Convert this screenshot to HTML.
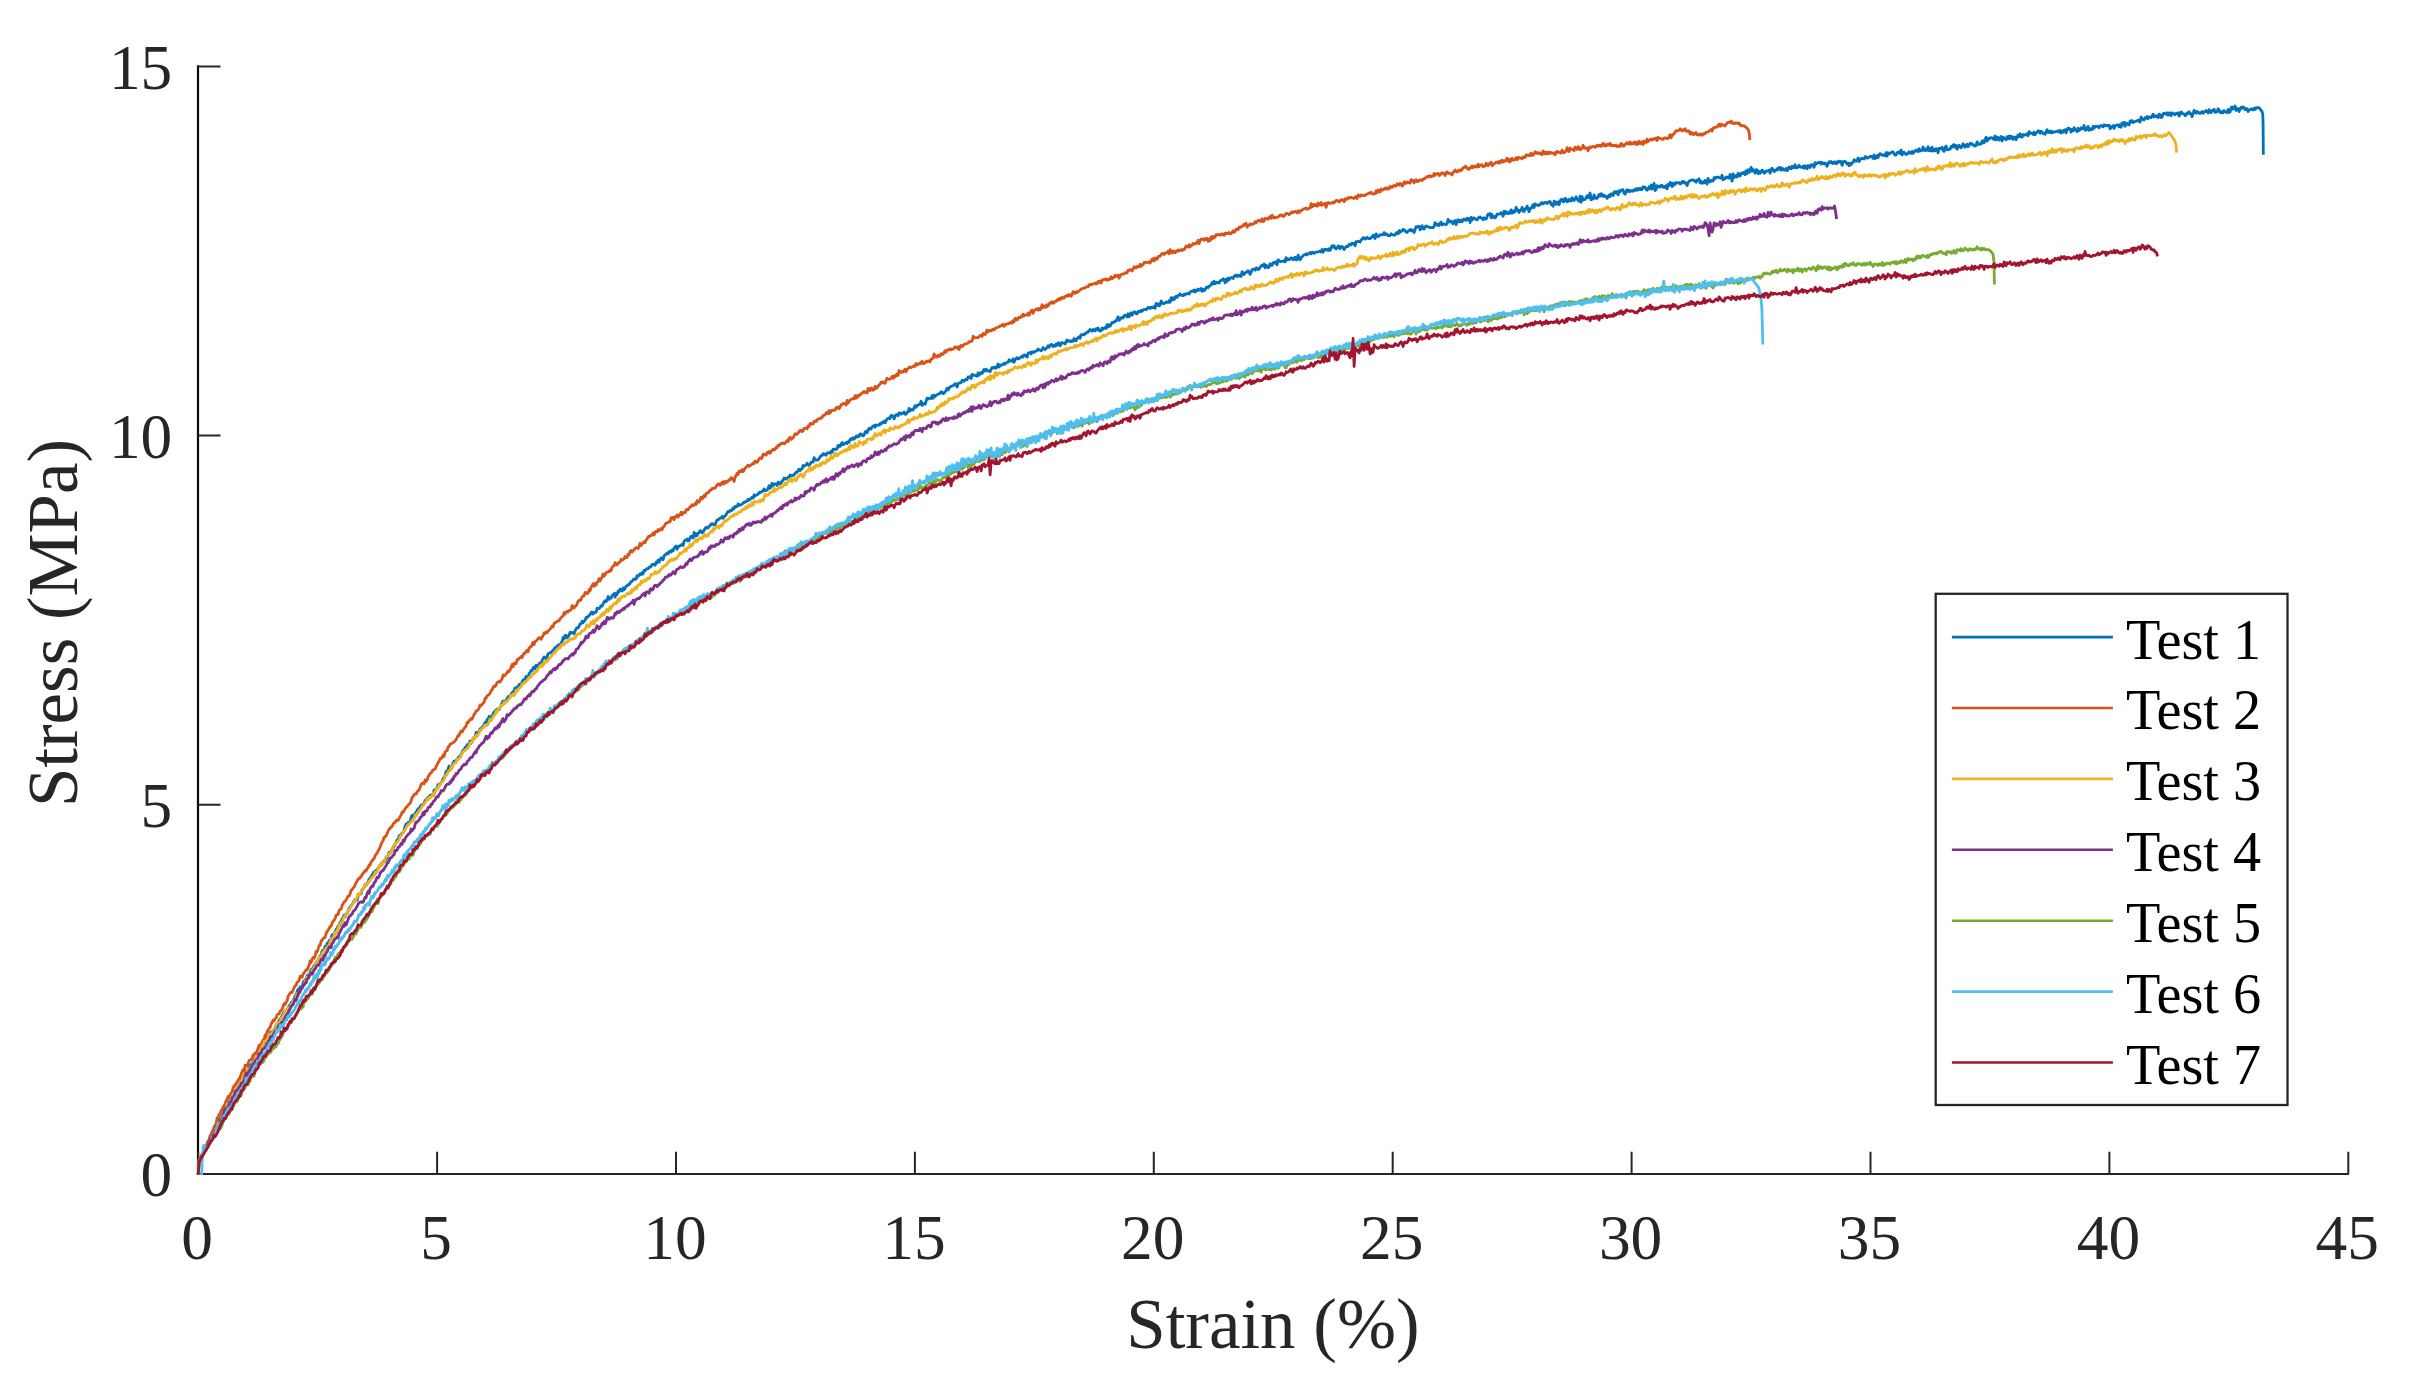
<!DOCTYPE html>
<html lang="en">
<head>
<meta charset="utf-8">
<title>Stress-Strain</title>
<style>
html,body{margin:0;padding:0;background:#fff;}
body{width:2410px;height:1386px;overflow:hidden;}
svg{display:block;}
text{font-family:"Liberation Serif","Times New Roman",Times,serif;}
.tk{font-size:63.4px;fill:#262626;}
.lb{font-size:70.9px;fill:#262626;}
.lg{font-size:56.25px;fill:#000;}
.c{fill:none;stroke-width:2.8;stroke-linejoin:round;stroke-linecap:butt;}
</style>
</head>
<body>
<svg width="2410" height="1386" viewBox="0 0 2410 1386">
<rect x="0" y="0" width="2410" height="1386" fill="#fff"/>
<g stroke-width="2.2" fill="none">
<path stroke="#262626" d="M197.1 1174.0H2348.9"/>
<path stroke="#0a0a0a" d="M198.0 65.3V1175.1"/>
</g>
<g stroke="#262626" stroke-width="2" fill="none">
<path d="M198.2 1174.0v-22.3M437.1 1174.0v-22.3M676.0 1174.0v-22.3M914.9 1174.0v-22.3M1153.8 1174.0v-22.3M1392.7 1174.0v-22.3M1631.6 1174.0v-22.3M1870.5 1174.0v-22.3M2109.4 1174.0v-22.3M2348.3 1174.0v-22.3M198.2 1174.0h22.3M198.2 804.8h22.3M198.2 435.6h22.3M198.2 66.4h22.3"/>
</g>
<g class="c">
<path stroke="#0072BD" d="M198.2 1174.5l0.9-13.6l1-1.9l1-2.3l1-2.3l1-2l1-2.5l1-1.6l1-1.5l1-3.1l1-2.7l1-0.8l1-2.1l1-2.3l1-3.3l1-0.5l1-0.8l1-4.2l1-1.1l1-3.5l1-1.1l1-2l1 0l1-3.4l1-0.2l1-2l1-2.7l1-5l1 0.6l1-1.6l1-1.6l1-3.6l1-0.5l1-2.5l1-1.3l1-0.1l1-3.5l1-0.9l1-0.4l1-3.9l1-1l1-1.1l1-1.5l1-3.4l1-0.3l1 0.1l1-5l1 0.8l1-2.8l1-2.4l1 1.3l1-3l1-3.6l1-0.3l1-1l1-2.6l1-0.6l1-2.2l1-1l1-0.7l1-3.8l1-1l1-2.2l1-1.3l1-3l1-0.4l1-1.5l1-0.1l1-1.4l1-4l1-1l1 0.3l1-4.7l1 0.3l1-1.5l1 0.6l1-2l1-2.2l1-2.1l1-2l1 0.5l1-3.8l1-1.1l1-1.2l1-2.1l1-1.7l1-2.3l1-0.4l1-1.5l1 0.3l1-2.1l1-2.3l1-0.2l1-2.9l1 0.5l1-2.8l1-1.1l1-3.6l1-0.1l1-4l1-2.2l1 0.5l1-2.8l1-0.1l1 0.8l1-5.2l1-1.8l1-0.4l1-1.7l1-2.3l1-1.5l1-0.3l1-1.7l1-3.3l1-0.5l1-1.5l1-2.1l1-0.2l1-3l1 0.2l1-2.6l1-1.9l1-2l1-1.1l1-3.8l1-0.8l1 0.4l1-4.2l1 1.8l1-4.8l1 0.6l1-3.5l1 0l1-2.3l1-3.6l1 1.5l1-1.5l1-2.8l1-2.1l1-1.3l1-2.6l1 0.2l1-3.5l1-1.1l1-2.5l1-1.2l1-2.6l1 1.6l1-2.9l1-0.1l1-2.7l1-2.8l1-0.8l1-1.9l1-0.8l1-2.1l1-1l1-2.2l1-0.5l1 1.2l1-3.9l1-2l1 0l1-0.2l1-4.5l1-0.3l1-1.9l1-3.2l1 1.3l1-1.7l1-1.7l1-3l1 0.3l1-3l1-0.8l1-2.6l1-1.1l1 2.1l1-3.6l1-0.4l1-1.8l1-1.3l1-1.6l1 0.2l1-2l1-1.1l1-1.5l1 0.3l1-1.4l1-1.9l1-2.6l1-2.9l1 1l1-1.4l1-2.7l1-1.3l1-1.5l1-2.1l1-1.5l1-2.9l1 0.6l1-4.8l1 0.4l1-1.8l1-1.3l1-0.5l1-2l1-4.4l1-2.1l1 1.5l1-3.1l1 0l1-0.5l1-4.5l1-2.1l1 1.2l1-1.4l1-1.7l1-1.1l1-1.9l1-1.7l1 0.6l1-2.5l1-1.9l1 1.1l1-1.8l1-0.9l1-2.9l1-0.6l1-1.5l1-1.3l1 0.5l1-2l1-0.1l1-1.1l1 0.3l1-4.6l1 1.4l1-2.4l1-1.4l1-3l1 0l1-0.1l1-2.3l1-1.1l1-2.8l1 0.1l1-3l1-4.1l1 0.7l1-3l1-3l1 1.8l1 0.8l1-2.9l1-3l1-1.4l1 1.2l1-2.4l1-0.6l1-1.7l1-0.9l1-0.6l1-1.8l1-1.7l1-2.7l1 0.3l1-2.9l1 1.1l1-4l1 0.1l1-1.1l1-2.6l1 2.2l1-1.6l1-3l1 0.3l1-1.7l1-4.8l1 1.7l1-1.7l1-0.8l1-2.8l1-0.3l1-1.3l1-0.2l1-2.5l1-2l1 0.9l1-3.8l1-0.5l1-2.7l1 2.6l1-1.8l1-1.6l1-1.7l1-1.9l1-0.8l1-1.3l1-0.6l1-0.8l1 1l1-2.1l1-2.3l1-2.4l1-1.7l1 2l1-2l1-0.7l1-1.7l1-1.9l1-0.2l1-0.1l1-2.7l1-0.9l1-1.3l1-0.8l1-2.8l1 0.6l1-1.6l1 0.5l1-3l1 0.2l1 0.4l1-3.3l1-1.7l1 0l1-1.4l1-2.2l1 0.8l1 0.2l1-3.9l1-1l1-2.1l1 0.3l1-2.8l1-0.9l1 1.7l1-3.5l1 1.6l1-0.8l1-2.3l1-0.7l1 0.5l1-3.2l1-1.5l1-1.8l1 0.9l1 0.8l1-1.9l1-3l1-0.5l1-0.6l1 0l1-1.4l1-1l1-1l1-1.8l1-0.3l1-0.6l1-1.5l1-0.4l1 0.7l1-2.4l1-1.7l1-3.8l1 1.5l1-3.6l1 0l1 2.3l1-1.1l1-1.5l1-2.8l1 1l1-0.9l1 0.6l1 0.9l1-3.1l1-2l1-1.1l1 0.3l1-1.7l1-2.5l1-0.1l1-2.4l1 1.5l1-1.5l1-1.1l1-2.7l1 0.3l1-1.4l1-0.8l1-1.1l1-1.8l1-0.8l1 2.2l1-1.6l1-0.2l1 0l1-4.2l1 0.4l1 0.1l1-1.1l1-1.9l1 0.5l1-2.1l1-2.2l1-1.1l1 0.9l1-1.4l1-3.7l1 2.9l1-1.4l1 0.2l1-2.6l1-0.7l1-1.3l1 3.5l1-3.8l1 1.3l1-3.4l1 0.5l1-2.6l1 1l1 1l1-3.2l1 1.9l1-1.6l1-2.1l1-0.2l1-1.3l1 0l1-1.5l1-1.5l1-0.2l1-1.8l1-0.7l1 0.5l1-0.2l1-3.5l1 0.7l1-1.1l1-1.6l1 0.8l1-1.9l1 1.3l1-3.5l1 0.4l1-1.4l1-0.8l1 0l1-1.5l1 0.3l1-1.1l1-1.8l1 0l1-0.1l1 0.9l1-3.1l1 0.5l1-2.7l1 2.1l1-2.4l1-2l1 1.6l1 0.4l1-3.9l1-1l1-0.6l1-1.2l1 0.8l1-2l1-0.6l1 0.8l1-2l1 0.8l1-2.7l1-1.2l1-1l1 3.5l1-2.9l1 0l1-0.9l1-0.6l1-0.7l1 1.2l1-4.2l1-1.2l1 0l1-1l1 1.9l1-0.5l1-3l1-1.3l1 0.4l1 1.5l1-5.6l1 3.6l1-2.3l1 1.7l1-2.6l1 0l1-2.2l1 0.3l1 1.8l1-0.7l1-2l1-1.5l1-1.4l1 1l1-0.2l1-1.7l1-0.8l1-1.6l1 0.4l1-0.5l1 1.2l1-0.2l1-2.8l1-2.1l1 0l1-0.8l1-1l1 0l1-1.7l1 1.8l1-1.8l1-0.3l1-1.4l1-1.8l1-1.5l1 0.5l1-1.5l1 0.5l1-0.7l1-2.3l1 0.6l1-2l1 0.1l1 0l1-2.7l1 1.5l1-0.2l1-0.5l1-0.6l1-1.1l1-0.9l1 0.2l1-1l1-0.2l1-1.9l1 1.1l1-1l1-1.1l1-0.8l1 0.7l1-3.3l1 1.3l1-1l1-0.4l1-0.5l1-1.6l1-0.6l1 0.4l1-0.9l1-0.7l1-1.9l1 1.8l1-0.1l1-0.5l1-1.8l1-2.7l1 2.8l1-1.8l1-3.3l1 2.6l1-2.1l1 0l1 0.3l1 1.3l1-3.2l1 0.3l1 1.6l1-0.9l1-2.3l1-0.4l1-2.5l1 0.3l1 0.7l1-0.6l1-1.2l1 0.5l1-2.7l1 0.6l1 0.3l1-0.9l1 0.1l1-1.6l1-1.4l1 0.3l1-1.8l1-1.5l1 1.5l1-1.4l1-0.4l1-3.3l1 0.9l1-1l1-0.5l1-1.6l1 1.3l1 1.1l1-1.3l1-2l1-0.4l1 0.1l1-4.5l1 2.2l1 0.4l1-0.4l1 0.2l1-1.5l1-1.6l1-1.2l1 0l1-2l1 0.1l1 0.8l1 0.6l1-2.4l1 0l1-0.2l1 0.6l1-1.9l1 1.1l1-3.2l1 0.4l1-0.6l1 0.3l1-0.3l1-3.7l1 0.1l1 1.1l1-2.4l1-1.7l1 2.3l1-0.6l1-0.7l1-0.9l1 1.1l1-2l1 0.7l1-3l1-0.7l1 1l1-1.9l1 1.4l1-1l1-2l1 0.9l1-1.3l1 0.7l1-2.4l1 0l1 1.2l1 0.7l1-0.9l1-3.1l1-0.4l1 1.2l1-2.9l1-1.5l1 1l1-0.3l1-2.2l1-0.8l1-0.5l1 1.7l1-2.2l1 0.1l1 0l1 0.1l1-1.7l1 0.5l1-1.7l1 0.2l1-1.5l1 1.8l1-2.2l1-1.7l1-0.4l1-0.5l1 0.6l1-3.1l1 0.1l1 0.4l1 2.9l1-2.6l1-1.7l1 0.3l1 0.8l1-2.9l1 0.1l1 1.3l1-0.9l1 0.1l1-1.5l1 2.4l1-0.1l1-1.8l1-0.5l1-3.5l1 2.6l1-1.5l1 0.4l1 0.1l1-2.3l1-2.1l1 1.8l1-2l1-0.1l1-0.9l1-0.4l1-2.7l1 4l1-1.8l1 0.4l1 0.4l1-3.1l1-3l1 0.9l1-0.8l1 0l1 0.2l1-2.9l1 2.6l1-3.1l1 1.5l1-1.2l1-0.6l1-0.5l1-0.8l1 0l1-1.8l1 0.6l1 1.4l1-0.4l1-1.5l1-1.3l1-2.4l1 2l1-2.2l1-1l1-0.6l1-0.1l1-0.7l1-0.3l1-1.6l1 0.6l1 2.8l1-3.4l1-0.8l1 0.1l1-0.1l1-2.5l1 0.3l1 0.7l1-1.4l1-0.6l1 0.6l1-3l1 0.4l1-0.7l1 2l1-4.1l1 0.7l1-0.4l1 0.9l1-0.2l1 0.7l1-3.4l1 2.4l1-1.7l1-1l1 0.9l1-1.9l1-2l1 1.4l1-1.6l1 1l1 0.9l1-0.3l1 0.8l1-2.5l1-1.8l1 0.8l1-0.6l1-0.5l1 1.1l1-1.8l1-2.4l1 3l1-1.8l1 0.2l1-0.7l1-0.3l1-1.2l1 1.1l1-1.5l1-0.3l1-0.3l1-2.4l1 1.2l1-0.2l1 0.6l1-2.5l1 3.4l1-2.3l1-1.6l1-0.7l1 1.2l1-0.3l1-1.1l1-0.2l1-1.4l1 1.2l1-2.3l1 0.1l1 1l1 1.2l1-3.9l1-0.3l1-0.5l1 1.7l1-2.3l1 0.5l1 0.1l1-1.3l1 0l1-0.4l1-1.7l1 0.8l1 0.4l1 0.6l1-1.3l1-1.9l1 1.1l1 0.9l1-1.2l1-1l1-1.6l1 1.5l1-1.9l1-1l1 0.4l1 1.8l1-1.3l1 0.8l1-2.1l1 1.4l1-2.5l1-0.1l1 3.1l1-2.1l1-1.3l1 0.6l1 0.1l1 0.8l1-2.5l1-1.6l1 1.4l1 0.1l1-0.6l1 1l1-1.1l1 0.5l1-2.7l1 1.9l1 0.5l1-2.2l1-1.1l1-0.9l1 1.6l1-3.7l1 0.1l1-0.1l1 0.3l1-1.6l1 0.1l1-1.4l1 0.1l1-1.3l1-1.4l1 1l1 0.8l1-1.7l1 0.4l1 1l1-2.3l1 1.2l1-1.8l1 2.4l1 0.7l1-0.2l1-2.9l1 1.2l1-1l1-0.8l1 1l1-3.7l1 2.2l1-2.1l1 1.4l1-1.9l1-2l1 0l1 0.1l1-1.4l1 0l1-1.8l1-2.3l1 3.4l1-0.8l1-1.5l1-0.7l1 0.7l1-2.3l1-0.6l1 0.5l1 1.3l1-3.1l1 2.9l1-2.7l1-1.2l1 2.3l1-2l1-1.3l1 0.5l1 1.5l1 0l1-2.4l1 0.4l1 0l1-1.5l1 1l1-1.3l1-0.6l1 0l1 0.4l1-0.9l1-1.5l1 0.2l1 0.8l1-1.3l1 0.6l1 0l1-1.2l1 1.7l1-4.7l1 1.7l1-1.4l1 2.1l1-0.8l1-4.1l1 1.4l1 1.1l1 0.1l1-0.5l1-1.2l1 0.4l1 0.1l1-1.6l1 1.4l1-4.5l1 2.3l1-2.3l1 1.9l1-2.2l1-1.2l1 1.3l1-2.2l1-0.1l1-1.4l1 1.5l1 0.1l1 0.4l1-1.7l1 1l1-1.4l1 0l1-0.1l1 0.5l1-2.2l1-0.5l1-0.3l1 0.2l1-1.4l1 2.1l1-1.9l1 0.6l1-1.7l1 1.2l1-0.1l1-1.6l1 2.9l1-2.2l1 1.4l1-0.9l1-2.1l1-0.7l1 0.8l1-1.4l1-0.5l1-1l1-2.3l1 1.4l1-2.6l1 2.5l1-1.2l1-0.4l1 0.6l1 0.2l1-2l1-0.7l1-0.2l1-1.4l1 1l1 3.2l1-3.7l1 2l1-3l1 1.7l1-2l1 0l1-0.3l1 0.9l1-2.2l1-0.6l1-0.8l1 1.6l1-1.2l1 0.7l1-0.8l1 1.3l1-4.9l1 1.2l1 1.8l1-1.6l1-0.8l1 0l1-1.6l1 1.6l1 2.1l1-2.1l1-2.6l1-0.2l1-0.2l1 1l1-2.3l1 0.3l1 1.4l1-0.6l1-1.7l1-1.2l1-1l1 0.9l1-2l1 3.8l1-2.5l1 0.9l1 1.6l1-0.9l1-3.1l1 1.6l1-0.1l1-2.4l1-0.6l1 1l1-1.6l1 3l1-4.8l1 0.6l1 1l1-0.1l1 0l1 0l1-0.7l1 1.2l1-4.3l1 2.3l1-1l1 0.8l1-0.4l1-1.5l1 0.3l1 1.7l1-1.1l1-1.6l1 2.8l1-0.2l1-4.5l1 2.3l1 2.3l1-2l1-1l1-1.2l1-0.7l1-0.2l1-0.9l1 1.1l1-1.2l1-0.1l1-1.1l1 1.3l1-1.7l1 0.4l1 1l1-1.2l1-0.1l1 0l1-0.4l1-0.2l1-0.5l1 1l1-2.6l1 2.6l1-2l1-1l1 0.9l1-0.5l1 0.9l1-1.6l1 1.6l1-2.6l1-2.1l1 1.4l1-1.4l1 2.5l1 0.7l1-0.7l1-2.2l1 0.4l1 2.2l1-1.9l1-0.2l1 1.2l1 1.8l1-1.6l1-1.4l1 0.1l1-0.3l1-1.8l1-0.5l1 0.9l1-1.7l1 0.6l1-0.4l1 2.4l1-4.2l1 0.1l1-0.4l1 0.4l1 0.3l1-2.3l1-0.4l1-1.7l1 0.2l1 1.3l1-0.6l1-1.2l1 1l1 0.3l1 0l1-1.2l1 0l1-2.2l1 0.1l1 3.2l1-4.7l1 2l1 0.8l1-0.9l1-1l1 0.3l1-0.2l1-0.1l1-2.1l1 2.1l1-0.9l1 0.5l1 1.2l1 0.1l1 0.1l1-1.9l1 1.1l1 0l1 0.1l1 0.2l1-2.2l1-0.6l1 1.4l1-3.1l1 1.6l1-1.3l1 0.2l1-1.9l1 0.4l1 1.1l1 1.4l1 0.2l1-1.4l1-0.6l1-0.9l1 1.4l1-1.1l1 1.1l1 1.7l1-3l1-2.8l1 0.4l1-0.8l1 0.1l1 3.4l1-1.4l1-2.9l1 2.9l1 0.5l1-2.4l1-0.6l1 0.4l1 0.5l1 0.4l1 0.4l1 0l1-0.4l1 0.4l1-1.4l1-3.6l1 1.6l1 1l1-1.3l1 1.5l1-2.3l1-1.1l1 2.9l1-1.1l1 0l1 0.6l1 0.2l1-1.2l1-4.1l1 2.4l1 0.1l1-1l1 1.6l1 1.3l1-2.4l1-0.9l1 4.2l1-3.5l1-1.6l1 2.2l1 0.1l1-1.9l1 1.7l1-2.1l1-0.7l1 1l1 0.5l1-2.1l1 1.3l1-1.2l1 4.2l1-5.2l1 2.7l1-2l1-0.3l1 1.1l1 0.6l1 0.4l1-1.6l1-1.1l1-0.2l1 1.2l1-0.1l1 1.8l1-2.1l1 0.7l1 0.6l1-2.3l1-2.7l1 0.4l1-1l1 4.3l1-3.3l1 2.7l1-0.8l1 1.5l1-1.5l1-2.3l1-0.1l1 0.2l1-0.2l1-1.4l1 1.1l1 2.4l1-4.9l1 2.5l1-2.1l1 1.4l1 0.7l1-1.5l1 1.1l1-3.4l1 3.3l1-2.3l1 1.3l1-0.5l1-4.3l1 2.1l1 1.2l1 1.8l1-2.1l1-0.4l1-2.6l1 3.7l1 0.4l1-2.5l1-0.7l1-2.2l1 3.1l1 2.4l1-3.3l1 0.1l1-1.5l1-2.2l1 2.9l1-3.8l1 1.1l1 0.1l1 0.6l1-0.9l1 0.1l1-1.6l1-0.7l1 1.4l1-0.9l1-0.7l1 0.6l1 0.6l1-1.7l1 0.3l1-0.6l1 3l1 0l1 1.7l1-5l1 0.7l1 2.5l1-2.3l1-0.1l1 2.7l1-3.6l1-1.6l1-0.3l1 2.6l1-0.3l1-3.1l1 0.8l1 2.5l1-0.2l1-2.2l1 1.5l1 0.2l1-3.3l1 1.7l1 1l1-1.5l1-2.1l1 2.4l1 1l1 1.1l1-5.2l1 6.1l1-5.5l1 3.2l1-0.1l1-0.5l1-1.7l1-2l1 2.3l1-1.8l1-3.1l1 6.8l1-2.6l1 1.8l1-4.2l1 3.2l1 0.4l1-0.1l1-2.1l1-1.7l1 1.8l1-2.6l1 0.6l1 2.2l1-1.3l1 1.1l1 0l1 2.1l1-1.5l1-1.9l1 1.6l1-2.8l1 0l1 1.7l1-3.6l1 1l1-1.5l1 1.7l1 1.7l1-4l1 1l1-1.7l1-0.1l1-0.3l1 3.6l1 1l1-2.6l1-1.9l1 1.8l1-1.5l1 1.4l1-0.9l1 0l1 0.7l1-1.6l1 0.6l1-1.7l1 1.6l1-1.8l1 1.1l1-1.2l1 1.2l1 0l1-2.8l1 0.7l1-0.3l1 2.1l1 1l1-1.1l1-2.3l1 1.9l1-3.7l1 4.1l1-2.6l1-3.1l1 7.2l1-1.2l1-3.7l1 1.2l1-0.5l1 0.7l1-2l1 0.5l1 1.6l1-0.8l1 1l1-1.6l1 3.1l1-4.6l1 1.2l1-3.1l1 0.7l1 3.5l1-3.4l1 1.8l1-1.2l1-1.4l1 0.6l1-0.1l1-0.3l1 1.4l1-0.5l1-1.9l1-0.2l1 1.5l1-0.7l1 1.4l1 1.9l1-2.7l1-1.7l1-0.3l1-0.8l1 0.1l1-0.3l1 1.1l1-0.2l1 1.6l1-2.2l1 0l1-1.3l1 4.1l1-1.5l1 1.8l1-1.4l1 1.1l1-2.5l1 1.1l1 2.6l1-5.8l1 3.2l1 0.5l1-1.7l1 0.3l1 0.4l1-3.3l1 1.1l1-1.6l1 0.1l1-0.3l1 0.5l1 0.4l1 0.1l1-2.7l1 4.6l1-1.2l1-0.1l1-1.5l1-0.1l1 1.1l1-0.2l1-3.5l1 3.5l1 3.2l1-7.2l1 3.7l1-1.1l1-1l1 1.6l1-3.8l1 1l1 1.7l1-2.7l1-0.4l1 0.6l1-1.3l1 2.4l1-3.8l1 2.8l1-3.8l1 2.6l1-1.5l1-3.5l1 3.8l1-1.6l1 0.8l1 2.8l1-3.5l1 0.1l1 3.8l1-2.1l1 1.8l1-1.8l1-1.4l1 1l1 2.1l1-0.7l1-1.5l1 0.1l1-0.3l1-0.8l1 3.2l1-3.2l1-1.8l1 1.3l1 2l1-0.4l1-1l1-1.4l1 0.9l1-2.3l1 0.2l1 2.8l1-2.3l1 1.1l1 1.1l1-0.5l1-1.3l1 2.4l1-2.1l1-1.8l1 1.7l1 0l1-2.3l1 1.5l1-0.2l1-2.9l1 3.1l1-0.3l1-0.1l1-2.2l1 1.5l1 0.6l1 0l1-1.3l1 2.3l1-2.6l1 1.5l1 1.7l1-3.4l1 0.3l1 1.8l1-2.7l1-0.3l1 0.7l1 2l1-4.7l1 1.5l1-0.7l1-0.8l1 0l1-0.5l1 1.9l1-1.6l1 1.3l1 0.3l1-1l1 1.2l1 2.1l1-2.7l1-1.8l1 0.8l1-1.2l1 1.6l1 0.6l1-1.8l1 0.2l1 1.9l1-2.1l1 1l1-1.6l1 0.2l1 0.4l1 3.6l1-3.7l1-0.2l1 0l1 0.9l1 1.7l1-0.9l1 2.6l1-2.6l1 1.5l1-1.9l1-0.3l1-2.9l1 1.3l1 0.3l1-0.5l1-2.7l1 3.6l1-2l1-1l1-0.1l1 0.1l1 0.4l1-2.4l1 0.2l1 1.3l1-0.4l1-0.6l1-0.7l1-0.1l1 0.5l1 1.6l1-3.4l1 3.6l1-0.5l1-2.5l1 1.9l1-3l1-0.9l1 0.6l1 1.1l1-0.2l1-0.1l1 0.8l1-3.1l1 3.5l1-3.4l1 1.1l1-0.5l1-0.8l1-0.6l1-0.1l1 2l1 1.2l1-0.1l1-2.4l1-0.1l1-0.7l1 1.8l1-3.6l1 5l1-2.5l1-0.3l1 1.2l1 1.1l1-0.8l1-0.1l1-1.8l1 1.2l1 0.4l1-2l1 2l1-1.9l1 0.1l1-1.7l1 0.6l1 1.1l1-2.8l1 2.2l1-0.9l1 0.5l1-3.6l1 2.9l1 0.8l1-1.7l1 1.3l1-3.5l1 3.9l1-2.1l1 2.4l1-3.6l1 3.6l1-1.4l1 1.3l1-2.3l1 0.4l1 3.8l1-4.4l1-0.1l1 0.4l1-1.4l1 3.2l1 0.8l1-3.9l1-1.3l1 3.8l1-0.2l1-0.5l1 0l1-2.8l1 0.8l1-2.1l1-0.5l1 2.8l1-2l1 3.8l1-2.8l1-1.2l1 1.5l1 1.1l1-2l1-2.1l1 2.4l1 1.1l1-2.5l1-0.4l1 2.4l1-1.5l1-1.9l1 0.9l1-0.5l1 1.6l1-0.3l1 1.1l1-0.8l1-3.4l1 2.2l1 0.3l1-0.8l1 0.5l1-2.8l1-0.6l1 2.1l1-3.5l1-2l1 3.9l1-2.7l1 0.6l1-1.3l1-0.2l1 0.2l1 1.1l1 0.6l1-3.5l1 4l1-2.8l1 0.3l1 2.6l1-1.5l1-2.2l1 4.6l1-3.8l1 1.2l1 0.2l1 1.1l1-2.9l1 1.9l1-2.7l1 2.6l1-2.3l1 0.4l1 2.7l1-2.2l1 0l1 2.6l1-2.7l1-2.1l1 1.7l1-2.9l1 3.1l1 0.3l1-2.7l1 0.2l1 0.5l1-0.4l1-1.1l1 2l1-4l1 1.7l1-0.2l1-0.1l1 1.3l1-2.1l1 2.5l1-1.8l1-0.6l1-1.7l1 0.5l1 2l1-2l1 1.1l1 1.1l1 0.5l1 0.3l1-2.8l1-1.7l1 2.7l1-1.2l1 1.4l1-1.7l1 2l1-0.9l1 0l1-0.2l1-0.2l1-0.2l1-0.6l1 1.2l1-1.5l1 2.6l1-2.2l1 1.2l1-1.9l1-0.6l1 3.3l1-3.1l1-1.7l1 0.3l1 0.7l1 3l1-2.7l1 1.4l1-3.1l1 2.1l1 0.3l1 1.5l1-3.3l1 2.2l1-0.9l1-1.8l1 1.1l1-0.2l1-3.2l1 4.7l1 0l1-2l1-1.8l1 4l1-1.8l1 0.9l1 0l1-3.2l1 1.9l1-1.8l1 0.1l1-0.2l1 0.3l1 1.1l1-1.7l1-0.5l1 0.5l1 0.8l1-2l1 0.4l1 0.7l1-0.5l1 0.2l1-0.4l1 3.6l1-1l1-1.5l1-0.7l1 2.8l1-2.7l1-0.5l1-0.1l1-0.2l1 1.9l1-2l1 2.5l1-4.4l1 1.9l1-2.4l1 4l1-3.3l1 0.3l1 1.1l1 0.4l1-4.1l1 1.1l1-1.3l1 1.9l1-0.7l1-0.2l1-0.5l1-0.1l1-1l1 1l1 1.1l1-5.1l1 2.4l1-0.5l1 1.1l1-2.3l1 0.5l1-1.7l1 2.2l1-1.4l1-0.5l1 0.8l1-1.4l1-2l1 2.7l1-0.6l1-0.7l1 1.4l1 0.5l1-3.3l1 0.5l1 2.8l1-0.4l1-3.2l1-0.7l1 0.6l1 0.4l1-1.4l1 2.3l1-2.1l1 0l1 2.7l1-2.8l1 0.4l1 1l1 0.4l1-1.5l1 0.4l1-0.9l1 3.3l1-1.7l1-2.4l1 1.1l1 0.9l1-0.1l1 1.9l1-0.4l1-2.4l1 0.5l1-1.6l1 2.1l1-0.2l1 3l1-3.3l1-3l1 2l1 0.9l1-1.8l1 0.6l1 0.8l1 0.7l1-1l1-1.1l1 1.9l1-1.7l1 0l1-1.1l1 0.9l1 1.4l1-3.2l1 2.3l1 0.6l1-2.2l1 0.5l1-1.7l1 3.2l1-0.2l1-0.6l1-2.8l1 1.1l1 2.6l1 0.4l1-1.4l1 1.3l1-2.3l1 1.3l1 0.4l1 0.4l1-3.1l1 2.9l1-0.5l1-4.3l1-0.7l1 2.3l1-1.5l1-1.8l1 4.6l1-0.9l1-1.1l1 3.1l1-2.7l1-1.6l1 0.9l1-1.2l1 0.7l1 2l1-0.9l1-0.2l1 3l1-1.6l1-0.3l1-0.7l1 0.1l1 0.8l1-1.7l1 1.3l1-1.8l1 0.3l1-0.4l1 0.3l1.4 1.6l1.5 2l0.8 3l0.3 10.5l0.2 29.7"/>
<path stroke="#D95319" d="M198.2 1174.5l0.9-13.7l1-2.4l1-2.5l1-1.3l1-2.7l1-1.5l1-2.5l1-2l1-1.5l1-3.3l1-1.4l1-4.4l1 0l1-3.6l1-2.1l1-2.5l1-2.1l1-0.9l1-6.2l1-0.6l1-3l1-0.2l1-3.5l1-1.3l1-2.4l1-1.1l1-2.2l1-2.7l1-1.5l1-3l1 0.2l1-1.2l1-2.8l1 0.3l1-5.3l1-1.5l1-1.3l1-1l1-1.9l1-1.6l1-1.7l1-1.3l1-3l1-2.4l1-2.3l1 1.7l1-6.1l1 0.6l1 0.4l1-2.8l1-2.9l1-0.3l1-0.7l1-1.2l1-3.4l1 0.2l1-2l1-0.6l1-1.3l1-3.2l1-2.9l1 0.1l1-0.6l1-2.5l1-2.2l1 0.1l1-4.9l1 0.1l1-3.7l1-1.2l1-2.1l1-0.5l1-3.8l1-1.3l1-2.3l1 0.6l1-2.3l1-0.7l1-3l1-0.7l1-0.2l1-2.8l1-0.6l1-1.7l1-2.4l1-2.7l1 0.7l1-2.4l1-1.1l1-4.8l1-1.3l1-2.1l1-0.7l1 0.5l1-2.5l1-2.6l1-1.8l1-0.5l1-2.9l1-0.7l1-1.2l1-4.1l1 0.5l1 0.6l1-3.3l1-1l1-1.8l1-1.6l1 0.4l1-2.7l1-2.2l1-4.3l1 1.7l1-3.3l1-1.9l1 0.9l1-2.2l1-4.8l1 0.7l1-2.9l1-3.4l1-0.3l1-4.3l1-0.9l1-1.6l1-0.9l1-0.3l1-3.9l1-2l1-1.5l1-1.2l1-2.4l1-0.2l1-3.1l1-1.9l1-0.9l1-1.6l1-3.3l1-0.8l1-0.3l1-3.8l1-1.2l1-0.2l1-3.7l1-1.5l1-2l1-0.4l1-1.5l1-2.3l1-1.6l1 0l1-2.2l1-3.5l1-0.6l1-1.8l1-0.8l1-2.5l1-2l1-1.6l1-2.2l1 0.3l1-2l1-0.1l1-2.7l1-0.8l1-1.6l1-1.6l1 0.6l1-2.5l1-0.6l1-2.9l1 0.2l1-3.4l1-0.7l1-1.8l1-0.6l1-2.8l1-1.8l1-0.9l1-2.4l1-1.6l1-2l1-2.8l1-2.4l1-1.5l1-3l1-0.7l1-1.1l1-2l1-2.5l1-2l1-0.8l1-1.5l1-0.3l1-2.7l1-1l1-0.4l1-1.8l1-0.8l1 0.5l1-1.6l1-2.3l1-1.5l1-2.9l1 0.2l1-2.2l1-1.1l1-1.8l1-0.5l1-1.5l1-1.1l1-0.5l1-2.6l1-3.7l1-0.8l1-1.8l1-0.7l1 0l1-2l1-1.2l1-0.9l1-2.6l1-2.8l1-1.1l1-0.4l1 0.9l1-4l1 1.5l1-1.2l1-3.5l1-1.3l1-1.9l1-0.7l1-1.3l1-1.7l1-0.1l1-0.8l1-2.5l1-1.6l1-2.3l1-1.1l1-2.9l1 0.1l1-1.2l1-2.5l1 1.5l1-4.3l1-1.2l1-0.2l1-3.9l1-0.2l1-2.5l1-0.4l1-0.5l1-0.6l1-0.5l1-1.4l1-1l1-2.2l1-2.2l1 0.2l1-3l1-1.5l1 1l1-2l1-1.4l1-1.4l1-1l1-3.7l1 0.3l1-2.5l1-0.1l1-1.7l1 0.5l1-2.2l1-2.6l1-0.8l1-2.5l1-0.2l1-0.9l1-1.5l1-3.3l1 0.5l1-0.9l1-1.8l1-0.3l1-4.3l1 0.1l1-2.5l1-0.6l1-0.8l1-1.3l1-2.6l1-0.5l1-2.5l1-1.6l1 0.6l1-1.6l1-2.4l1-0.4l1-0.7l1 0.6l1-1.7l1-1.3l1-4.1l1 0.9l1-0.6l1-1.4l1-1l1-1.8l1 0.5l1-1.5l1-3l1-2.5l1 2.4l1-3.6l1 0.5l1-0.2l1-3.9l1 0.2l1-1.7l1-0.3l1-1.3l1 0.9l1-2.4l1-2l1 0.2l1-1.8l1-1.3l1 1.7l1-3.9l1-0.9l1-0.4l1-2.5l1-2l1 2.4l1-3l1-0.7l1-1l1-1.2l1-1.1l1 0.1l1 1.7l1-2.5l1-1l1-3l1 0.7l1-1.6l1 0.7l1-1.8l1-0.4l1-1.3l1-1.3l1-1.9l1 0.8l1-3.4l1-0.6l1-0.6l1-1l1-0.3l1-0.1l1-2.2l1-0.7l1-1.4l1-0.3l1-3.7l1 1.6l1-2.1l1-0.7l1 0.7l1-1.5l1-0.1l1-0.6l1-4.1l1 1.1l1 1.3l1-1.9l1-0.4l1-2l1-2.5l1-1.2l1 0.5l1-1.1l1-2.7l1-0.7l1-0.3l1-3.4l1 0.2l1 1l1-0.4l1-3.4l1 0.9l1-3.6l1-1.3l1-2.1l1 2.6l1-2.8l1 1.6l1-2.7l1-0.8l1-3l1 2.5l1-2.6l1-1l1-3.5l1 2.1l1-1.1l1-2.4l1-0.4l1-0.6l1 0.2l1-1.8l1 0.5l1-3.2l1-1l1-0.5l1-3.1l1 1.1l1 1.1l1-1.4l1-1.3l1-0.1l1-2.8l1 0.8l1-0.4l1-0.8l1-2.4l1 1.2l1 0l1-3.5l1 0.5l1-3.3l1-0.9l1 1.6l1-1.6l1-0.6l1-1.5l1-0.8l1 0.5l1 0.5l1-2.4l1-2.9l1 2.3l1-1.7l1-1l1-1.2l1 1.1l1-2.9l1-0.6l1-2.6l1 0.1l1-1.1l1-0.1l1-0.8l1-1.9l1 2.1l1-3.4l1 0.1l1 0.2l1-2.4l1 1.2l1-0.7l1-1.5l1 1.2l1-2.6l1-0.7l1-2l1-1.2l1-0.2l1-0.6l1-1l1 0.4l1-4.2l1 0.8l1-1.1l1 2.3l1-2.6l1-0.6l1-1.4l1 2.1l1-2.1l1-0.2l1-2.7l1 2.6l1-1.9l1-0.5l1 0.4l1-2.4l1-1.1l1 0.5l1-1.4l1-1.5l1-0.3l1-1.7l1 0.7l1-0.4l1-1.5l1 1l1-4l1 0.7l1 1l1-3.1l1-2l1 1.9l1-1.4l1-2.6l1 1.4l1-2.7l1-1l1 0.2l1-1.6l1-1.2l1-0.1l1-1.6l1 0.1l1-0.4l1 0l1-1.7l1-1.6l1-1l1 0.1l1 1.3l1-1.3l1-1.7l1 1.8l1-2.7l1 1.9l1-1.9l1 0.8l1-1l1-1.6l1 0.3l1-2.3l1 0.6l1 0.9l1 2.3l1-4.3l1-1.5l1-2.2l1 1.1l1-3.4l1 0.1l1 0.4l1-2.1l1 2.1l1-1.4l1-2.1l1-0.6l1-1.5l1-0.8l1 1.2l1-0.6l1-1l1-0.5l1-1.3l1 0.5l1-2.5l1 0.7l1 0.7l1-1.3l1-2.5l1-0.8l1 0.7l1-0.6l1-3.7l1 0.4l1-0.1l1 0.7l1-2.8l1 0.5l1-1.4l1 1.8l1-1.9l1-1.2l1-0.9l1 0.8l1-0.9l1-1.8l1 0.2l1-2.3l1 0.3l1-1.5l1-0.6l1 0.1l1-0.7l1 0.9l1-0.7l1-1.2l1-1.4l1 1.2l1-3.5l1-1l1 2.1l1-0.7l1-0.8l1-1.9l1-2.2l1 0.4l1 0.3l1-1.7l1-0.7l1-1.7l1-0.1l1 1.4l1-0.9l1-2.3l1-0.2l1-0.2l1 0.8l1-2.8l1 0.5l1-3l1-0.2l1 0.7l1 0l1-2.6l1-0.3l1 0.4l1-1.8l1-0.6l1-0.1l1-1.1l1 0.4l1-0.8l1-2.1l1-0.1l1-0.6l1-1.7l1-0.6l1 1.4l1-3.3l1 2.5l1-1.9l1-1l1 0.4l1-0.6l1 0.2l1-2.4l1 0.1l1-0.9l1 1.9l1-1.6l1-2.6l1-0.1l1-1.1l1 0.2l1 0.3l1 1.2l1-4.7l1 2.6l1-1.5l1-1.5l1-0.6l1-0.6l1-0.2l1 0.2l1-3.1l1 2.6l1-2.7l1 1.3l1-2l1 0.1l1-1.3l1-0.3l1-1.2l1-0.8l1 1.1l1-0.4l1 0.9l1-4.6l1 1.4l1 0.8l1-2.7l1 0.5l1 1.9l1-0.9l1-3l1 2l1-0.8l1-1.5l1-1.1l1-0.9l1-2.1l1-0.2l1 1.2l1-1l1 1.3l1-2.9l1-2.3l1 1.1l1 0.1l1-0.3l1-0.9l1-1.6l1 1.8l1-2.5l1 1.1l1-1.5l1-1.5l1 1.5l1-4.9l1 1.5l1 0.5l1-1l1 0.5l1-1.6l1-1.2l1 2.6l1-2.6l1-0.4l1-1.5l1-0.2l1 0.5l1-0.7l1-0.5l1-0.8l1 0.8l1-2.9l1 1.3l1-0.4l1-1l1 0.4l1-1.6l1-0.9l1 2.4l1-1.1l1 0.4l1-1.5l1 0.4l1-1.1l1 0.3l1 0.8l1-3.1l1 0.1l1-0.8l1-4.2l1 2.1l1 1.1l1 0.1l1-2l1 1.2l1-0.4l1-2.4l1 0.9l1-0.3l1-1.7l1-1.8l1 1.5l1-1.9l1-0.6l1 0.3l1-1.2l1 0.9l1-0.6l1 0.1l1-1.1l1-1.4l1 0.5l1 1.1l1-1.4l1 2.7l1-3.3l1-1l1 1.5l1-1.2l1-1.1l1-0.6l1-0.1l1-0.3l1-0.3l1-1.6l1 0.1l1-0.3l1-0.5l1-4.7l1 1.7l1-0.4l1 0.2l1 0l1 0l1-1.1l1-1.1l1 0.1l1 1l1-3.2l1 0.7l1 0.4l1-1.9l1-2.6l1 1.9l1-1.2l1-0.4l1 0.6l1-1l1-0.8l1 0.8l1-1.3l1-0.9l1-0.1l1-0.4l1-0.5l1-0.8l1 0.1l1-1.1l1-0.6l1 2.1l1-1.8l1 0.2l1-0.9l1-0.2l1-0.3l1-0.3l1-1.2l1 1.2l1-2.5l1 1.3l1-3.5l1-0.1l1 1.8l1-1.7l1-1.1l1 0.3l1-1.3l1 0.5l1-2.7l1 1.7l1-1l1 0.4l1-0.1l1-2l1 2.1l1-2.3l1-2.1l1-0.8l1 3.3l1-2.3l1-1.3l1-0.5l1-0.4l1 1.5l1-1.9l1 1.4l1-1.9l1-3.1l1 2.9l1-1.5l1-0.4l1 1.6l1-2.6l1 1.1l1-2l1-1.2l1 0.5l1-1.6l1 1.7l1-0.4l1-1.8l1 0.3l1-0.9l1-1.6l1 1.1l1-1.8l1 0.9l1-2l1 1.1l1-0.1l1-1.7l1-0.3l1-0.8l1 1l1-1.8l1 0.9l1 0.9l1-2l1-2.7l1 1.5l1 0.3l1-1.7l1 0.8l1-1.1l1-0.5l1-0.8l1-1.1l1-0.4l1-0.2l1-0.2l1-0.4l1-0.9l1 0l1 0l1-2.3l1 0.2l1-0.6l1 0.4l1-0.6l1-0.5l1-0.6l1 1.2l1-0.6l1-2.1l1 1l1-1.5l1 2.2l1-2.8l1-0.8l1 0.3l1-0.8l1-0.2l1 1.6l1-1.3l1 0.4l1-0.4l1-2.4l1 2.1l1-1.1l1-0.3l1-2.3l1 1.3l1 0l1-1.4l1 3.2l1-1.9l1-1.8l1-0.3l1-0.1l1-0.1l1-1.3l1 0.3l1-0.1l1-2.8l1 0.5l1-1l1 0.3l1 1l1-1.6l1-2.6l1 0.7l1 0.6l1-1.6l1 0.4l1 0.1l1-2.8l1 2.3l1-1.1l1-0.8l1-2l1-0.1l1-0.2l1 0.5l1-0.4l1-0.5l1 1.2l1-1.3l1-2.7l1-0.3l1 2.1l1-2.9l1 1.5l1 0l1-2.8l1-0.3l1-0.1l1-1.7l1-1.1l1 0.2l1 1l1-1.4l1-0.2l1-0.7l1-1l1 2.5l1-4.1l1 1.9l1 1.3l1-2l1 1.4l1 0.6l1-2l1 0.5l1-1.5l1 1l1-0.9l1-0.3l1 0.9l1-1.2l1 0.3l1-1.6l1-2.2l1 1l1 0.2l1-2.4l1 2.2l1-1.6l1-0.1l1-1.7l1 0.4l1 0.1l1-1.4l1 0.4l1-2.8l1 3.5l1-3.1l1-1.7l1 0.5l1-0.3l1 1.1l1-1.7l1 1l1-1.1l1 3l1-2.1l1 1.3l1-3.7l1 2l1-2.5l1 1.3l1-0.6l1-2.5l1 0l1 0.4l1-0.5l1 0.7l1-0.6l1-0.8l1 1.1l1 0.4l1-2.2l1 0l1 0.8l1-0.8l1-0.6l1 1.3l1-0.1l1-1.5l1-1.4l1 1.5l1-0.9l1-2.2l1-0.2l1 0.7l1-2.6l1 0.6l1-0.7l1-1.1l1 0.3l1-1.9l1 0.5l1-1.5l1 3.9l1-1.3l1-0.7l1-1.4l1 0.9l1-0.5l1-0.3l1-0.3l1-2l1 1.3l1-1.8l1-0.6l1-0.3l1 1.1l1 0.1l1-2.7l1 2.8l1-0.4l1-2.6l1-0.1l1 0.2l1 0.7l1-1.8l1-0.9l1 1.7l1-3.1l1 2.1l1 0.8l1-0.9l1 0.3l1-0.2l1-0.3l1-0.9l1-1.1l1 0.5l1-0.5l1 1.4l1 0l1-1.8l1-1.3l1 0.2l1 0.3l1 1l1-1.2l1-0.8l1-1.1l1 1.1l1-0.9l1-0.4l1 0.2l1 1.2l1-2.2l1 1.7l1-0.5l1-1.8l1 0.1l1-0.8l1-0.8l1 0l1-0.6l1 1.3l1-0.8l1-0.2l1-0.1l1-4.5l1 3.1l1-2.2l1 1.2l1-1.4l1 1.1l1 0.7l1-3.2l1 2.1l1-0.2l1-2.4l1 2.7l1-0.7l1-0.7l1-0.5l1 4l1-3.6l1-1.2l1 0.6l1 0.2l1-0.2l1 0.1l1-1.2l1 0.8l1-1l1-1.4l1 0.1l1 0.3l1 1.2l1-0.9l1-1.5l1 0.2l1 0.1l1 1.8l1-2.9l1 0.7l1-0.3l1-1.8l1 0.7l1-0.3l1-0.5l1 0.5l1 0.3l1 0.3l1-1.6l1-0.1l1 1.8l1-3.6l1 1.3l1 0.2l1-1.4l1 0.6l1-0.5l1 0.4l1 0.1l1-1.2l1-0.3l1-0.5l1-0.6l1 0.3l1-1.1l1 1.2l1 0.7l1-0.1l1-0.5l1-2.7l1 2l1-2.8l1 0.5l1 1.5l1-3.1l1 1.2l1-0.2l1-0.7l1-1.2l1 1.1l1-1.3l1 1.3l1-0.2l1-2.5l1 0.8l1 0.2l1-1.5l1-0.5l1 0.9l1-0.3l1-2.2l1 0.6l1 0.8l1-1.8l1 0.5l1 2.1l1-0.5l1-3.6l1 0.3l1 1.3l1-1.6l1 0.7l1-0.2l1 0.8l1-3.5l1 0.1l1 0.8l1 2.2l1-1.6l1-1.6l1 2.1l1-0.1l1-1.3l1-0.5l1 0.5l1 0.2l1-1.5l1 0l1-0.9l1-0.5l1-1.1l1 0.6l1-1l1-0.5l1 1.3l1-0.8l1 0l1-2.7l1 1.8l1-1.1l1-0.4l1-0.3l1 2.1l1-0.4l1-1.7l1-0.6l1 0.9l1-0.1l1 1.9l1-3.1l1-0.5l1 1.4l1 0.1l1 0l1 0.5l1 1l1-2.8l1-0.6l1-1.4l1 1.4l1 0.5l1-1.6l1 0.8l1-1.4l1 0.8l1-1.1l1-1.8l1-0.1l1-1.2l1 0.3l1 1.8l1 0l1 0.9l1-1.7l1-0.1l1-1.6l1 1.7l1-0.9l1-0.9l1 1l1 0.1l1-2.7l1 2.3l1-1.3l1-0.4l1 0.1l1 1.7l1-0.6l1-0.1l1-2.7l1 1.1l1 1.4l1-2.1l1 0l1-1.6l1 3.6l1-0.9l1-1l1-0.7l1-0.9l1-0.2l1 1.1l1-1.7l1 1.6l1-2.2l1-0.5l1 1.7l1-1.4l1 0.6l1-0.9l1-2.1l1 3l1-1.7l1 2.5l1-2.8l1-1l1 1.9l1 0l1-0.7l1-1.6l1 1.9l1-2.3l1 0.7l1-0.4l1 0.5l1 0.6l1-1.9l1 0.6l1-0.1l1-2.6l1 0.1l1 0.7l1-0.7l1 0.8l1-2.5l1 2.1l1-0.1l1-1.6l1-1.9l1 1.6l1-0.8l1 0.9l1-0.7l1 1.1l1-0.6l1 1.4l1-3.7l1 1.5l1 1.5l1-1.8l1 1.7l1-1.6l1 1.5l1-1.6l1 0.4l1 0.8l1-0.1l1-0.4l1 2l1-2.3l1-1.3l1 1.3l1-0.2l1-0.1l1 0.9l1-3l1 1.9l1 0.8l1-1.1l1-0.3l1-3.7l1 1.8l1 2l1-3.5l1 1l1 0.5l1 0l1 1.2l1-3.6l1 1.5l1 0.8l1-2.7l1 0.8l1 2.3l1-0.8l1-0.6l1-3.1l1 2.4l1 0.8l1-0.8l1 0.5l1 2.6l1-3.1l1-0.7l1 0.7l1-0.9l1-0.3l1 0l1 0.8l1-0.6l1-1.6l1 0.7l1 0.4l1-1.2l1 1.3l1-0.5l1-2.5l1 1l1 1.7l1-0.1l1-1.7l1 1.1l1-1.2l1-0.8l1 2.5l1-0.4l1 0.1l1-0.1l1 0.4l1-0.7l1 1.4l1 0l1-0.8l1 0.7l1-2.9l1 0.7l1 1.9l1 0l1-1.7l1-0.4l1-1.4l1 1.3l1 0.2l1-2.2l1 2.2l1-0.2l1-0.4l1-1.6l1 2.1l1-1.9l1 2.5l1-1.5l1-1.8l1 2.4l1-0.3l1-1.7l1 2.8l1-3.4l1 0.5l1 0.9l1-3.4l1 2.6l1-1.5l1-0.4l1-0.9l1 1.3l1-1.3l1-0.3l1 0.6l1-1.2l1 2.5l1-3.2l1 1l1 0l1 0.2l1 0.8l1 0.1l1-1.3l1-0.3l1 0.4l1 0.4l1-0.3l1-1.7l1-2l1 3.2l1-1.9l1-1.6l1-0.5l1-1.8l1-1.4l1 0.2l1-0.2l1-0.4l1-1.4l1 1.1l1 1l1-1.2l1 0.8l1-1.7l1 2.1l1 0.5l1-0.6l1 0.2l1 3l1-1.5l1 1.8l1-1.3l1 1.5l1-0.8l1-1.2l1 2.2l1-0.4l1 1l1-1.2l1-0.2l1 1.3l1-0.6l1-1.2l1 0.3l1-1.6l1 0l1-0.2l1-0.7l1-0.8l1-0.9l1 1.6l1-2.9l1-0.6l1-0.3l1-0.2l1 0l1-1.7l1-1.1l1 2l1-2.2l1 1.3l1-0.6l1 0.6l1 0.5l1-1.6l1-1.2l1-0.9l1 0.1l1 0.3l1-1.7l1 2.2l1-0.3l1 1l1-1l1 0.4l1-0.3l1 0.8l1-0.8l1 1.9l1 1.1l1-0.4l1 0.3l1-0.1l1 1l1.4 0.8l1.9 2.3l1 4.2l0.4 6.2"/>
<path stroke="#EDB120" d="M198.2 1174.5l0.9-13.2l1-2.4l1-1.6l1-2l1-2.2l1-1.1l1-3.1l1-0.6l1-2.8l1-0.9l1-1.1l1-2.4l1-2.6l1-1.1l1-2.2l1-2.7l1-2.3l1-1.4l1-1.5l1-4.5l1 0.1l1-1.5l1-2.8l1-3.3l1 0.2l1-4.5l1-0.4l1-1l1-5.7l1 0.7l1-2l1-1.5l1-2.7l1-1.5l1-3l1-0.6l1-1.3l1-3l1-2.1l1-1.1l1-1l1-1.4l1-2.2l1-1.6l1-2.6l1-3.4l1 2l1-0.6l1-4.4l1-0.3l1-0.9l1-1.3l1-1.9l1-1l1-3.4l1-0.8l1-1.3l1-2.9l1-0.3l1-1.9l1-1.2l1-3.4l1-0.1l1-4.2l1 0.1l1-4.4l1-0.3l1 0.2l1-2.3l1-1.1l1-3.4l1 2.1l1-2.3l1-2.2l1-1.7l1-1.4l1-0.3l1-2.9l1-3l1 0l1 0.7l1-2.3l1-3l1-0.5l1-2.1l1-1.3l1-3.7l1-0.9l1 0.3l1-1.7l1-0.8l1 0.4l1-3.5l1-0.6l1-2.4l1-1.6l1-0.7l1-3l1-2.3l1 2.2l1-3.1l1-0.3l1-2.7l1-1.9l1-1.6l1-1.4l1-3.7l1 0.4l1-4.5l1 0.2l1 0.5l1-4.3l1 0.3l1-3.7l1-0.7l1-2.6l1-1.2l1-3l1-1.2l1-0.5l1-3.5l1-0.8l1 0.2l1-3.4l1-1.2l1-1.8l1-0.3l1-2.1l1-0.7l1-1.8l1 0.6l1-4l1-3.4l1 0.5l1-2l1-1.7l1-3.5l1 1.4l1-3.3l1-1.8l1-3.6l1 0.4l1-2.7l1 0.2l1-3.5l1-2.4l1-0.3l1-2.9l1 0.1l1-3.4l1-0.4l1-1.8l1-1.4l1-1.7l1-1.9l1-0.7l1-2.1l1-1.2l1-1.7l1-3.7l1 0.5l1 0.4l1-2.9l1-1.5l1-1.6l1-2.2l1-2.1l1 1.2l1-0.9l1-1.8l1-1.5l1-1.1l1-1.7l1-0.8l1-1.2l1-1.6l1-2.6l1-0.6l1 0.1l1-2.7l1-3.5l1 0.7l1-3.4l1 2.5l1-2.4l1-1l1-3l1-2.2l1-0.4l1-0.7l1-2l1-0.7l1-1.1l1-1.9l1-2.9l1-2.5l1 0.1l1-2l1-0.5l1-1.2l1-1.4l1-2.9l1-1.3l1-0.9l1-3l1-0.6l1-0.8l1-2.1l1-2l1-1.3l1-0.3l1-1.8l1-0.2l1-2l1 0.4l1-1.8l1-3.7l1 0.6l1-3l1 0.3l1-2.2l1-1.7l1-0.7l1-2.8l1-0.4l1-1.4l1-1.6l1-0.8l1-2.8l1 0.9l1-2.7l1 1.1l1-1.3l1-1l1-2.6l1 2.4l1-4.4l1-0.9l1-2.4l1 0.5l1-3.1l1 0.1l1-3l1 0l1-2l1-0.8l1-2.6l1-2.4l1-0.1l1-2.8l1-1l1 0.1l1-4l1 1.5l1-3l1-1.8l1-0.4l1-0.9l1-2.8l1-0.3l1-0.6l1-0.8l1-2.1l1-2.2l1-1.7l1-1l1 0l1-1.3l1-1.2l1 0l1-2.7l1-2.3l1-1.1l1 0.4l1-5.1l1 1l1-1.1l1-2l1 1.2l1-2.2l1-1.2l1-2.9l1 0.2l1-2l1-1l1-0.5l1-2l1 0.4l1 0.1l1-1.6l1-1.7l1-3.1l1 1.6l1-1.4l1-2.7l1-1.2l1-0.6l1-3.4l1 0.8l1-3.3l1-0.7l1-0.5l1-2.6l1 0.2l1-0.6l1-2.6l1 1.3l1-2.2l1 0.4l1-1.5l1-1.4l1-0.9l1-2.6l1 0.2l1-1.2l1 1.5l1-1.8l1-3.5l1 1.1l1-1.8l1-1.5l1-0.6l1-0.8l1-2.6l1-0.5l1-0.3l1-1.9l1 0.3l1-1.2l1-1.5l1-1.7l1 0.2l1-0.6l1-1.6l1-1.8l1 0.4l1-1.9l1-0.4l1-0.3l1-2.9l1-0.7l1-1.8l1-1.1l1 1.8l1-1.3l1-3.6l1 1.3l1-1.8l1 0.2l1-1.6l1-1.3l1-0.9l1-1l1-1.5l1-1.2l1-0.9l1-0.3l1-2.4l1-0.4l1-1.1l1-1.5l1 0.7l1-3.1l1 0.3l1-1.3l1 0.6l1-1.8l1-0.4l1 0l1-2.3l1 1l1-2.2l1 0.3l1-0.3l1 0.3l1-1.3l1 0.6l1-2.7l1-1l1-1.1l1 0.5l1 0l1-1.9l1-1.5l1 0.1l1-0.4l1-1.2l1-1.8l1-2.8l1 1.5l1 0.8l1-1.7l1-3.1l1 1.7l1-3l1 3.2l1-2.8l1-2.1l1 1.1l1-2.5l1 0.3l1-1.2l1-2.1l1 0.8l1-2.9l1 2.1l1-1.9l1-2.2l1-1.4l1 2.3l1-1.1l1-4l1 2l1-2l1-1.5l1-1.1l1-1.1l1 1.1l1-1.7l1-3.4l1 2.3l1-1.8l1-2.3l1 0.3l1-1.1l1 0.4l1-0.4l1-1.3l1-1l1-0.6l1 0.9l1-2l1 0.9l1-3.5l1 1.4l1-1.8l1-1.6l1 1.5l1-2l1-2.1l1-0.5l1 0.6l1-3.7l1 1.5l1-1.3l1-1.6l1 1.2l1-0.6l1-1.8l1-0.7l1 0.8l1-1.7l1-2.8l1 0.1l1-0.3l1-0.6l1-1.8l1 1.8l1-1.2l1-0.5l1 0.4l1-2.4l1-0.6l1-0.8l1-1.7l1-0.5l1-0.3l1-1.3l1-0.1l1-2.8l1 0.4l1-2.1l1 0.3l1-1.3l1 1.5l1-1.2l1-1.1l1 0.9l1-1.3l1-1.4l1-1.8l1-1.6l1 1l1-1.5l1-0.7l1-0.7l1-2.1l1 2.1l1-3.2l1-0.5l1 0.3l1-3.4l1 2l1-0.9l1-2l1-1.2l1-0.6l1-2.2l1 2.3l1-1.6l1-1.5l1-0.8l1 0.6l1 0.5l1-2.9l1 0.5l1-2.1l1 1.9l1-1.3l1 0.9l1-2.6l1-0.8l1-1.2l1 0.7l1-3.3l1 1.4l1-1.4l1-1.6l1-0.9l1 1.2l1 0.6l1-2.7l1-0.2l1 0.8l1-3.2l1-0.5l1-1.7l1 0.6l1-0.8l1-0.9l1-0.6l1-1.4l1-1.2l1-0.4l1 0.6l1-2l1-0.4l1 0.7l1-0.7l1-1.4l1-0.6l1 0.1l1-0.5l1-2l1 0.1l1-1.3l1 0.8l1-2.7l1 1.4l1-0.8l1-2.3l1 1.5l1-0.7l1-3.1l1 2.8l1-3.5l1-0.4l1 0.4l1 0.3l1-0.4l1-0.9l1 1.1l1-2l1 0.1l1 0.8l1-3.1l1-3.5l1 1.6l1-1.1l1 0.4l1-0.8l1-2.1l1 0l1 0l1-0.9l1-3.3l1 3.2l1-1.6l1-0.4l1-0.5l1-1.6l1-0.1l1 0.6l1-0.4l1-0.9l1-1.6l1-1.6l1 1.8l1-1.8l1-1.2l1-2.4l1 0.7l1-1.4l1 3.1l1-1.7l1-1.5l1-0.1l1 2.2l1-2.1l1-2.8l1 0.6l1-1.8l1-0.8l1 1.1l1 2.2l1-1.8l1-2.6l1-1.3l1-0.6l1 0.3l1-3.4l1-0.9l1 3.6l1-2.4l1 1.2l1-2.5l1 0.7l1-2.6l1 0.4l1 1.1l1-0.6l1-2l1 1.5l1-2.1l1-1.1l1 1l1 0.4l1-1.5l1-2.8l1 1.9l1-0.8l1-1.6l1-3l1 2.9l1-1.4l1-0.8l1-3.1l1 0.1l1 2.5l1-1l1-1.2l1-1.1l1 0.4l1-1.4l1-0.1l1-1.3l1 0.9l1-1.6l1 1.3l1-1.6l1-2.4l1 2.4l1-4l1 1.5l1 0.8l1 0l1-4.1l1 2.8l1-0.2l1 0l1-4.7l1 1.5l1-0.1l1 0.1l1 2l1-3.1l1 1.4l1-0.9l1-2.9l1-0.3l1-0.2l1 0.4l1 0.4l1-1.5l1 1.1l1-3.4l1-2.3l1 2.3l1 0l1-1.2l1-1.1l1 0.7l1 0.9l1-3l1-1.2l1-0.8l1 2.8l1-2.7l1 0.1l1 0.4l1 0l1-2.9l1 1.6l1-0.6l1-0.2l1 0.5l1-2.5l1 0.8l1-0.2l1 0.9l1-1.6l1 0.5l1-1.7l1 0.4l1-0.9l1-0.3l1-0.3l1-1.2l1-0.8l1-2.6l1 3.4l1-2.4l1-0.8l1-0.8l1 0.7l1-2.6l1 0.9l1 0.3l1-0.1l1-1l1-1l1-1.9l1 2.2l1 0l1-0.9l1-0.4l1-1l1-0.9l1 1.2l1-0.1l1-3l1 1.5l1-0.5l1 0.1l1-0.9l1 0.2l1-0.7l1-0.6l1-3.1l1 1l1-1.3l1-1.9l1 1l1-2.9l1 1.9l1-0.3l1-3.1l1 1.3l1-1l1-0.5l1-3.1l1 1l1-0.9l1 0.4l1-1.2l1 0.5l1-1.6l1 0.3l1 0.2l1-1.5l1 0.2l1-1.9l1-0.3l1-2l1 0.7l1 0.4l1-1.8l1 0.5l1-1.5l1-2l1 1.4l1 0.1l1-2.3l1-2l1 1.7l1-1.4l1 2.3l1-2.3l1-0.4l1-1.5l1 0.3l1-1.1l1-0.5l1 0.3l1-1.1l1 1.6l1-3.5l1 0.4l1-1.8l1-0.7l1 2.3l1-4l1 3.4l1-3.3l1 0.7l1 1.4l1-5.5l1 0.5l1 2.4l1-1.9l1-0.8l1 0.7l1-0.5l1 0.6l1 1l1-2l1-0.3l1 0.5l1 0.6l1-2.9l1 1.4l1-1.4l1-0.6l1-0.1l1-0.4l1-1.5l1-1.1l1 0.9l1 0.2l1 0.4l1-1.6l1 0.4l1 0.5l1 0.1l1-1.9l1-0.6l1 1.8l1-2.3l1-0.9l1-1.6l1 2l1-0.8l1 2.2l1-2.8l1 0.7l1-0.1l1 0.2l1-3.7l1 2.8l1-2.2l1-0.7l1-0.7l1-0.1l1-0.4l1-2.4l1 2.9l1-0.9l1-1.4l1 0.5l1 1.7l1-2.3l1-1.2l1 1.9l1-2.7l1-0.2l1-0.8l1-0.1l1 0.8l1-0.8l1-2.4l1 0.5l1 0l1-1l1 0.2l1-1l1-0.2l1 0.1l1-1.3l1 1.5l1-1l1-0.8l1-0.1l1-0.3l1 0l1-0.3l1-0.8l1-1.4l1 2l1-0.8l1-1.2l1 0.7l1-1.2l1-0.7l1-0.1l1 1.8l1-2.4l1 0l1-1.6l1 0.4l1 1.4l1-1.4l1-0.1l1-0.3l1-1.2l1 1l1-1.8l1-0.3l1-1.5l1 3l1-2.5l1-0.5l1 0.6l1-1.7l1 0.3l1-1.8l1 0.7l1-0.9l1 0.6l1-1.4l1-0.8l1-0.1l1-0.2l1-0.6l1 0.8l1-0.5l1-0.4l1-1.9l1 1.5l1-1.7l1 1.1l1-0.6l1-0.8l1-1l1-0.3l1 2.6l1-2.4l1-0.1l1 1.1l1-1.1l1 0.1l1-2.5l1-0.4l1 3.8l1-3.5l1-0.2l1 0.4l1 1.1l1-2.9l1 1.3l1-0.3l1 0.1l1-0.7l1-0.6l1-0.8l1-2.2l1 3l1-2.6l1 0.8l1 1.7l1-3.1l1 0.6l1-1.1l1 0.1l1-1.5l1-1.2l1 1.2l1-2.2l1-1.2l1 0.8l1 0.7l1-2.1l1 1.6l1-0.6l1 1.4l1-3.1l1 1.2l1-2.3l1 1l1 0.8l1-0.3l1-0.8l1-0.8l1-0.5l1 0.2l1 0.2l1-0.2l1-0.5l1 0l1 0.1l1-2.7l1 0.7l1 0.5l1-1.1l1 1.7l1-0.5l1-0.8l1-0.3l1 0.6l1-1.8l1-0.1l1 1.4l1-1.1l1 0.5l1-2.2l1 0.1l1-2l1-0.4l1 1l1-2.9l1 2.4l1 0.2l1-1.5l1-0.5l1 1.2l1-1.6l1 1.2l1 1l1-2l1-0.3l1-0.6l1-0.7l1-0.5l1-0.9l1 0.9l1-3l1 1.5l1 0.5l1-2.4l1 0.6l1-1.1l1 1l1 0.2l1 0.7l1-1.7l1-2.1l1 0.4l1-0.1l1 0.6l1-3.6l1 1.9l1-2.1l1 2.3l1-0.6l1-0.7l1 0l1-0.6l1-1.4l1 1.2l1 0.5l1-1.6l1-0.2l1-1.7l1 1.8l1-2l1-1l1-0.2l1-0.8l1 0.5l1 1.2l1-1l1 0.7l1-0.6l1-2.1l1 0.9l1 1l1 0.5l1-4l1-0.2l1 1.9l1-0.7l1-0.9l1 1.5l1-1.7l1-1.2l1 1.7l1-0.3l1 0.1l1 0.1l1-0.8l1-0.8l1-0.9l1-1.2l1 0.3l1 1.1l1-1l1 1.1l1-2l1-2.2l1 2l1 0.3l1-2.5l1-0.6l1 1.1l1 0.2l1-2.2l1 0.3l1 0.1l1-0.9l1-0.3l1 0.9l1-1.4l1-0.6l1-1.9l1 4l1-3l1 0.7l1-1.1l1 1.2l1-2.2l1 1.8l1-1.1l1 1.1l1-2.1l1 0.3l1 0.4l1 2.2l1-3.9l1 1.7l1-1.3l1 0.8l1 0.1l1-0.5l1 0.1l1-0.3l1-1l1 0.2l1-1.8l1 0.8l1-0.8l1 0.6l1 0.9l1-0.7l1 0l1 0.2l1-3.3l1 2.5l1-0.7l1-0.2l1-1.5l1 1.8l1 0.3l1 0.1l1-1.1l1 0.1l1 0.6l1 1l1-0.4l1-1.7l1-0.7l1 0l1-0.1l1-0.6l1 0.8l1-1.7l1 0l1 1.1l1-1.1l1 0.2l1-2.3l1 2.4l1-1.3l1 0l1 0.4l1-0.2l1-1.6l1 2.7l1-2.4l1 0.4l1-0.8l1-4.7l1-0.9l1-1.8l1 1.8l1-1l1-0.7l1 2.7l1 0l1-1.8l1 2.7l1-1.3l1 2.1l1-1.3l1-2l1 1l1-0.6l1 0.7l1-0.4l1-0.1l1-0.2l1-1.9l1 0.4l1 2.5l1-1l1-1.8l1 0.3l1-0.1l1-0.1l1-2.2l1 2.7l1-1.3l1 0.4l1-2.6l1 2.1l1 0.9l1-3.8l1 3.1l1-0.6l1-1.5l1-1.4l1 2.9l1-0.9l1 0.1l1-1.5l1-1.2l1 1.4l1-2l1 1.6l1-3.2l1 0.1l1-0.7l1 2.3l1-3.5l1 0.2l1 0.8l1-1l1 2.4l1-0.4l1-1.4l1-0.3l1-3.1l1 0.4l1 0.6l1 0l1-1.2l1-0.3l1 0.2l1 2l1-0.9l1-0.7l1-1.3l1 0.4l1-0.8l1 0.3l1-1.4l1 2.4l1 0.2l1-0.6l1-0.5l1 0l1 1.5l1-2.2l1-1.7l1-0.1l1 1.7l1 0.1l1-0.6l1-0.1l1-0.6l1-2l1 0.4l1-1.8l1 1.3l1-1.2l1 1.1l1-0.9l1-1.7l1 2.4l1 0l1-2.5l1 1.3l1 0.4l1-1.9l1 1.1l1-1.1l1 1l1-0.8l1-0.6l1 0.6l1 0l1-1.2l1-1l1-0.7l1-0.1l1-0.6l1 0.6l1 0.2l1-0.1l1 0.4l1-0.4l1 0.9l1-0.4l1-2.3l1 1.3l1-0.3l1 0.1l1-0.4l1 0.5l1-0.8l1-1.2l1 2.7l1 0.6l1-2.4l1 1.4l1-1.3l1 0.5l1-1.5l1 0.2l1-0.2l1-2.8l1 3l1-1.6l1-2.6l1 2.7l1-1.3l1-0.3l1 0.5l1-1l1-0.3l1 0.5l1 0.2l1 2.5l1-0.8l1-2.1l1-0.5l1 0.7l1-0.5l1-1.4l1-0.5l1 2.9l1-1.6l1-3.1l1-1l1 0.4l1 0.5l1 0l1-1.1l1-1.4l1 1.4l1-0.2l1-0.4l1-0.7l1 0.7l1-0.2l1-1l1 1.2l1-1.2l1 2.3l1-0.3l1-1.8l1 0.9l1 0.6l1-3.1l1 2.6l1 1.4l1-3.2l1 1.3l1-1.8l1 0.8l1-2.5l1 0.4l1 0.8l1 0.3l1 0.2l1-0.1l1 0.4l1-0.6l1-0.6l1-2.2l1-0.1l1 2.7l1-1.5l1-1.3l1-0.8l1 0.1l1-2l1 2.5l1-2.5l1 0.3l1 2.8l1-4.6l1 2.6l1-2l1 1.1l1 0.8l1-0.7l1 0.5l1-0.8l1 0.6l1-0.9l1 0.9l1-1.4l1 2.1l1-2.4l1 1.5l1-1.9l1 0.3l1 1.5l1-1.2l1-1.8l1 2l1-3.4l1 2.9l1-0.8l1-1.6l1 1.5l1-0.7l1 2.2l1-2.4l1 2.5l1-1.2l1-2.1l1 0l1 1.9l1-1.8l1-0.2l1-0.4l1-1.2l1 0.8l1-1.2l1-0.6l1 1.4l1 1.5l1 0.2l1-1.5l1 0.3l1-0.2l1 1.2l1-1.1l1-1.3l1 0l1 1.4l1 1.2l1-3.2l1-2.4l1 2.8l1-0.9l1-0.3l1 1.2l1-1.6l1-1.5l1-1.4l1 1.8l1-0.6l1 1.1l1-1.9l1 1.2l1-1.3l1 1.5l1 0.1l1 0.7l1 0.7l1-2.4l1-0.9l1 3.1l1-1.4l1-0.1l1-0.2l1 1l1-0.4l1-0.2l1 0l1-2l1-0.3l1 0.3l1 0.3l1 0.4l1 0.2l1-0.5l1-0.7l1-0.7l1 2.1l1-0.8l1-2.1l1 0.7l1-0.6l1-0.3l1-2.2l1 0.9l1-0.1l1 2.2l1-2.6l1 0.3l1-0.9l1-0.2l1 0.7l1-1.8l1-0.6l1 3.4l1-0.5l1-0.9l1 1.2l1-0.2l1-3.1l1 1.6l1 1.4l1-2.4l1-0.3l1 1.6l1-1.3l1-1.4l1 0.5l1-0.8l1 2l1-2.6l1 3l1-2.5l1 2.1l1-1.8l1 1.1l1 1.8l1 0.4l1-0.6l1-1.6l1-0.1l1 0l1 0.4l1-1.1l1 1.9l1-1l1 0.5l1-1.4l1 0.1l1-1.5l1 0.5l1-1.3l1 1.2l1 0l1 1l1-2.3l1 4.8l1-3.7l1 1.1l1-0.4l1-4l1 2.2l1 1.7l1-4.4l1 2.8l1-1.9l1 0.9l1 0.7l1-2.5l1 1.9l1-1.3l1-0.6l1 1.2l1 2.6l1-3l1 0l1-0.9l1-0.8l1 1l1 1.4l1-1.7l1 0.4l1-1.4l1 2.6l1-4.1l1 2.5l1 0.1l1 0.1l1-1.8l1 0.1l1 1l1 0l1-1.2l1 0.1l1 1.6l1 0.7l1-1.8l1-0.2l1-0.5l1 2.9l1-2.2l1-0.9l1 1l1 1.1l1-1.4l1-2.8l1 1.1l1-0.3l1-0.4l1-1l1 0.9l1-0.7l1 1.3l1-0.3l1-1.8l1-0.5l1 1.5l1 1l1-0.2l1-0.6l1-3.4l1 2.5l1-0.1l1 0.4l1-1.5l1 0.7l1-0.7l1 3.3l1-2.3l1-1.6l1-0.2l1 0.1l1 0.1l1-1l1 0l1 0.8l1-0.4l1-0.9l1 1.1l1-1.5l1-1.3l1-0.4l1 1l1 1l1 0.1l1 0.5l1-2.3l1-0.8l1 1.2l1 0.1l1-2.3l1 0.8l1 0.8l1-1.2l1-0.5l1-2.1l1 3.8l1-1l1-0.9l1-0.9l1-0.7l1 1.3l1 0.1l1 0.9l1-2.4l1 2.5l1-1.5l1 1.1l1-2.4l1 0.8l1 0.5l1-1.1l1-1.4l1 0.9l1 1l1-2.5l1-0.9l1 2.1l1-1l1 1.2l1-2.2l1-0.6l1 1.3l1 2.3l1-2.4l1 0.7l1 0.1l1-1l1 2.1l1-0.9l1 1l1-2.9l1 0l1-1.2l1 2.9l1-0.1l1 1.2l1 1l1-1.5l1-0.2l1 0.8l1 1.1l1-2.6l1 1.6l1-0.7l1 0l1 0.8l1-1.4l1-0.4l1 1.8l1-0.9l1-0.3l1-0.2l1 1l1-0.7l1 0.9l1 0l1 1.1l1-0.5l1-0.3l1-1.2l1-0.1l1-0.5l1 3.4l1-3.5l1 0.9l1 0.7l1-2.7l1 0.5l1 0.6l1-1l1-0.2l1 0.3l1 1.7l1-0.6l1-0.6l1-0.4l1-2l1 2.6l1-0.3l1-2l1 0.8l1-0.6l1-0.5l1-0.9l1-0.2l1 0.1l1 1.7l1-0.5l1-0.1l1-0.8l1-0.2l1 2.4l1-4.5l1 3.2l1-0.6l1-0.8l1-0.9l1 0.7l1-1l1-0.5l1 1l1-1.7l1 2.6l1 0.5l1-4.7l1 1.8l1 1.8l1-0.4l1-0.7l1 0.2l1 0.5l1-0.2l1 0.7l1-2.1l1 0.6l1-2.6l1 1.6l1-1.5l1 2.4l1 0.8l1-2.1l1-1.7l1 0.7l1-0.4l1-0.4l1 0.9l1-0.2l1-3.7l1 4.3l1-2.3l1-0.2l1 2l1-2l1-0.9l1-0.3l1 1.1l1 1.2l1 0.9l1-1.7l1-0.9l1 2l1-2.4l1 2.2l1-0.9l1-0.4l1-0.9l1 0.6l1-1.4l1 0l1 0.7l1-0.7l1 0.8l1-0.4l1-0.1l1 0.3l1 0l1 1.3l1-2.4l1-0.7l1 0.5l1 1l1-0.5l1 0l1-0.6l1 0.8l1 0.3l1 0.2l1-1.9l1-0.2l1-1.9l1 3.4l1 0.6l1-0.2l1-1.6l1 1.1l1-1.6l1-0.3l1-1.1l1 0l1-0.1l1 1.3l1 0.4l1-2.1l1 0.7l1-0.1l1-1.8l1-0.7l1 0.8l1-0.9l1 0.8l1 0l1-0.5l1 0.4l1 0l1-1.5l1 1.7l1-3l1 1.7l1 0.2l1-1.2l1-1.3l1 2.7l1-1.9l1 1.3l1-0.5l1-1.3l1-0.6l1 1.7l1-0.6l1-1.9l1 1.7l1 0.6l1-0.7l1 0.2l1-0.3l1-0.6l1-1.1l1-0.7l1 3l1-1.8l1 0.8l1-2.1l1 1.2l1-0.8l1 3.3l1-4.4l1-0.3l1 1.7l1-0.2l1-3.7l1 2.7l1 0.7l1-2.2l1 2l1-1.5l1-1l1 0.3l1-0.7l1-0.7l1 3.9l1-2.6l1-0.4l1 1.8l1-0.6l1 1l1-2l1 0.5l1-0.2l1 0.2l1-0.5l1 0.4l1 1.8l1-3l1-0.8l1 0l1 0.6l1-0.5l1 0.7l1-2.1l1 1.6l1-0.7l1-0.9l1 0.5l1-2.2l1 2.2l1-0.1l1-1.3l1 1.5l1 1.4l1-1.7l1 0.9l1-1l1-1.1l1 0l1 0.1l1 2l1-0.9l1-1.9l1 1.9l1-1.3l1-1.5l1 1l1-1.5l1-1.5l1 2.6l1-3.8l1 2.5l1-2.6l1 1.1l1-0.6l1-0.1l1-2.2l1 1.8l1-0.1l1-0.7l1 0.8l1 1l1-1.8l1 0.7l1-1.4l1 1.7l1 0.1l1 2.4l1-2.2l1-1l1 0.9l1-2.4l1 1.7l1-1.6l1-0.8l1 1.8l1-0.9l1 1.2l1-3.8l1 1.3l1-0.7l1 0.1l1-1.4l1 2.5l1-0.8l1-1.6l1-0.7l1 0.2l1 2.4l1-1.9l1-0.7l1 0.3l1 0.2l1-0.2l1 0.2l1-1l1 0.7l1-1.5l1 1.6l1-0.3l1 1.3l1 0.2l1-0.7l1 0l1 1l1-1.2l1-0.9l1 0.8l1-0.3l1-0.9l1-0.7l1-1.2l1.9 2.5l3.5 5.2l1.5 4.8l0.6 7.6"/>
<path stroke="#7E2F8E" d="M198.2 1174.5l0.9-12.9l1-2.4l1-1.5l1-2.1l1-1.9l1-1.8l1-1.4l1-1.9l1-1.7l1-2.9l1-1.5l1-3l1-1.3l1-2l1-2.2l1-1.1l1-1.8l1-1.6l1-2.4l1-0.5l1-2.8l1-1.9l1-2.2l1-1.6l1-3.2l1-3.2l1-2.1l1 1.4l1-3.4l1-0.8l1-2.4l1-2.2l1 1.8l1-6.4l1-0.3l1-1.2l1-3.3l1-2.2l1-0.4l1-1.1l1-2.2l1-0.1l1-3.5l1-0.1l1-0.9l1-2.1l1-3.6l1-3.4l1 2.1l1-2l1-2.5l1 0.5l1-4l1-1l1-2.4l1 0.1l1-2.6l1-1.6l1 0.1l1-2.4l1-3.8l1 1l1-1.1l1-3.5l1-1.2l1-0.5l1-1.4l1-1.1l1-0.9l1-3.2l1 1l1-5.1l1-1.3l1 1l1-0.7l1-4l1-1.5l1-1.6l1 0.8l1-2.9l1-2.7l1-0.4l1-0.8l1-1.8l1 0l1-2.3l1-1.8l1-2.2l1-1.5l1-1.1l1-2.3l1-1.8l1-2.4l1-1l1-0.9l1-2.6l1-2.8l1 1.3l1-3l1-3.2l1-1.2l1-1.8l1-2.7l1-0.1l1-3l1-0.2l1-2.1l1-0.2l1-3.4l1-1.1l1-2.3l1-1.3l1-2l1 1.5l1-1.9l1-2.5l1-0.8l1-2.1l1-1.7l1 0l1-0.2l1-3.2l1-2.3l1-0.9l1 1.5l1-4.8l1 0.6l1-3.1l1-0.9l1-2.4l1-2.6l1-0.3l1 0.9l1-4.3l1-0.5l1-2.6l1-1.2l1-0.6l1-1.6l1 0.8l1-4.1l1-1.8l1-2l1-1.9l1-2.3l1 1l1-3.8l1 2.4l1-2.7l1-2.9l1-2.8l1-0.6l1-1.4l1-0.4l1-2.8l1-0.9l1-0.8l1-1.9l1-1.4l1-2.5l1-1.2l1-0.6l1-0.4l1 0.6l1-0.1l1-2.4l1-2.7l1 0.3l1-4l1-2.1l1 2l1-4.9l1-1.1l1-1.5l1 0.3l1-3.6l1-0.2l1-2.9l1-2.2l1 0.6l1-1.6l1-3.2l1-1l1-1.5l1 0.1l1-2l1-1.5l1-1.4l1-2.6l1-0.5l1-2.2l1-2.2l1-0.6l1-0.8l1-1.8l1-0.2l1-4.6l1 0.6l1-1l1-2.7l1 0l1-1.8l1-1.9l1 1l1-4.3l1 1.3l1-3l1-1.6l1-1.2l1-1.2l1-1.1l1-0.5l1-3.9l1 1.9l1-1.9l1-0.7l1-4l1-2.2l1 0.1l1-1.3l1-0.7l1-2.5l1-0.7l1-1l1-3.6l1 2.4l1-3.7l1 0.2l1-0.7l1-3.1l1-0.7l1 0.2l1-2.9l1 0.2l1-2.4l1-1.1l1-0.8l1-2.3l1-1l1 0.1l1-2.2l1-1.1l1-2.8l1 0l1 0.3l1-1.6l1-2.1l1-2.1l1-1.1l1 0l1 0l1-2.3l1 0.4l1-3l1 0.3l1-3.4l1 0.1l1-2.7l1 0.4l1-1.3l1-2.5l1-0.6l1-0.7l1-2.4l1-0.7l1-1.4l1 0.5l1-0.4l1-2.5l1-1.3l1-0.6l1-2l1-0.7l1 0.1l1-2l1-2l1-1.8l1 1.2l1-3.7l1-0.6l1-2.4l1-0.7l1-0.8l1-1.6l1-0.2l1-1.6l1-2.6l1-2.3l1 2.6l1-2.4l1 0.9l1-3l1-1.7l1 0.5l1-2.2l1-0.9l1-2.4l1 1.1l1-0.5l1-2.9l1 1.6l1-3.6l1-0.2l1-3.2l1-1.4l1 3.2l1-1.6l1-1.5l1-4.1l1 1.1l1-0.7l1-1.6l1-0.3l1-2.1l1-0.5l1-1.9l1-0.2l1-0.1l1-2.2l1-0.1l1-1.3l1-0.1l1 0.1l1-2l1-0.7l1-2.9l1-0.4l1 0.6l1-2.6l1-0.5l1-1.6l1 1.2l1-2.8l1-1.5l1 0.4l1-0.8l1-1.8l1-0.3l1-2l1-1.6l1-1l1-1.3l1-1.2l1-0.3l1-1.4l1-0.5l1-0.5l1-1.6l1-2.1l1-0.4l1-1.7l1-1.6l1 1.1l1-2.1l1-1.3l1-0.9l1 1.3l1-2l1 0.4l1-2.5l1-1.3l1 0.1l1-0.9l1-1.2l1-2l1-0.4l1-1.5l1 0l1-0.1l1 0.5l1-1.5l1-1.7l1-0.7l1-1.3l1 1.4l1-2.3l1 0.2l1-3.6l1-0.6l1-0.5l1-2.1l1-1.1l1-2.8l1 0.7l1-1.5l1-0.6l1-2.1l1-2.9l1 1.9l1-0.3l1-3.7l1-0.6l1-0.4l1-0.8l1-2l1 2.3l1-1.7l1-2.8l1-2.1l1 1.7l1 1.3l1-2l1-0.6l1-3l1 0.7l1-2.4l1 2.3l1-2.2l1-4.3l1 0.2l1 1.9l1-0.6l1-1.3l1 0.4l1 0.4l1-2l1-3.1l1 1l1-2.4l1-0.3l1 1.1l1-1.1l1-1.4l1 0.2l1-1.8l1 0.7l1-1.8l1-0.3l1-1.4l1 0.2l1-1.5l1-0.5l1-1.3l1 0.1l1-2.5l1 4.2l1-4.4l1 0l1-1.1l1-0.6l1 0.5l1-1.4l1-0.8l1-1.7l1-0.6l1-1l1 2.7l1-3.7l1-0.5l1 0.5l1 1l1-4l1-0.5l1 1.2l1-0.7l1-3l1-1.1l1 0.1l1 1.4l1-1.7l1 0l1-1.8l1-0.7l1-0.6l1-1.9l1-0.4l1-2.1l1-0.7l1 0.4l1-1.1l1-1.6l1 1l1-0.9l1-1.1l1-1.7l1 1l1 1.1l1-3.5l1-1.3l1-0.1l1-0.9l1-1.1l1-0.4l1 1.1l1-0.2l1-0.5l1-1.7l1-1.9l1 0.9l1-2.8l1-0.9l1-1.7l1 1.8l1-0.7l1-2.1l1-0.3l1-0.6l1-0.2l1 0.1l1-1.4l1-0.1l1-3l1 0.8l1-2.1l1 3.3l1-1.1l1-1.4l1-0.1l1 0.2l1-1.5l1-3.1l1 1.2l1-2.8l1 1l1-1.1l1 0.7l1-0.1l1-1.8l1 0.1l1 0l1-1l1-0.7l1-3l1 1.3l1 0.9l1-2.2l1-2.3l1 0.8l1 0.3l1-1.6l1 1.3l1-2.3l1-0.2l1-0.2l1 1.7l1-3.2l1-0.8l1 0.5l1-2l1 0.5l1-3.2l1 1.9l1-1.3l1-2.1l1 1.9l1-2.6l1-0.5l1-1.9l1-0.4l1 0.6l1-1.6l1 2.1l1 0.1l1-1.9l1-1.4l1 0.9l1-1.1l1 0.7l1-0.6l1-0.6l1 0.4l1 0.4l1 0.2l1-2.4l1 0.5l1-2l1-1.5l1 2.2l1-1.6l1-1.1l1-0.3l1-1.1l1-0.8l1 2l1-2.3l1-1.2l1 0.2l1-0.8l1-1.9l1 0.2l1-1.9l1 0.1l1-1.8l1 1.9l1-3.7l1 0.8l1-1.2l1-1.1l1 1.5l1-1.8l1-1.4l1 0.1l1-1.6l1 1.7l1-0.9l1-0.2l1-3l1 1.8l1-1.8l1-0.2l1 0.8l1-1.8l1-1.6l1 1.2l1-0.6l1 0.2l1-4.3l1 1.6l1-1.8l1-0.7l1 0.5l1-2l1-1.7l1 0.9l1 0.1l1 1.7l1-3.2l1-1.4l1-1.6l1 1.1l1-0.9l1-0.1l1-1.7l1 0.2l1-1.9l1 1.6l1-2l1-1.8l1 3.4l1-1.3l1-1.2l1-0.4l1-1.7l1 1.8l1-2.4l1 2.6l1-2.5l1-3.3l1 1.7l1 0.7l1-3.1l1 0.9l1-2l1-0.7l1-2.3l1 3l1-2.6l1-0.1l1-2.1l1-0.4l1 1.2l1-1.6l1 0l1-1.3l1 1.6l1 0.2l1-1.7l1-0.2l1-1.1l1 2.8l1-2.5l1-0.3l1 1.3l1-2.5l1-1.6l1 0l1-0.1l1 1.3l1-2.8l1-1l1 0.5l1-0.4l1-2.6l1 1.6l1-1.3l1-0.5l1-3.7l1 2.1l1 0.7l1-2.6l1 2.2l1-2.3l1-1.4l1 1.1l1-0.6l1 0l1-1.8l1 0.9l1-2.6l1-0.1l1-1.8l1 0.2l1 0.4l1-0.9l1-0.7l1-1l1 0.3l1 0.3l1-0.7l1-0.3l1-1.4l1-1.6l1-1.4l1 0.7l1-0.8l1-1.8l1 3.1l1-4.6l1 1.6l1-0.2l1-1.5l1 1.9l1-3.1l1-1.5l1 2l1-3.1l1-1.2l1 0.4l1-0.6l1 0.4l1 0l1-2.3l1 1.8l1 1.7l1-3.7l1 0.2l1 0l1 0.3l1-2.2l1-0.6l1-0.5l1 1.7l1-0.3l1-3.9l1-0.9l1 0.5l1-0.5l1 1.6l1-1l1 1.7l1-1.5l1-1.1l1 0.7l1-2.6l1-0.9l1 1l1 1l1-3l1 2.5l1-0.3l1-1.8l1 0.2l1-0.4l1-0.2l1 0.8l1-2l1 1.5l1-0.4l1 0l1-3.3l1-0.6l1 2.3l1-1.4l1-0.7l1-0.7l1-1.1l1 0.6l1-1.2l1-0.9l1 0.8l1-2.2l1 1.8l1-4.3l1 4.6l1-4.8l1 1.9l1-0.1l1-0.9l1 0.5l1-0.6l1-2.2l1 2.6l1 0.7l1-2.2l1-1.7l1 0.4l1 1l1-0.4l1 1.3l1-1.4l1-0.5l1-3.3l1 4.1l1-3.1l1 0.5l1-1.9l1 0l1-0.1l1 1.5l1 0.3l1-1.3l1 1.1l1-3.1l1 1l1-1.5l1 1.6l1-1.8l1 0.2l1 0.5l1-4.6l1 4.2l1-2.1l1-1.3l1-2.2l1 1.3l1-2.4l1 1.7l1-0.6l1 1.7l1-2.3l1 1.7l1 0.4l1 0.4l1-2.1l1 0.5l1-3.1l1 0.3l1 0.5l1 0.1l1-1.9l1 0.8l1 1.2l1-1.3l1-0.3l1-1.5l1 2l1 0.4l1-2.6l1-0.7l1 1.5l1-1.8l1-1.6l1-1.2l1 0.4l1 2.7l1-3.7l1 3l1-3.7l1-0.7l1 1.5l1-2l1 0.4l1-1.9l1-0.5l1 0.7l1 0.8l1-1.5l1-1.6l1 2.1l1-1.1l1-0.7l1-0.6l1-2.4l1 3.5l1-2.5l1 0.9l1 0.5l1-0.9l1-1.9l1-1.1l1-0.1l1 0.3l1-0.9l1-1.2l1 0.9l1-0.6l1 0.6l1-0.6l1 0.6l1-1.5l1 0.8l1-1.2l1-0.8l1-0.5l1 0.4l1 0.7l1 1l1-2.3l1-0.7l1-0.6l1 1.4l1-1.9l1-1.1l1 0.8l1-2.8l1 1.2l1-0.5l1-0.5l1-1l1 1.5l1 0.2l1-3.3l1 1.2l1 0.3l1 1.5l1-3.4l1-0.6l1 0.3l1 1.7l1-2.6l1-0.1l1 1.1l1-4.7l1-0.8l1 2.6l1-0.6l1-3l1 1.5l1-1.3l1-0.4l1-1.5l1 0.1l1-0.4l1 0.7l1-0.9l1 1.6l1-1.7l1-2.4l1 1.4l1 0.8l1-1.9l1 0.8l1-2.3l1 0.6l1-2.4l1 1.5l1-3.1l1 2.2l1-3.5l1-0.8l1 2.4l1-1.2l1 0.4l1-0.4l1-0.6l1-1.3l1 1.2l1 0.1l1-0.5l1 1.5l1-3.2l1 0.1l1 0.1l1-1.5l1-1l1 0l1 1.2l1-2l1 0.3l1-2l1 1l1-1.7l1-0.5l1 0.5l1-0.9l1 1.3l1-3.9l1 2.1l1 0.4l1-0.8l1-2.4l1-0.2l1-0.3l1 0.5l1-0.8l1-0.2l1-0.1l1-2.3l1-0.2l1-0.2l1-0.4l1 0.5l1 0.2l1 2.1l1-2.4l1-1.3l1 1.7l1-3l1 1.2l1 0.2l1-0.5l1-0.8l1-1.4l1-1.4l1 1l1-0.7l1 1.2l1-1.1l1 0.5l1-2.6l1 2l1-1.9l1-1l1 0.1l1 0.2l1 1.6l1-0.2l1-2.2l1 0.7l1-0.5l1-1.6l1 0.7l1-1.4l1 1.1l1-2l1 2.1l1-0.6l1-0.3l1-0.5l1 1.9l1-2.2l1-0.3l1 0.7l1-0.1l1-0.7l1-2l1-0.7l1 0l1-0.1l1 0l1-0.4l1 1l1-1.6l1 1.8l1-1.3l1-1.1l1 1.3l1-4.1l1 4.3l1-1.3l1-0.4l1-2.5l1 4.4l1-3.3l1-0.7l1 1l1-1.6l1-1l1 1.9l1-2.4l1 1.1l1-0.9l1 0.7l1-2.7l1 2.5l1-1.3l1 1.5l1-2.7l1 3.2l1-1.5l1 0l1-1.6l1 0.8l1 0l1-1.7l1-0.5l1 0.1l1 2.3l1-1.6l1 0.5l1-0.7l1-0.5l1-0.2l1-0.5l1 1.2l1-1.4l1 0l1-1.6l1 1.5l1-1.3l1 0.3l1 1.1l1-2.4l1 0.7l1 0.4l1 0.2l1-2.3l1 0.5l1 0l1-1.9l1-1.3l1-0.2l1 2.8l1-0.8l1-2.1l1 0.9l1-0.1l1 0l1 0.5l1 2.4l1-3.2l1 0.4l1-1.1l1-0.2l1-0.7l1 0.5l1-0.8l1 0.9l1-0.2l1-1.6l1 2.8l1-3.5l1 1.4l1 1.5l1-3.5l1 2.3l1-0.7l1-1.7l1-2.3l1 3.1l1-1.3l1-0.9l1 1.4l1-2.3l1 2.1l1-2.3l1 0.7l1-2.1l1 0.4l1-0.9l1 0.4l1 1.2l1-1l1 0.3l1 0.4l1-2l1-1.8l1 1.2l1-0.4l1 0.7l1-0.4l1-0.1l1-1.8l1 0.8l1-2.3l1 2.4l1-0.8l1-0.1l1-1.3l1 0.2l1-1l1 1.1l1-2.2l1 2.6l1-0.7l1 0.7l1-2l1-0.6l1-0.4l1-0.3l1-1.1l1-1.6l1 0.3l1-0.3l1 0.1l1-1.3l1-0.4l1 0.4l1 1.1l1-0.8l1 0.5l1-0.1l1-0.1l1-1.2l1 0l1-1.6l1 0.8l1 1.1l1-1.7l1 2.6l1 0.4l1-1.7l1 1l1-2.7l1 0.1l1 0.5l1 0.4l1-0.7l1-0.7l1 2.7l1-2l1 0.4l1 0l1-0.8l1-1l1-0.5l1-1.7l1 2.9l1-2.5l1-0.6l1 0.8l1-0.8l1 4.2l1-2.1l1 0.9l1-0.3l1-1l1-0.1l1-1.4l1-0.1l1-0.2l1 0.6l1-1.1l1 1.8l1-1.2l1-1.1l1-2.2l1 2.7l1-0.3l1-1.5l1-1.8l1 1.6l1 0.5l1-3l1 2.7l1-2.3l1 2.1l1 1.7l1-1.9l1 0.2l1-1.2l1-0.2l1 2.6l1-0.8l1-1.6l1-0.3l1 0.3l1 2l1-2.5l1 0.3l1-2.1l1-1.4l1 3l1-2.1l1-0.7l1 0.1l1-0.4l1-0.2l1-1.4l1 3.1l1-1.2l1 0.4l1-1.8l1 0.4l1 0.2l1 1l1-1.2l1-0.1l1-1.7l1-0.5l1 0.5l1 0.2l1 0.1l1-1.4l1 2.6l1-1.7l1-2.4l1 1.2l1-0.7l1 1.5l1 0.6l1-2.5l1 1.8l1-1.1l1 1.5l1 0.1l1-1.4l1 0.3l1-0.5l1-0.5l1-1l1 1.6l1-0.9l1-0.3l1 0.7l1-0.1l1-1.4l1 0.2l1 1.6l1-1.8l1 1.3l1-2.3l1-0.1l1 1.3l1 0.3l1-2l1 1.3l1-0.1l1-0.4l1-1.7l1 0.2l1-1.7l1 1.1l1-0.1l1 1.2l1-3.3l1-0.4l1-0.4l1 2l1-3.7l1 1.4l1 3.4l1-1.3l1-2.4l1 1.2l1 0.4l1-0.6l1-0.6l1-0.8l1 1.5l1-1l1 0.6l1-0.7l1-1.3l1 1.9l1-2.5l1 0.4l1-1.2l1 0.2l1 0.2l1-0.7l1 0.7l1 1.1l1 0.4l1-0.5l1-1.8l1 1.4l1-1.5l1 1.2l1-3.6l1 2.9l1-2.9l1 1.6l1-2.1l1 1.5l1-1.9l1-2.3l1 1.3l1 0.6l1 0.3l1-3.1l1 1.1l1 0.5l1 0.6l1 0.4l1-0.7l1-0.7l1 1.9l1-1.3l1 2l1-1.7l1 0.4l1-1.6l1 1.2l1 0.4l1 0.2l1-1.6l1 0.8l1-1.3l1 0.3l1 0.6l1 2.1l1-3l1-0.2l1-0.7l1 1.1l1-0.9l1 0.3l1-1.2l1 1.8l1-1.2l1-3.7l1 2.6l1 0.2l1-2.2l1 1.1l1 0.1l1-0.2l1 0.5l1-2l1 2.4l1-0.2l1-0.5l1-0.3l1 0l1-0.5l1 0.9l1-1.3l1 0.9l1-2.4l1 2.1l1-2l1 0.6l1-1.5l1 1.3l1-0.9l1 0.5l1 0.5l1-1.8l1 0.5l1 0.8l1-1.1l1-0.7l1 0.7l1 0l1-0.1l1-0.5l1-1.7l1 0.9l1 0.9l1-1.7l1 0.5l1-1l1 0.4l1 1.2l1-1.4l1-1l1 1.4l1-0.4l1 0.9l1-2.4l1 0.5l1 0.9l1-1.7l1 2.5l1-3.5l1 1.4l1-0.5l1 0.7l1 0.7l1-0.7l1 0l1-0.5l1-3.3l1 2.2l1-2.5l1 1.6l1-0.4l1-0.2l1 1l1-2l1 2.3l1-1.3l1 0.9l1-0.3l1 0.2l1-1.1l1 2.6l1-2.7l1 1.5l1-0.7l1 0.2l1 0.8l1-1.2l1 2.2l1-0.2l1-0.5l1 0.3l1-2.1l1-0.9l1 1.3l1 0.1l1 2.2l1-3.1l1 1.3l1-0.6l1 1.4l1-2.4l1 0.6l1-1.1l1-0.8l1 0.2l1 0.2l1 2l1-1.3l1-0.8l1 0.4l1-0.4l1 0.5l1 0.3l1 0.1l1 0.6l1-3.6l1 2l1 0.7l1-3.3l1 0.8l1 0.6l1 1.2l1-1l1-1.4l1 0.5l1 0.1l1-1.1l1 1.5l1-1.3l1-3.7l1 0.8l1 1.6l1 3.8l1 6.9l1-12.7l1 6.2l1 2.9l1-3.3l1-5.8l1 0.3l1 2.3l1-1.8l1 1.3l1-0.7l1-2.6l1 5.6l1-2.8l1-3.3l1 0.9l1 0.5l1 0.1l1-0.8l1-1.5l1 2.3l1-1.2l1 1.2l1-0.9l1 0.7l1-0.2l1 0.2l1-2.2l1 1.8l1-0.9l1-1.5l1 0.8l1 0l1 0.6l1 0.4l1-2l1 2l1-1.4l1-1.6l1 1.6l1-1.9l1-0.2l1 1.6l1-0.4l1-2.3l1 1.9l1-0.3l1-1.7l1 2.3l1-2.2l1 0.1l1-2.9l1 2.5l1-1.3l1 0.9l1-2.8l1 3.2l1 0l1 0.6l1-5.1l1 3.6l1-0.2l1-3.4l1 2.3l1 0.4l1 1.4l1-1.9l1 1.2l1-0.2l1 0.6l1-1.2l1 1.7l1 0.2l1-2.7l1 2.7l1-2.2l1 0.1l1 1.2l1-0.6l1 0.8l1 0.1l1-0.6l1-1.2l1-0.4l1 1.9l1-0.2l1-1l1-0.5l1 0.7l1-1.1l1-1.1l1 2.1l1 0l1 0.2l1-2l1-0.3l1 0.9l1-1l1-0.2l1 0.9l1-0.3l1 1.6l1-1.6l1 1.4l1-0.8l1 1.1l1-2.9l1-0.7l1 2.3l1-3.9l1-0.6l1 1.1l1 0.3l1-3.6l1 2.7l1-1.4l1 0.3l1 0l1-0.6l1 1.5l1-0.9l1-0.5l1 0.2l1 0.5l1-0.2l1.4-2.2l1 5l1.1 8"/>
<path stroke="#77AC30" d="M198.2 1174.5l0.9-12.8l1-2.2l1-0.9l1-2.1l1-1.8l1-1.6l1-2.4l1-1.1l1-2.4l1 0.3l1-2.1l1-3l1 0l1-3.7l1 0.3l1-1.3l1-2l1-3.1l1-0.8l1-1.7l1-1.2l1 0.2l1-1.5l1-2.1l1-3.9l1-1.7l1-0.9l1-1.2l1-4.6l1 0.5l1 0.5l1-4.3l1-1.3l1-1.7l1-0.2l1-2.1l1-1.7l1-2.2l1 0.8l1-2.2l1-2.2l1-0.8l1-0.8l1-3.8l1-1l1-1.4l1-1.3l1-3.6l1 0.5l1 0l1-3.3l1-0.4l1-5.9l1 1.1l1 0.2l1-0.9l1-4l1-2.1l1-0.4l1-3.3l1-0.8l1-2.7l1 0.7l1-1.5l1 0.7l1-2.4l1-2.1l1-0.5l1-2.8l1-0.2l1-1.3l1-0.4l1-0.8l1-4.4l1 1.5l1-0.6l1-3.3l1 1.8l1-4.6l1 1.6l1-3.3l1-1.2l1-2.1l1-0.7l1-3.2l1-1.6l1-3.2l1 1.4l1-2.9l1-0.1l1-1.9l1-3.2l1 0.6l1-1.5l1-1.2l1-1.3l1-2.4l1-1.7l1-0.7l1-3.4l1-1.3l1-0.9l1 1l1-3l1 1l1-6.6l1 0.9l1-1.2l1-1.1l1-0.4l1-2.7l1-2l1 0.8l1-0.4l1-5.7l1 1.7l1-2.2l1-2.5l1-0.4l1-1.1l1-1l1-1.7l1-2.1l1 0.4l1-2.3l1-0.9l1-2.6l1-0.4l1-0.8l1-1.6l1-1l1-3.9l1 0l1-1.1l1-2.5l1-1.2l1-4.2l1 1.6l1-1.8l1-3.3l1 1.9l1-2.9l1-1l1-1.9l1-0.2l1-1.6l1-1.5l1-0.7l1-1.4l1-4.1l1 1l1-1.6l1-1.9l1 1.5l1-1.8l1-3.2l1-0.7l1 0.5l1-3.4l1-1l1-3.5l1 0.9l1 0.2l1-3.6l1-0.9l1 0.2l1-2l1-0.8l1-1.9l1-1.2l1-4.9l1-1l1-2l1 2.5l1-3l1-1.8l1-2l1-1.8l1-3.6l1 4.1l1-4.1l1-1.7l1-3.2l1 0l1-0.6l1-1.5l1-0.9l1-2.6l1-0.2l1-0.9l1-1.7l1-1.5l1-1.7l1-2.6l1 0.1l1-2.3l1-2.1l1 0.7l1-4.2l1-0.6l1 0l1-1.2l1-2.9l1-1.1l1-0.9l1-1.9l1-1.9l1-0.1l1-1.6l1-0.9l1-0.4l1-2.4l1-1.8l1-0.1l1 0.6l1-4.2l1-1.1l1-1.7l1-0.5l1-2.8l1-0.1l1-0.4l1-2.6l1-1.4l1-1.9l1 0.4l1-2.4l1-0.6l1-1.2l1-1.2l1 0.9l1-0.2l1-4.9l1 0.2l1 0.3l1-2.7l1-1.1l1-0.2l1 0.3l1-1.3l1-2.7l1-0.8l1-1.8l1-0.9l1-2.2l1-2l1 0.2l1 0.2l1-1.3l1-3.9l1 0.7l1-1.8l1-0.1l1-2.7l1 1.4l1-2.3l1 0.1l1-1l1-4.1l1 1l1 1.2l1-2.5l1 0l1-1.6l1-2.3l1-0.2l1-0.3l1-0.6l1-1.6l1-3.8l1 0.7l1-3.5l1 0.5l1-1.3l1-0.6l1-1.1l1 0.1l1-3.5l1 0.8l1-1.5l1-1.3l1-2.3l1 1.2l1-1.3l1-0.3l1-2.1l1-1.5l1-0.4l1-1l1-1.1l1 0.2l1-3.3l1 2.2l1-6.4l1 3.4l1-2.7l1 1.7l1-3.7l1 0.8l1-2.6l1-0.8l1 1l1-1.1l1-2.7l1 2.1l1-3.4l1 0.5l1-3.6l1-1.1l1 0l1-1.8l1 0.4l1-3.3l1 1l1-1.6l1-1.4l1 0.8l1-1.6l1-0.9l1 0.3l1-1l1-1.1l1-0.2l1-2.6l1 0.3l1-2.4l1 0.1l1-0.9l1-2.4l1-1.7l1-0.9l1-0.2l1 0.9l1-1.5l1-1.5l1 0.6l1-0.3l1-0.4l1-2.8l1 0.8l1-1.1l1-2.4l1 0.2l1-2l1 0.1l1-0.3l1-3.4l1-0.3l1-0.8l1-0.2l1-1.9l1 0.7l1-2.4l1-0.7l1 0.6l1-1.1l1-1l1-1l1-0.2l1-0.7l1-2.6l1-1.1l1-1.1l1 1.9l1-3.8l1-1.4l1 0.7l1-0.4l1-3.6l1-0.3l1-1.7l1-0.3l1 1.8l1-2.6l1-1l1-0.8l1-0.3l1-1.3l1-1.9l1-0.6l1 2.6l1-3.8l1 1.4l1-2.5l1 0.7l1-1.1l1-1.6l1 1.8l1-4.3l1 0l1-1.6l1-0.4l1-0.5l1-1.5l1 0l1 1.4l1-4.3l1-0.4l1-0.4l1-0.5l1 0.9l1-1.4l1-0.8l1-0.9l1 1.5l1-4.6l1-0.8l1 0.2l1-1l1-1l1-1.3l1-1.1l1 0.2l1-1l1-1l1-1.2l1 1.7l1-1.9l1 0.6l1-3.2l1-0.3l1-1l1-0.3l1-1l1-0.7l1-2.9l1 1.3l1 0.1l1-3.4l1 1.1l1 0.4l1 0.1l1-1.8l1-0.6l1 0.9l1-1.4l1-3.1l1-1.4l1 0.9l1-1.2l1-1.5l1-0.4l1-0.2l1-1.6l1-0.9l1-1l1-2.7l1 2.8l1-0.6l1-0.2l1-2.1l1 0l1-0.4l1-0.7l1-3.3l1 1.3l1-2.2l1 0.3l1-1.3l1 1.7l1-1.5l1-0.9l1 0.2l1-2.1l1-1.1l1-0.3l1-0.6l1-0.3l1 0.2l1-1.4l1-0.5l1 1l1-1.4l1-0.1l1-1.5l1-2.3l1-0.6l1-1.3l1 2.3l1-1.4l1-1.6l1-1.2l1 0.8l1-1.1l1-0.3l1-2.1l1-0.5l1 2.2l1-3.5l1 0.4l1 0.6l1-3.5l1 1.6l1-1.4l1-0.9l1 0.2l1-1.9l1-1.6l1 4l1-2.5l1-0.1l1 0l1-0.8l1-0.7l1 0l1 0.2l1-1.1l1 0.4l1-1.7l1-0.8l1 0l1-0.6l1-0.6l1 0.5l1-1l1-1.9l1 0.7l1-1.9l1-0.6l1-1.2l1-1.8l1-1.4l1 0.6l1-1.5l1-1.5l1 0.9l1-0.6l1-1l1-2.2l1 1.2l1 2.1l1-1.7l1-0.1l1-1l1 0.5l1-2.3l1-0.5l1 0.9l1-2.1l1 1l1-0.4l1 1.2l1-3.1l1 0.7l1-1.8l1-0.3l1-3.2l1 1.1l1 1.6l1-1.3l1-0.8l1 1.6l1-3l1-2.5l1 0.5l1-0.5l1 1l1-3l1 0.6l1-0.2l1-2.3l1 0.4l1-2.4l1 2.1l1-3.1l1 1.8l1 1.8l1-2.3l1-0.9l1-0.2l1 2.1l1-2.4l1 0.5l1-2l1-0.6l1-1.2l1 0.5l1-1.4l1 1.4l1-1.7l1-1.3l1-0.7l1-2.8l1 1.5l1 0.3l1-0.1l1-5.1l1 0l1 2.5l1-1.5l1-0.1l1-0.7l1 0.4l1-2.7l1 0.5l1 1l1-1.4l1-1.5l1 0.5l1-0.4l1-1.1l1 1.2l1-0.7l1-1.8l1 0.9l1-3.2l1 1.5l1-1.4l1-1.1l1 0.2l1 1.1l1-2.4l1-0.2l1-1l1-0.9l1 1.4l1 0.6l1-1l1-1.4l1 0.1l1-1.4l1-0.8l1-1.3l1 1.9l1-2.3l1-1.2l1-0.2l1 0.5l1-0.9l1 0l1-0.1l1 0.7l1-3.2l1 1.1l1-1.8l1-0.2l1 1.8l1-1.9l1-1.5l1 0.6l1-1l1 0.7l1-2.5l1 0.8l1-1.4l1 0l1-0.7l1-1.5l1 0.4l1 0.7l1-2.2l1 0.3l1 0.6l1-1.2l1 1l1-0.5l1-3.7l1 1.5l1-1.1l1 1.3l1-0.3l1-2.4l1-0.3l1 0.1l1-0.8l1 0.3l1-0.5l1-1.2l1-0.1l1-1.2l1-1.7l1-1.2l1-0.6l1 1.4l1-0.6l1-0.2l1-1.3l1-0.8l1 0.5l1 0.8l1-1.3l1-0.3l1-1.8l1 0.9l1-0.5l1-2.1l1 2.5l1-3.7l1 1.7l1-1.9l1-0.3l1-1.4l1-0.5l1 1.1l1-1.4l1-0.9l1 1l1-0.4l1-0.6l1-0.6l1 0.9l1-2.3l1 0l1-0.3l1-2.2l1-1.2l1 1.8l1 0l1-1.3l1-1.6l1-0.5l1 1l1-1.6l1-1.9l1 1.8l1-1l1-0.2l1 0.5l1-0.5l1-0.9l1-0.9l1-3l1 2.5l1-0.8l1 1l1-0.6l1-1.5l1 0.6l1-1.8l1-0.5l1-1.3l1-0.2l1 0.4l1 0.2l1-2.3l1 1.5l1 1l1-4l1 0.3l1-0.4l1 0.9l1 0.9l1-1l1-1.7l1-1.2l1 0.2l1-1l1 0.2l1-2.2l1 2.2l1-3.3l1 0.8l1-1l1-1.6l1 1l1-0.7l1-0.9l1 0.4l1-1.9l1 2.7l1-1.9l1-2.5l1-2.2l1 3.4l1-1.5l1-0.3l1-1.3l1-1.2l1-1.4l1 4.3l1-1.4l1-2.4l1 2l1-3.9l1 2.5l1-0.7l1-2.1l1-0.2l1-1.1l1 0.5l1 0.7l1-0.7l1-0.8l1 0l1-3.8l1 3.5l1-2.4l1-1.7l1 0.4l1-0.5l1 0.7l1 0.2l1-3.2l1 3.2l1 0.3l1-2.9l1 2.4l1-0.2l1-0.1l1 0.3l1-3.6l1 1.7l1-2.4l1 2.8l1-4l1-0.6l1 2.4l1-1.2l1-1.4l1-0.6l1-0.2l1 0.5l1-2.9l1-0.6l1-0.7l1 0.2l1 0l1-1.4l1 1.3l1-2.2l1 0.6l1 0.4l1 0.3l1 1.6l1 0l1-0.9l1-0.2l1-2.2l1 1.6l1-2l1-0.2l1-0.6l1-1.6l1 0.7l1 0.1l1-0.5l1-1.3l1-1.2l1-0.9l1 0.7l1-1.7l1-0.3l1 0.8l1-0.1l1-1.5l1-1.5l1 1.3l1 0.1l1-1.6l1-0.1l1-2.5l1 2.9l1-2.2l1 1.5l1-1.5l1 0l1-0.3l1-2.1l1 4.5l1-4.7l1 1.7l1-1.7l1 0.3l1 1.3l1-3.4l1 1.7l1 0.2l1-0.3l1-0.2l1-1.4l1-1.5l1 0.4l1 0.7l1 0.7l1-1.3l1 1.7l1-2.2l1 0.1l1-0.1l1-2.3l1 2.4l1-2.1l1 0.2l1 2.3l1-3.8l1 1.2l1-0.4l1-0.6l1 0l1-1l1 2.6l1-4.3l1 0.3l1 2.1l1-1.7l1-1.7l1-0.2l1 0.4l1 2.7l1-3.3l1-1.8l1 1.3l1-1.5l1 1.6l1-1.7l1 0.2l1-1l1 1.7l1-2l1-0.6l1-1.7l1 0.4l1 0.5l1-1.1l1 2.9l1-3.1l1-0.9l1 1.8l1-1.7l1 0.8l1-1.4l1-1.1l1 1.8l1-1.4l1 0.6l1-1.8l1-1.4l1 0l1 0.2l1 0.2l1-0.3l1 0.1l1-2.1l1 1.4l1-1.6l1 1l1 3.2l1-2l1-2.1l1 1.8l1-0.8l1-1.4l1 0.2l1-2.4l1-0.1l1-1.1l1 0.7l1-2.6l1 0.7l1 0.1l1-1.4l1 0.6l1 1.5l1-2.8l1 2.2l1-1.9l1-0.4l1 0.9l1 0.9l1-2.3l1-0.2l1 0.1l1-1l1 0.8l1-1.1l1 0.5l1 0.2l1-1.5l1 1.1l1-2.5l1-0.7l1 3.3l1-1.3l1-1.8l1 0.8l1-0.7l1-0.9l1 0.7l1-1l1 0.8l1-3.7l1 2.6l1-0.9l1-1.3l1 0.1l1-0.8l1-1l1 0.5l1 0.6l1-2.6l1 0.3l1-2.3l1 1.6l1 0.4l1-0.6l1 0l1-1.7l1 1.7l1-1.6l1 1.8l1-0.9l1-0.8l1 2.1l1-2.5l1 1.6l1-1l1 0.1l1 1.2l1-1l1-1l1-0.2l1 0.2l1-0.8l1-0.4l1-0.8l1-2l1 2.3l1-0.3l1 1.1l1-1.3l1 0.3l1 0.3l1-1.8l1-0.7l1 1.3l1-2.4l1 0.6l1 1.1l1-1.5l1 0.7l1-2.9l1 1l1 1l1-2.4l1 1.3l1-0.7l1-2.9l1 3.6l1-2.4l1 0.8l1 1.8l1-3.9l1 2.4l1-1.7l1 0.6l1-1l1 2.1l1-3.3l1 1l1 0l1-1.3l1-0.5l1-0.2l1 1l1-1.5l1-1l1-1.9l1 1.2l1 0l1-0.9l1 1.4l1-3.4l1 4.6l1-2.7l1-1.1l1-1l1 2.2l1-0.1l1-0.8l1 0.5l1 0.2l1-1l1 1.5l1-0.8l1-1.3l1-1.8l1 3.1l1-2.2l1-1l1 2.3l1-0.9l1-3.3l1 0.2l1 0.7l1-0.9l1 1l1 2.6l1 0.2l1-3.6l1 0.8l1-0.9l1-1.6l1-1.7l1 2.1l1-1.5l1 0.6l1-0.2l1-1.8l1 2.1l1-1.9l1-0.1l1-0.9l1 1.5l1-0.5l1-1.7l1 1.1l1-1.2l1-0.9l1 0.5l1 0.5l1 0l1 0l1-1.8l1 0.3l1 0.3l1 0.3l1-1.2l1-1l1-0.7l1 2.8l1-0.2l1-2.2l1 2.1l1-1.3l1 0.2l1 0.6l1-2.4l1-0.7l1-1.5l1 1.4l1-0.1l1-0.2l1-0.2l1-0.9l1 0.5l1-2.3l1 1.2l1-0.6l1-1.3l1 2l1-1.9l1 0.8l1-0.6l1-0.8l1 2l1-0.6l1-1.7l1-0.3l1-1.2l1 0.6l1-0.1l1 0.7l1-1l1 0.4l1-0.4l1-1.8l1 1l1-0.7l1-0.8l1 0.4l1 0.6l1-2.4l1-1l1 1.7l1 2.5l1-4.5l1 0.6l1-0.8l1 0.1l1 0.2l1-2l1 0.8l1-2.7l1 1.3l1-1.8l1 1.1l1-1.5l1 0.5l1-1.4l1 1.3l1-0.2l1-1.1l1 0.2l1-0.9l1 0.5l1 0.6l1-1l1 0l1 0.9l1-2.1l1 0.6l1 0.6l1-0.4l1-0.3l1-0.6l1 1.6l1-2.5l1-0.3l1 0.6l1 0.9l1-0.3l1-1.5l1 0.6l1-0.4l1-0.3l1 0.1l1-0.6l1-0.8l1 1.4l1-2l1 2l1 0.6l1 0l1-2.1l1-0.6l1-1.8l1 1.6l1 2.7l1-4.7l1-0.1l1 2.4l1-0.4l1-2.9l1 1.5l1-0.3l1-2.1l1 2.7l1-2.9l1 2.9l1-1.2l1-0.8l1-1.5l1 1.6l1 0l1 0l1-0.3l1 0.2l1 0.6l1-1.7l1 0.5l1 0l1-0.5l1 0.2l1 0.8l1-2.1l1 0.4l1-3.9l1 2.7l1 1.2l1-2.6l1 3l1-3l1 3.1l1-2l1-0.6l1 1l1 0.4l1-1.3l1-0.8l1 1.3l1 1.3l1-1l1 0.8l1-1.9l1-0.3l1-0.2l1 0.7l1-0.3l1 1.5l1-1.8l1-0.6l1 1.2l1-1.9l1-1.1l1 2.3l1-0.9l1-0.5l1 0.7l1-1.7l1-0.4l1 0.1l1 0.9l1 0.1l1-1.2l1-0.1l1-3.3l1 3.4l1-3.1l1 1.4l1 3l1-3.3l1-1.3l1 3.3l1-1.8l1 0.1l1-0.6l1 0.3l1 0.2l1-1.2l1 1.3l1-3l1 1.8l1-1.6l1 1.3l1-1.4l1-1l1 1.9l1-3.1l1-0.2l1 1.7l1-0.9l1-0.7l1-0.1l1 2l1-3.2l1 0.2l1 0l1-1.2l1 0.6l1 1l1-1.9l1 1.8l1-2.4l1 1.1l1 0.2l1 2.9l1-5.2l1 2.3l1 2l1-3.8l1 2.1l1-1.2l1-2l1 2l1-1.5l1 1.2l1-2l1 2.2l1-3.6l1 2.3l1 1.4l1-0.9l1-0.9l1 0.5l1-0.9l1 3.2l1-3l1-0.5l1-0.7l1-0.5l1 0.8l1-2l1-0.2l1 0l1-0.1l1-0.1l1-1l1-0.1l1-0.5l1 1.3l1-1.8l1-0.2l1 0.6l1-0.6l1-1.4l1 1.9l1 2l1-1.8l1 0.5l1-2l1-1l1 0.4l1 2.2l1-2.5l1 0.4l1 1.7l1-1.5l1 0.3l1 0.1l1-0.8l1-0.8l1 0.4l1-1l1 0.5l1 0.6l1-1.8l1 0.1l1-1.2l1 1.4l1-0.4l1 0.3l1-0.2l1-0.3l1-0.3l1-1.7l1 1.8l1-2.7l1 3.4l1-1.9l1 0.1l1-1.9l1 2.5l1 0.1l1-3.2l1 0.7l1-0.3l1 0.1l1 1.5l1 0.9l1-3.1l1 2.3l1-1.6l1 1.2l1-3.7l1 1.9l1 1.9l1-1.9l1 1.9l1-1.6l1 1.2l1-0.9l1-0.9l1-0.7l1 0.6l1 1.2l1-1.3l1-0.6l1 3.7l1-5.3l1 1.1l1 0.4l1-1.8l1 0.7l1-0.2l1-1.5l1 1.8l1-1.9l1 0.1l1 1.8l1-2.2l1 1.5l1 0.5l1 0l1-1.4l1-0.6l1-1.5l1 1.5l1 0.1l1-0.8l1-0.6l1 1.8l1-1.9l1 1.9l1-1.7l1-1.7l1 3.3l1-1.3l1 0.5l1-2.5l1 1l1 0.1l1-1l1 2.3l1-3.8l1 3.1l1-3.2l1 0l1 0.6l1 2l1-1.6l1-0.2l1-0.3l1-0.3l1 1.2l1-0.4l1 0.9l1-0.6l1-2.4l1 1.6l1 1.5l1-2.1l1 0l1-0.4l1 0.3l1 0.4l1-1.6l1 0.9l1-1.9l1 2.2l1-2.1l1 2.4l1 0.5l1-3.3l1 2.7l1-1l1 2l1-2.7l1 0l1 0.3l1 1.4l1-3.2l1 3.1l1-0.4l1-0.9l1 0.6l1 1l1 0.4l1 0.9l1-2.7l1-1.9l1 2.1l1 0.2l1-0.6l1 1.7l1 1l1-2.8l1-2.8l1 2.9l1-2l1 0.3l1 0.3l1-0.7l1-0.1l1 0.5l1-0.4l1-0.1l1 1.5l1-5.5l1 1.7l1 0.7l1 1.6l1-0.8l1 0.4l1-2.1l1 1.5l1 1.1l1-1.4l1-0.5l1 1l1 1.5l1-4.2l1 3.6l1-1.3l1-1.7l1 1.2l1-0.9l1 0.7l1-2.7l1 1.9l1-2.5l1 1.2l1 0.4l1-0.6l1-0.1l1-1.5l1 1.9l1-2l1-0.2l1 0.3l1-0.2l1-0.8l1 1.9l1-1.8l1 0.2l1-2.5l1-0.9l1 0.7l1-1l1 0.4l1 0.3l1 0.5l1 0l1-0.8l1-1.9l1 1.1l1-1.5l1 0.8l1-1.7l1 2.5l1-0.4l1-1.3l1-1.6l1 1.8l1-0.8l1 0.2l1-1.1l1 0.3l1 1.3l1 0.9l1-2.8l1 1.3l1 0.7l1-0.7l1-0.7l1 3.2l1-3.1l1 1l1-1.3l1 0.8l1-2.2l1 2.9l1-0.9l1-1.1l1 3.1l1-2.3l1-0.5l1-0.4l1 2.1l1-1.8l1-0.2l1-1l1 0.4l1 1.3l1-0.8l1-1.9l1 0.6l1 1.3l1 1.9l1-3.3l1-1.7l1 3l1-1.5l1-0.5l1 1.9l1-1.2l1-0.3l1-0.4l1 1.4l1 0.7l1-1.9l1 3l1-2.7l1 2.7l1-1.3l1-0.6l1 0.2l1-1.3l1 0.5l1 2.3l1-2.9l1 1.3l1-2.1l1 0l1 1.1l1-2.7l1 2l1-3.2l1 0.7l1 0.9l1 1l1-0.5l1-1.5l1 0.2l1 0.3l1-1.8l1 1.8l1 0.9l1 0.2l1-1.8l1 0.2l1-0.3l1 0.7l1-0.2l1 1.1l1-0.6l1-1.5l1 1.9l1-0.1l1-1.6l1 0.4l1 0.6l1-2.2l1 2l1 0.6l1 1.8l1-2.4l1 0l1-0.1l1 1.2l1 0.2l1-1.6l1 0.8l1 0.5l1-2.7l1 3.1l1-1.8l1 1.1l1-1.2l1-0.5l1 0.3l1-0.1l1 1l1-1.4l1-0.8l1 0.2l1-0.4l1 1.6l1-2.1l1 2.5l1-1.4l1-0.7l1 1.1l1-2.2l1 0.4l1 1.2l1-0.3l1-2.5l1 3l1-2l1-2l1 1l1 0.5l1-1.1l1 0.5l1 1.5l1-2l1 0.9l1-1.9l1-2l1 2.2l1-1.9l1 1.8l1-0.6l1-1.9l1 0.1l1 0.4l1 0.5l1 0.7l1-1.8l1 2.2l1-1.3l1-1.8l1-0.2l1 0.4l1-1.2l1-0.2l1 0.4l1-0.7l1 0.8l1-1.4l1 0l1-1l1 0l1 1.2l1 0.7l1 0l1-0.2l1 1.8l1-3.5l1 0.8l1-0.1l1-0.4l1 1.7l1-1.8l1 1.1l1-2.2l1 2.7l1-0.2l1-3.3l1 0.2l1-0.1l1 0.9l1-2l1 2l1 0.2l1-1.4l1-1.5l1 1.5l1-0.1l1 1.4l1-1.5l1-0.7l1 1.2l1-0.2l1 0.4l1-1.1l1 0.9l1-0.8l1-2.2l1 2l1 0.4l1-0.8l1 1.7l1-1.9l1 1.3l1-1l1 1.2l1-0.1l1 0l1 0l1 0.5l1.9 1.4l2 2.8l1 7.7l0.4 22.4"/>
<path stroke="#4DBEEE" d="M201.6 1175.0l0.7-17l1.3-12.5l1.6 1l1.8 2.1l0.6-2l0.6-0.5l0.6-1.3l0.6-2l0.6 0.6l0.6-1.9l0.6-0.8l0.6-3.1l0.6-1l0.6-0.4l0.6-1.7l0.6 0.1l0.6-1.2l0.6-0.7l0.6-1.7l0.6-2.9l0.6 0.9l0.6-3.3l0.6-1.1l0.6-0.2l0.6-1.2l0.6 0.1l0.6 1.2l0.6-3.5l0.6 0.3l0.6-2.8l0.6-0.5l0.6-1.8l0.6-1.2l0.6 1.1l0.6-1.9l0.6-1.2l0.6-2.4l0.6 1.9l0.6-3l0.6-1.7l0.6 0.2l0.6 0l0.6-0.6l0.6 0.3l0.6-3.4l0.6-0.3l0.6 1.4l0.6-0.4l0.6-3.9l0.6-0.8l0.6-2.4l0.6-0.5l0.6-0.9l0.6-0.6l0.6-2.3l0.6 1.5l0.6-1.7l0.6-1.2l0.6 0.3l0.6-2.1l0.6-2l0.6 0.7l0.6 1.5l0.6-3.3l0.6-0.9l0.6-1.8l0.6-1.1l0.6-0.7l0.6-4.8l0.6 0.6l0.6 0.2l0.6-0.9l0.6 0.8l0.6 0.2l0.6-2.9l0.6-1.4l0.6 0.1l0.6-0.1l0.6-3.6l0.6-0.5l0.6-0.3l0.6-0.5l0.6-3.5l0.6 1.9l0.6-3.5l0.6 1.6l0.6-0.9l0.6-4.3l0.6 2.1l0.6-1.4l0.6-1.3l0.6 0.9l0.6 0.4l0.6-2.8l0.6-2.9l0.6-0.7l0.6-0.5l0.6-0.9l0.6 1.7l0.6-2.2l0.6-1.2l0.6-0.1l0.6-2.1l0.6-1.3l0.6-2l0.6-0.8l0.6-0.6l0.6-2.3l0.6 2.6l0.6-2.4l0.6-1.7l0.6 0.8l0.6-3.4l0.6 1.5l0.6-2l0.6-1.3l0.6-1.9l0.6-0.7l0.6-1.7l0.6-2.9l0.6 2.3l0.6-2.3l0.6 1l0.6-2.1l0.6 1l0.6-5l0.6 2.8l0.6-1.1l0.6-0.7l0.6-1l0.6 2.1l0.6-3.3l0.6-0.4l0.6-1.8l0.6-1l0.6-0.2l0.6 0l0.6-3.4l0.6 0.3l0.6-1.5l0.6 1.5l0.6-2.3l0.6-0.7l0.6 0.8l0.6-1.7l0.6-0.7l0.6-1.4l0.6 0.2l0.6-1.3l0.6-0.6l0.6-1l0.6-1.7l0.6-1.3l0.6-0.3l0.6-1.8l0.6-1.6l0.6 1.7l0.6-0.1l0.6-3.3l0.6 0.6l0.6-1l0.6-2.6l0.6-1.2l0.6-0.6l0.6-1.3l0.6-0.5l0.6-0.7l0.6-2.4l0.6 1.6l0.6-2.9l0.6-0.9l0.6 1.3l0.6-1.4l0.6-0.1l0.6-2.4l0.6-1.8l0.6 1.4l0.6-2.7l0.6-0.5l0.6-1.3l0.6 0.8l0.6-4.5l0.6 2.7l0.6-4.2l0.6 2.8l0.6-3.8l0.6 1.9l0.6 1.2l0.6-4.5l0.6-2.2l0.6 3l0.6-3.7l0.6-2l0.6 1.9l0.6-5.3l0.6 1l0.6-0.5l0.6 0.1l0.6-2.6l0.6 2.3l0.6-0.7l0.6-2.3l0.6-1.3l0.6-2.4l0.6 1.8l0.6-2.2l0.6 0.8l0.6-0.5l0.6-2.2l0.6-3.4l0.6 0.5l0.6 2l0.6-2.2l0.6 0.3l0.6-5l0.6 1.6l0.6-1.1l0.6-2.8l0.6 0.1l0.6 0.9l0.6-1.4l0.6-1.9l0.6 0l0.6 0l0.6-3.5l0.6 0.5l0.6-0.2l0.6-2.6l0.6 1.4l0.6-2.6l0.6 0.9l0.6-0.8l0.6-1.7l0.6-1.6l0.6-1.2l0.6 0.5l0.6-1l0.6 0.7l0.6-2.7l0.6 0l0.6 0.9l0.6-2.5l0.6-0.5l0.6 0.7l0.6-2.6l0.6 0l0.6-0.3l0.6-1.7l0.6-1.8l0.6-1l0.6 0.5l0.6 0.4l0.6-0.8l0.6-0.2l0.6-1.8l0.6-2.6l0.6-1.6l0.6 0.3l0.6-0.8l0.6-0.9l0.6 0.8l0.6-2.9l0.6 0.7l0.6-0.7l0.6-3.8l0.6 0.6l0.6 0.9l0.6-3.8l0.6 0.8l0.6-1.8l0.6-0.6l0.6 0l0.6 0.6l0.6-1.8l0.6 3l0.6-5.1l0.6-0.3l0.6-3.6l0.6 0.2l0.6 0.4l0.6 0.7l0.6-0.8l0.6-3.7l0.6 0.9l0.6-1.4l0.6-0.5l0.6-0.2l0.6-1l0.6-1.1l0.6-1.6l0.6-1.2l0.6 0.6l0.6-0.6l0.6-0.1l0.6-2.4l0.6-0.9l0.6 1.6l0.6-1.7l0.6-0.1l0.6-2.3l0.6-1.3l0.6-1l0.6 1.6l0.6-3.5l0.6-1.5l0.6 0.6l0.6 1.2l0.6-2.2l0.6-0.4l0.6-0.5l0.6-1.5l0.6-0.7l0.6-2.1l0.6 2.6l0.6-2.6l0.6 0.9l0.6-4.2l0.6 1.8l0.6-2.5l0.6-1.1l0.6 1.2l0.6 0.3l0.6-0.3l0.6-0.6l0.6-2.8l0.6 0.6l0.6-2.4l0.6-0.5l0.6-0.1l0.6-1.1l0.6-0.1l0.6-4.3l0.6 2.5l0.6-2.4l0.6 1.5l0.6-1.1l0.6-3.5l0.6 0.6l0.6 0l0.6-2.3l0.6-0.6l0.6-0.6l0.6 0.4l0.6-0.6l0.6-2.7l0.6 0.3l0.6 0.2l0.6-1.4l0.6-2.7l0.6-0.6l0.6 0.4l0.6 0.3l0.6-1.2l0.6-1.3l0.6-0.9l0.6 1.8l0.6-2.4l0.6 1.5l0.6-4.5l0.6-0.1l0.6-1.2l0.6 2.4l0.6-1.6l0.6-2.9l0.6-0.7l0.6 0.9l0.6-1.9l0.6-1.7l0.6-0.9l0.6 1.5l0.6-1.7l0.6-0.4l0.6-0.6l0.6-1.7l0.6-1l0.6 0.3l0.6-1.6l0.6-1l0.6 0.2l0.6-3.9l0.6 2.5l0.6-1.2l0.6-1.7l0.6 0l0.6 0.8l0.6-1.3l0.6-3.3l0.6 0.4l0.6 0.9l0.6 1l0.6-2l0.6-2.1l0.6 0l0.6-1.5l0.6-1l0.6 0.2l0.6-3.8l0.6 3.3l0.6-1.1l0.6-1.8l0.6-1.2l0.6-1.1l0.6 4.4l0.6-3.2l0.6-0.7l0.6 1.1l0.6-5.1l0.6 1l0.6-0.9l0.6 1.2l0.6-2l0.6-1.1l0.6 0.9l0.6-0.2l0.6 1.2l0.6-1.8l0.6-1.1l0.6-0.4l0.6-1.4l0.6 1.7l0.6-0.8l0.6-1.9l0.6-0.3l0.6 1l0.6-2.3l0.6-0.3l0.6-2.6l0.6-0.3l0.6-2.2l0.6 0.5l0.6 1.7l0.6 0.7l0.6-2.2l0.6-1.6l0.6 1.2l0.6 0.9l0.6-2l0.6 0.5l0.6-1.6l0.6-2.1l0.6-0.3l0.6 0.5l0.6 1.7l0.6-1.9l0.6-1.4l0.6 0.2l0.6-0.7l0.6-1l0.6 0.4l0.6-0.7l0.6 1l0.6 0l0.6-0.8l0.6-2.8l0.6 0.5l0.6-2.1l0.6-0.9l0.6 0.5l0.6-0.4l0.6-1.4l0.6 0.3l0.6-0.5l0.6-0.3l0.6-1.7l0.6-1.3l0.6 3.6l0.6-3.4l0.6 1.1l0.6-0.9l0.6-1.1l0.6 1.8l0.6-1.8l0.6-1.5l0.6-1.1l0.6-1l0.6-1.1l0.6 1.9l0.6-1.7l0.6-0.6l0.6 0.5l0.6-1.6l0.6 1l0.6-2.2l0.6-0.2l0.6 1.4l0.6-2.5l0.6 0.9l0.6-1.4l0.6-1.1l0.6-2.4l0.6 0l0.6-0.2l0.6-0.9l0.6 2l0.6-2.9l0.6-1l0.6 0.4l0.6-0.1l0.6-2.4l0.6 1.8l0.6-0.5l0.6-1.9l0.6 1.2l0.6-3.1l0.6 0.3l0.6 0.3l0.6-0.3l0.6 0.4l0.6-1.9l0.6-1.6l0.6 1.1l0.6-0.6l0.6 0l0.6-1.6l0.6 0l0.6-1.8l0.6 0.6l0.6-1.8l0.6-0.8l0.6 1.4l0.6-2.7l0.6 0.5l0.6 0.2l0.6-1.5l0.6 0.7l0.6-2.6l0.6 1.2l0.6-3.3l0.6-0.6l0.6 1l0.6 0.8l0.6-0.9l0.6-3.1l0.6 0.4l0.6-1.4l0.6-2.6l0.6 2.7l0.6-1.5l0.6 1.6l0.6-1.6l0.6-1.8l0.6-0.6l0.6-0.1l0.6-0.1l0.6-1.6l0.6 3l0.6-3.4l0.6-2.2l0.6 0.6l0.6 0.3l0.6-1.1l0.6-1.3l0.6-1.2l0.6-0.7l0.6-0.7l0.6 0.1l0.6 0.1l0.6-1.1l0.6 2l0.6-1.9l0.6-1.8l0.6-0.1l0.6 1.3l0.6-3.9l0.6 2.1l0.6 2.6l0.6-2l0.6-2.9l0.6 0.6l0.6-1l0.6 3.1l0.6-4.2l0.6 0.3l0.6-0.5l0.6-1.9l0.6-2.4l0.6 2.8l0.6 0l0.6-1.3l0.6 0.7l0.6-0.5l0.6-0.7l0.6-3.5l0.6 3.3l0.6-1.3l0.6-0.6l0.6-1.1l0.6-1.2l0.6-1.1l0.6 0.5l0.6 0.1l0.6-2.1l0.6 1.2l0.6-2l0.6 0.7l0.6-1.2l0.6 0.5l0.6 0.7l0.6-2.3l0.6-1.2l0.6-0.2l0.6 0.5l0.6-1.8l0.6 1.2l0.6-1.5l0.6 0.3l0.6-2.4l0.6-1l0.6-0.2l0.6 0.5l0.6-1.3l0.6 1.1l0.6-3.7l0.6 1.3l0.6 0.2l0.6-2.7l0.6 0.8l0.6-1.1l0.6 0.7l0.6-0.8l0.6 0.4l0.6-2.3l0.6-1.2l0.6 1l0.6 0.1l0.6-0.8l0.6-0.9l0.6 1l0.6-2l0.6-0.3l0.6-1.2l0.6-0.2l0.6 1.1l0.6-1.3l0.6-3.6l0.6 4l0.6-4.1l0.6 1.1l0.6 1.1l0.6-1.4l0.6 2l0.6-1.8l0.6-1.2l0.6-2.2l0.6 1.4l0.6-2.1l0.6-4.6l0.6 4.2l0.6 0.8l0.6-0.4l0.6-1.1l0.6 1.2l0.6-2.4l0.6 0l0.6-0.9l0.6 1.1l0.6-2.9l0.6 1l0.6-0.1l0.6-2.8l0.6 0.9l0.6-3l0.6 1.4l0.6-0.1l0.6-2.3l0.6-1.5l0.6 1.4l0.6-0.8l0.6-3.4l0.6 3.4l0.6 0l0.6 0.4l0.6-1.8l0.6-2.3l0.6 2.2l0.6-0.6l0.6-0.7l0.6 0.8l0.6-2l0.6-1.4l0.6 0.7l0.6-2.6l0.6 2l0.6-1.2l0.6 1.4l0.6-1.6l0.6-1.1l0.6-0.8l0.6-2l0.6 0.9l0.6-0.3l0.6 0.3l0.6-1.2l0.6 0.1l0.6-0.5l0.6-1.7l0.6 0.4l0.6-0.8l0.6-1.7l0.6-0.6l0.6 2.1l0.6 0.3l0.6-0.4l0.6-3.2l0.6 2.1l0.6-0.2l0.6-3l0.6 1l0.6 0.9l0.6-2l0.6 1.1l0.6-2.5l0.6-0.1l0.6 1.2l0.6-1.9l0.6 0l0.6-0.6l0.6-2l0.6 2.5l0.6-2.4l0.6-1.1l0.6-0.6l0.6 0.5l0.6-1.5l0.6 1.7l0.6-1.8l0.6 0.9l0.6-2l0.6-0.5l0.6-0.4l0.6 0.9l0.6-2.4l0.6 1.8l0.6-1.9l0.6 1l0.6-1.7l0.6 0.9l0.6-7.1l0.6 4.1l0.6 1.4l0.6-1.4l0.6 1.3l0.6-2.4l0.6 0.8l0.6-1.8l0.6-1.6l0.6 3.6l0.6-2.3l0.6 0.9l0.6-1.3l0.6-2.6l0.6 1.6l0.6 0.1l0.6-0.5l0.6 0.2l0.6-1.9l0.6-1.1l0.6-0.2l0.6-1.8l0.6 1.9l0.6-0.5l0.6-0.5l0.6-1.8l0.6 1l0.6-1.9l0.6 1.5l0.6-1.9l0.6-0.3l0.6-0.1l0.6-1.2l0.6-0.3l0.6 0.8l0.6-3.4l0.6 4.9l0.6-2.1l0.6-0.3l0.6-1.2l0.6 0.9l0.6-0.6l0.6-0.6l0.6-4.4l0.6 3.2l0.6-2.7l0.6 1.8l0.6-1.3l0.6 0l0.6 0l0.6 0.9l0.6 0.4l0.6-2l0.6-1.9l0.6 2.2l0.6-3.8l0.6 0.3l0.6-0.4l0.6-0.2l0.6 1.6l0.6-1.7l0.6 0.4l0.6-2l0.6 0.8l0.6-1.4l0.6-0.4l0.6-0.3l0.6 0.2l0.6-0.2l0.6-1.2l0.6-1.9l0.6 0.6l0.6-3.3l0.6 2.3l0.6-1l0.6 1.5l0.6-4l0.6 4.9l0.6-3.6l0.6-1.4l0.6 2l0.6-1.1l0.6-0.5l0.6 1.8l0.6-3.8l0.6 0.6l0.6-0.2l0.6-1.5l0.6 1.2l0.6 0.9l0.6-2.8l0.6 1.5l0.6-0.2l0.6-0.4l0.6-2.6l0.6 2.1l0.6-0.9l0.6 1.7l0.6-1.8l0.6 1.9l0.6-3.8l0.6 2.2l0.6-1.8l0.6 2.8l0.6 0l0.6-2.9l0.6 1.7l0.6-1.2l0.6-2.2l0.6 0.2l0.6 0.7l0.6 0l0.6-1.3l0.6 0.2l0.6-0.5l0.6 0.2l0.6-2.7l0.6 1.3l0.6 0.2l0.6-2.8l0.6 2.8l0.6-0.4l0.6-1.5l0.6 1.9l0.6-3.8l0.6-0.7l0.6 0l0.6-0.6l0.6 2.4l0.6-2.6l0.6-0.1l0.6 0l0.6 0.9l0.6-1.5l0.6-0.9l0.6 0.1l0.6 0.9l0.6-2.3l0.6 1.3l0.6-1.4l0.6-0.9l0.6 0.3l0.6 1.5l0.6-3.3l0.6 1.5l0.6-1.3l0.6-0.8l0.6-0.7l0.6-1.3l0.6 1.5l0.6-0.5l0.6 0.1l0.6-2.1l0.6-0.2l0.6-0.5l0.6 0.5l0.6-0.1l0.6-0.5l0.6 0.9l0.6-1.9l0.6 0.6l0.6 0.8l0.6 0.8l0.6-2.1l0.6 1.2l0.6 0l0.6-2.6l0.6 1.2l0.6-1.9l0.6 0.6l0.6 0.7l0.6-2.7l0.6 1.8l0.6-1.4l0.6-0.3l0.6 0.7l0.6-1.6l0.6-1.4l0.6 1.4l0.6-1.3l0.6 0.2l0.6-1.3l0.6 0l0.6-0.1l0.6-0.8l0.6-0.1l0.6-0.4l0.6 0.3l0.6 3l0.6-4.4l0.6-1.6l0.6 2l0.6-2.3l0.6-0.2l0.6 0.6l0.6 0.2l0.6-0.3l0.6-0.4l0.6-0.8l0.6-1.4l0.6 1.9l0.6-1.7l0.6 0.2l0.6-1.8l0.6 2l0.6-1.3l0.6 1.4l0.6-3l0.6 2.3l0.6-3l0.6-0.7l0.6 0.7l0.6 0.8l0.6 0.4l0.6-2.4l0.6 1.7l0.6-1.7l0.6-0.4l0.6-0.1l0.6 1.7l0.6-2l0.6-0.2l0.6-2.4l0.6 1.5l0.6-0.2l0.6 1.1l0.6-3l0.6-0.1l0.6-0.6l0.6 0.3l0.6 1.3l0.6-2.1l0.6 2l0.6-2.1l0.6-1.5l0.6-0.1l0.6-1.2l0.6-0.4l0.6 2.5l0.6-0.3l0.6-2.3l0.6 0.3l0.6 2.1l0.6-2.8l0.6 0.8l0.6 0.1l0.6-1.3l0.6 0l0.6-0.4l0.6 0.2l0.6-2.3l0.6 1.4l0.6-0.4l0.6-2.1l0.6 1.8l0.6-1.8l0.6-2.1l0.6 0.5l0.6 2.1l0.6 0.5l0.6-1.6l0.6-1.4l0.6 0.6l0.6 1.6l0.6-1.3l0.6-1.9l0.6 1.9l0.6-1.3l0.6-0.4l0.6 0.3l0.6 0.2l0.6-1.2l0.6-1.1l0.6 0.6l0.6-0.2l0.6 0.9l0.6-2.9l0.6 0.7l0.6-1.3l0.6 0.5l0.6-1.5l0.6-3l0.6 4.2l0.6-1.6l0.6-1.2l0.6-0.7l0.6-0.5l0.6-0.5l0.6 1l0.6 0.1l0.6-0.3l0.6 0.2l0.6-1.8l0.6 1.2l0.6-0.9l0.6 0.3l0.6-0.1l0.6-1.4l0.6 1.2l0.6-1.1l0.6-1.4l0.6 1.8l0.6 0.3l0.6-3.7l0.6-1.5l0.6 1.4l0.6 0.4l0.6 0.4l0.6-0.6l0.6-0.8l0.6 0.7l0.6-0.5l0.6-1.7l0.6 0.5l0.6 0.8l0.6-2.4l0.6-0.2l0.6-0.6l0.6 2l0.6-1.2l0.6-0.1l0.6-1.4l0.6 0.3l0.6 1l0.6-1.8l0.6 1.3l0.6-1.6l0.6 0l0.6 0.2l0.6 0.1l0.6 0.7l0.6-2.5l0.6 1.6l0.6-3.3l0.6-0.7l0.6-1.8l0.6 2.9l0.6 2.1l0.6-4.7l0.6 0.6l0.6-0.2l0.6-1.3l0.6 1.3l0.6-3.8l0.6 2.7l0.6-0.5l0.6 0.5l0.6 0.3l0.6-2.6l0.6 1.1l0.6 0.4l0.6-3.9l0.6 3.1l0.6 1.2l0.6-3.8l0.6 3.4l0.6-2.8l0.6 1.3l0.6-1.6l0.6-1.8l0.6-1.5l0.6 6.5l0.6-6.7l0.6 1.6l0.6 2.3l0.6-1.9l0.6 0l0.6-3.9l0.6 1.7l0.6-1.1l0.6-1l0.6 3.3l0.6 0.5l0.6-3.5l0.6-0.1l0.6 1.8l0.6 0.7l0.6-3.3l0.6 3.4l0.6-1l0.6-1.8l0.6-1.9l0.6 2.5l0.6 0l0.6 1.1l0.6-3.7l0.6 3l0.6-3.4l0.6 1l0.6-1.9l0.6 0l0.6 2.2l0.6-3.9l0.6 2.3l0.6-2.1l0.6 0.3l0.6-1l0.6 1.1l0.6-4.2l0.6 2.3l0.6 1.1l0.6-0.6l0.6-4.3l0.6 0.3l0.6 0.6l0.6 3.7l0.6-4.2l0.6 0.9l0.6-1.1l0.6 0.6l0.6-2.6l0.6 1.7l0.6-0.1l0.6 0.4l0.6-3.7l0.6 2.9l0.6 1.4l0.6-2.5l0.6-0.6l0.6-5.8l0.6 6.2l0.6 0.7l0.6-1.1l0.6-0.8l0.6 0.3l0.6 3.2l0.6-6.5l0.6 0.5l0.6 2.3l0.6-1.8l0.6-4.7l0.6 3.8l0.6 0l0.6-2.5l0.6 1.8l0.6-0.3l0.6-3.8l0.6 3.6l0.6 2.6l0.6-0.8l0.6-5.2l0.6-0.8l0.6-4.7l0.6 7l0.6-2.9l0.6 0.8l0.6 2.6l0.6-2.2l0.6 1.2l0.6-2.2l0.6 1.7l0.6-3.2l0.6-0.3l0.6-0.8l0.6-2l0.6 2.3l0.6-1.2l0.6 1.1l0.6 0.8l0.6-0.1l0.6-0.3l0.6-1.7l0.6 0.1l0.6 1.6l0.6-2.4l0.6-0.1l0.6-4.6l0.6 2.2l0.6 3l0.6-3.4l0.6-0.4l0.6 3.3l0.6-4l0.6 2.9l0.6-2.3l0.6-1.3l0.6-2.8l0.6 5.5l0.6-5.5l0.6 0.6l0.6 3.3l0.6-3.8l0.6 3l0.6 0.2l0.6-1.7l0.6-1.7l0.6 0.7l0.6 1.3l0.6-3.3l0.6 3.8l0.6-1.5l0.6 0.5l0.6-0.8l0.6 0.8l0.6-1.1l0.6 0.8l0.6-1l0.6-0.3l0.6-3l0.6-2.1l0.6 4.1l0.6 1.6l0.6-5.2l0.6-1.9l0.6 2.1l0.6 1.6l0.6 0.7l0.6-3.5l0.6-2.5l0.6 2.6l0.6 1.5l0.6-2.1l0.6 2.3l0.6-3.9l0.6 3.1l0.6 1.5l0.6-6.9l0.6 0.3l0.6 3l0.6 5.8l0.6-6.3l0.6-2l0.6 3l0.6-3.8l0.6-3.8l0.6 1.6l0.6 5.4l0.6-7.2l0.6 0.6l0.6 5.5l0.6-1.8l0.6 2.3l0.6-5.8l0.6 0.4l0.6 0.7l0.6-2.6l0.6 2.2l0.6 0l0.6 2.3l0.6-2.6l0.6-0.9l0.6 2.2l0.6 1.2l0.6-0.2l0.6-1.9l0.6-1.9l0.6-0.3l0.6-2.5l0.6 2.6l0.6-0.7l0.6 3.4l0.6-4l0.6 0.9l0.6 1.3l0.6-7.7l0.6 2.8l0.6 1.2l0.6 0.9l0.6-3.1l0.6 4.7l0.6 0l0.6-1.2l0.6 0.6l0.6-4.7l0.6 5.3l0.6-4.7l0.6-3.6l0.6 4.8l0.6 0.5l0.6-2.6l0.6-2.5l0.6 1.5l0.6 2.2l0.6-5.6l0.6 8.3l0.6-0.2l0.6-3l0.6 2.7l0.6-3.5l0.6 8.7l0.6-7.6l0.6-0.1l0.6-3.5l0.6-1.9l0.6 0.9l0.6 4.7l0.6-3.7l0.6 7.4l0.6-8.3l0.6 2.9l0.6-0.9l0.6-1.2l0.6 2.1l0.6-4l0.6 1.8l0.6-2.9l0.6-2.8l0.6 5.5l0.6-3.1l0.6-0.9l0.6 4.6l0.6-1.6l0.6 1.1l0.6 2.9l0.6-4.1l0.6 0.2l0.6-3.9l0.6 4.4l0.6-5.5l0.6 0.8l0.6 3.6l0.6-1.3l0.6-1.6l0.6 0.4l0.6 5.2l0.6-7.6l0.6 0.9l0.6 0.7l0.6-0.5l0.6-4.3l0.6 5.4l0.6 0.6l0.6 1.8l0.6-5.6l0.6-2l0.6 4.5l0.6-4.1l0.6 2.1l0.6-1.4l0.6 1.2l0.6-1.6l0.6 2.6l0.6-4.4l0.6 7.9l0.6-4.1l0.6-3.6l0.6-0.9l0.6 1.8l0.6-0.7l0.6-1.3l0.6 5l0.6-1.4l0.6-4.9l0.6 3.9l0.6-1.9l0.6 1.9l0.6-4.1l0.6 6.4l0.6-5.2l0.6 4l0.6-5.9l0.6 4.7l0.6-3.7l0.6 4l0.6-4.7l0.6-2.4l0.6-0.2l0.6 1.2l0.6 2.6l0.6-0.8l0.6-1.1l0.6 1.6l0.6 1.2l0.6-6.6l0.6 4.5l0.6 2.8l0.6-7.2l0.6 0l0.6 1.9l0.6-0.4l0.6-2.4l0.6 0.7l0.6 4.3l0.6-1.7l0.6-4.8l0.6-2.3l0.6 1.1l0.6 2.7l0.6-2.3l0.6-0.2l0.6 3.4l0.6-2.3l0.6-0.6l0.6 1.6l0.6 2.7l0.6-3l0.6 1.1l0.6-1.3l0.6 3.5l0.6-7.3l0.6 0.2l0.6 1.3l0.6 5.7l0.6-1.2l0.6-6.4l0.6 1.4l0.6 1.9l0.6-1.2l0.6 1.9l0.6-3.4l0.6-2.9l0.6 5.4l0.6 1.5l0.6-6.8l0.6-1.4l0.6 3.3l0.6-4l0.6 5.5l0.6-4.1l0.6 3.9l0.6-3.2l0.6 0.9l0.6 0.8l0.6-2.1l0.6-2l0.6 4.5l0.6-5.8l0.6 6.7l0.6-5.2l0.6-0.2l0.6 2.1l0.6-0.2l0.6 0.3l0.6-5.2l0.6 0.8l0.6 2.2l0.6-0.1l0.6-1.2l0.6 3.5l0.6-3.6l0.6 2.3l0.6 0.3l0.6-1.7l0.6-1.5l0.6 1.6l0.6-0.9l0.6 0.3l0.6-3.6l0.6 3.2l0.6 2.5l0.6-4.3l0.6 1l0.6-0.9l0.6 2.4l0.6-7.2l0.6 8.3l0.6-2.6l0.6-1.8l0.6 1l0.6 2l0.6-2l0.6 0.7l0.6 1.1l0.6-2.3l0.6 1l0.6 0.1l0.6-1.8l0.6-1.7l0.6 2.2l0.6 2.3l0.6-4.3l0.6 1.1l0.6 0l0.6 0.5l0.6-2.4l0.6 0.3l0.6 3.3l0.6-2.6l0.6-2.4l0.6 2.4l0.6-1.1l0.6 2.5l0.6-5.6l0.6 2.4l0.6 1l0.6-4.1l0.6 0.3l0.6 1.8l0.6-0.9l0.6-0.6l0.6 0.9l0.6-2.9l0.6 0.4l0.6 3.8l0.6-4.5l0.6 1.4l0.6-0.9l0.6 1l0.6-1l0.6-0.3l0.6 0.9l0.6-1.4l0.6-3.7l0.6 1l0.6 3.1l0.6-0.6l0.6-2.4l0.6-2.5l0.6 1l0.6 4.9l0.6-1.8l0.6-0.1l0.6-5.2l0.6 0.4l0.6 1.5l0.6-1.4l0.6 2.5l0.6-1.9l0.6 2.5l0.6-1.6l0.6-0.8l0.6 2l0.6-0.7l0.6-0.7l0.6-1.1l0.6 0l0.6-2.8l0.6-0.1l0.6 1.8l0.6 1.5l0.6 2.6l0.6-2.3l0.6-2.7l0.6 0.8l0.6-1.3l0.6 2l0.6-0.5l0.6-0.4l0.6 0.4l0.6 0.9l0.6-0.8l0.6-3.1l0.6 3.2l0.6-3.6l0.6 1.9l0.6-0.4l0.6 2.8l0.6-3.1l0.6 0.1l0.6-0.8l0.6 1.9l0.6-1.2l0.6-1.5l0.6 1.4l0.6 2.1l0.6-1.2l0.6-0.3l0.6-3.3l0.6 0.7l0.6 0l0.6-3.6l0.6 5.4l0.6-5.4l0.6 3l0.6-3.3l0.6 2l0.6 0.8l0.6-0.2l0.6-1.6l0.6-0.3l0.6 1.4l0.6-1.4l0.6-0.2l0.6 0.5l0.6-4l0.6 2.9l0.6 1.3l0.6 0.2l0.6-1.2l0.6-1.9l0.6 1.3l0.6 0.9l0.6-3l0.6 0l0.6 0.5l0.6-0.4l0.6-2.1l0.6-0.3l0.6 1.4l0.6 0.4l0.6 0.8l0.6-1.6l0.6 1l0.6 1.4l0.6 1.6l0.6-2.3l0.6-1.9l0.6 2l0.6-1.1l0.6-0.1l0.6 0.4l0.6-0.1l0.6-2.9l0.6 0.2l0.6 1.4l0.6 0.3l0.6 1.4l0.6-1.9l0.6-1.1l0.6-0.5l0.6-0.4l0.6-1.2l0.6 0.1l0.6 0.6l0.6 1l0.6-1.5l0.6 0.4l0.6 3.2l0.6-3.4l0.6-0.6l0.6 0.5l0.6-0.6l0.6-3l0.6 3.3l0.6-0.3l0.6-0.6l0.6 0.9l0.6-1.1l0.6 0.7l0.6-1.5l0.6 2l0.6-0.8l0.6-1.9l0.6 0.3l0.6 1.4l0.6-0.7l0.6-0.3l0.6-2l0.6 0.3l0.6 0.8l0.6-0.6l0.6-0.7l0.6-1l0.6 0.3l0.6-0.2l0.6-1l0.6-0.3l0.6 0.1l0.6-1.1l0.6 1.9l0.6 0l0.6 0.4l0.6-2l0.6-0.4l0.6 1.1l0.6-1.2l0.6 0.6l0.6 0l0.6-1.5l0.6 3l0.6-3.2l0.6-0.2l0.6 2.4l0.6-1.6l0.6 2.4l0.6-1.1l0.6 0.1l0.6-1l0.6-1.4l0.6-0.1l0.6 1.5l0.6-0.5l0.6 1.5l0.6-2.3l0.6-0.1l0.6 0.9l0.6 0.4l0.6 0.1l0.6-1.5l0.6 1.6l0.6-0.8l0.6 0.7l0.6-2.6l0.6 1.6l0.6 0.7l0.6-3l0.6 2.4l0.6-0.6l0.6 0.3l0.6-1l0.6 1l0.6-1.8l0.6-0.3l0.6 0.6l0.6 0.2l0.6-2.5l0.6 2.3l0.6-0.5l0.6-0.4l0.6-1.8l0.6 2.2l0.6-1.3l0.6 0.2l0.6-1.4l0.6-0.6l0.6-0.4l0.6-0.2l0.6 1.3l0.6-2.7l0.6 0.4l0.6 0.8l0.6-0.7l0.6-2.5l0.6 1.6l0.6 0l0.6 2.1l0.6-1.1l0.6-2.6l0.6-0.6l0.6 0.4l0.6 1.1l0.6-1.2l0.6 0.9l0.6-2.4l0.6 0.9l0.6 1.8l0.6-4.4l0.6 2.7l0.6-0.2l0.6 0.3l0.6-0.6l0.6-0.1l0.6 0.2l0.6-0.8l0.6-0.3l0.6 1.6l0.6-1l0.6-0.1l0.6-2.2l0.6 0.3l0.6 2l0.6-2.1l0.6 2.5l0.6-3l0.6 3.6l0.6-1.2l0.6-2.4l0.6 0l0.6-1.5l0.6 2.1l0.6 1.4l0.6-0.6l0.6-1.1l0.6 2.7l0.6-1.6l0.6-0.8l0.6-0.6l0.6 1.2l0.6 2.2l0.6-2.4l0.6-2.4l0.6 2l0.6 2.3l0.6-1.1l0.6-2.3l0.6 0.5l0.6-2.5l0.6 2.8l0.6-1.8l0.6 0.6l0.6-0.4l0.6-0.5l0.6 2.6l0.6-0.6l0.6-2.3l0.6 0.2l0.6 1.5l0.6-2.1l0.6-0.1l0.6-0.4l0.6 2.3l0.6-1.7l0.6-0.3l0.6-0.9l0.6-0.1l0.6 1l0.6-2.5l0.6-0.2l0.6-1l0.6 0.9l0.6-0.2l0.6 0l0.6-1.8l0.6 0.9l0.6 0.7l0.6-2.9l0.6 3.9l0.6-1.2l0.6-1.1l0.6 1l0.6 0.5l0.6-0.6l0.6-0.2l0.6 0.1l0.6 0.6l0.6-2.3l0.6 0.7l0.6 0.8l0.6-0.2l0.6-0.9l0.6 1.2l0.6-0.8l0.6 0.5l0.6-2l0.6-0.4l0.6 0.1l0.6 1.2l0.6 2.7l0.6-1.9l0.6-0.5l0.6-1.6l0.6 1.6l0.6-1.3l0.6-0.4l0.6 1.3l0.6-3l0.6-1.4l0.6 0.9l0.6 3l0.6-0.6l0.6-1l0.6-0.4l0.6-0.4l0.6 0.3l0.6-2l0.6 1.6l0.6-2.2l0.6 2.7l0.6-1.6l0.6-0.6l0.6 0.2l0.6-1.2l0.6 4l0.6-4.8l0.6 1l0.6 0l0.6 0.1l0.6-1.4l0.6 2.2l0.6-3.9l0.6 1.5l0.6-1.1l0.6 0.4l0.6-0.5l0.6 1.5l0.6-1.4l0.6-1.5l0.6 4.4l0.6-2.8l0.6-0.1l0.6 0.9l0.6-2.2l0.6 0.1l0.6 1.4l0.6-2.3l0.6 0.6l0.6 1.4l0.6 1l0.6-2l0.6-0.5l0.6 1.5l0.6-3l0.6 1l0.6-0.2l0.6-1.3l0.6-1l0.6 3l0.6 1.4l0.6-0.8l0.6 0.7l0.6-4.9l0.6 2.8l0.6 1.2l0.6-2.7l0.6-0.6l0.6 1.9l0.6-0.5l0.6 0.6l0.6-0.8l0.6 1.3l0.6 1.6l0.6-3.6l0.6-0.9l0.6 0.6l0.6-1.8l0.6 1.5l0.6-0.2l0.6-0.4l0.6-2.8l0.6 1.3l0.6-0.3l0.6 0.5l0.6-2.7l0.6 0.9l0.6 0.4l0.6 1.5l0.6-2.3l0.6 1.5l0.6-1.4l0.6 1.8l0.6-2.2l0.6-2.5l0.6 0.9l0.6 0.6l0.6 1.3l0.6-0.4l0.6-0.7l0.6-1.5l0.6 1.3l0.6-0.4l0.6 1.4l0.6-0.5l0.6-2.9l0.6-0.9l0.6 2.2l0.6 0.5l0.6-1.6l0.6 0.2l0.6 1.8l0.6-0.7l0.6-3.3l0.6 2.3l0.6-0.4l0.6-0.4l0.6 0.6l0.6-0.1l0.6 1.8l0.6-2.8l0.6-1.4l0.6-0.1l0.6 1.2l0.6 1.2l0.6-1.3l0.6-0.3l0.6-0.3l0.6-0.6l0.6 0.4l0.6-1.8l0.6 2l0.6-0.1l0.6-0.3l0.6-1.4l0.6 0.7l0.6-0.2l0.6 0.8l0.6-0.7l0.6 0.7l0.6 0.6l0.6 0.4l0.6-2.6l0.6 0.5l0.6-0.7l0.6 2.2l0.6-2.3l0.6 2.4l0.6-2.3l0.6 1.6l0.6-2.2l0.6-0.1l0.6 0.1l0.6-0.1l0.6-0.4l0.6 0.5l0.6 0.3l0.6-0.1l0.6-1.8l0.6-1.4l0.6 2.2l0.6-3.6l0.6 3.8l0.6 0.1l0.6-2.1l0.6 1.7l0.6-1.3l0.6 2l0.6-2.3l0.6-0.4l0.6 0.2l0.6 0.5l0.6-1.3l0.6 3.8l0.6-2.8l0.6 2.6l0.6-2.5l0.6 0l0.6-0.1l0.6-0.7l0.6 1.1l0.6 1l0.6-1.6l0.6-1.6l0.6 1.3l0.6-1.3l0.6-2.5l0.6 3.1l0.6-1.7l0.6 1.2l0.6 0.5l0.6-0.6l0.6 0l0.6 1.5l0.6-0.6l0.6 0.4l0.6-1.6l0.6-0.2l0.6 1.4l0.6-3l0.6 0.6l0.6-0.9l0.6 0.4l0.6 0.2l0.6-0.4l0.6 0.9l0.6-1.8l0.6 1.3l0.6-2l0.6 2.3l0.6-0.3l0.6-2l0.6-0.4l0.6 0.5l0.6 0.9l0.6-2.4l0.6 0.9l0.6 2.2l0.6-1.7l0.6-1.4l0.6-1.1l0.6 1.6l0.6-1.6l0.6 2.4l0.6-0.3l0.6 2.1l0.6-3.5l0.6 1.9l0.6-2.6l0.6 0.4l0.6 0.6l0.6-0.6l0.6 2.9l0.6-2.5l0.6-0.5l0.6 3.1l0.6-4l0.6 0.3l0.6 0.1l0.6-0.7l0.6 1.2l0.6 0.8l0.6-3.1l0.6 0.9l0.6 0.1l0.6-1l0.6 0l0.6 1.1l0.6-0.5l0.6 1.5l0.6 0.1l0.6-0.9l0.6-0.1l0.6-0.9l0.6 5.8l0.6-4.4l0.6 0.6l0.6-1l0.6 0.5l0.6-0.1l0.6-1l0.6 1.3l0.6-0.9l0.6-1.2l0.6 2.5l0.6-0.5l0.6 0.4l0.6-1.1l0.6 2.6l0.6-1.5l0.6 0.4l0.6-2.1l0.6 0.1l0.6 2l0.6-1.4l0.6-0.1l0.6 1.3l0.6-0.8l0.6-1.3l0.6 2l0.6-3.4l0.6 1.8l0.6-1.5l0.6 2l0.6 0.7l0.6-2.3l0.6 0.4l0.6 1.1l0.6-0.5l0.6-0.6l0.6 0.5l0.6 0.8l0.6-2.1l0.6-1.4l0.6 0.9l0.6-0.1l0.6-0.5l0.6 1.3l0.6 0l0.6-0.1l0.6-0.2l0.6-0.5l0.6-1.7l0.6 0.3l0.6-0.8l0.6 1.7l0.6-0.7l0.6-0.9l0.6 0.1l0.6-1.1l0.6 1.2l0.6-0.1l0.6-1.8l0.6 2.4l0.6-2l0.6-0.2l0.6 0.3l0.6-0.8l0.6 1.7l0.6 0.4l0.6-2.9l0.6 2.3l0.6 0.3l0.6-0.1l0.6 0.2l0.6-0.5l0.6-1.1l0.6 1.5l0.6-1l0.6 0.4l0.6 0l0.6-0.2l0.6 0.6l0.6 0.7l0.6 0.1l0.6-3.5l0.6 0.2l0.6-0.5l0.6 0.8l0.6 0.1l0.6 0.7l0.6-0.9l0.6 2l0.6-2.2l0.6-0.8l0.6-0.3l0.6 0.5l0.6 0.3l0.6-0.9l0.6-0.6l0.6-0.7l0.6 1.5l0.6-0.9l0.6-0.4l0.6 0.5l0.6 0.5l0.6 1.9l0.6-0.4l0.6-3l0.6 0.5l0.6-1.6l0.6-0.1l0.6-0.3l0.6 2.8l0.6-1.2l0.6-1.3l0.6 0.3l0.6 0.5l0.6-0.3l0.6 2.2l0.6-3.9l0.6 1.8l0.6 0.8l0.6 0.2l0.6-2.8l0.6 2.7l0.6-1.9l0.6 0.5l0.6-1.4l0.6 2.4l0.6 2.5l0.6-2.6l0.6-1.1l0.6-2l0.6 3.1l0.6 0.3l0.6-2.5l0.6 2.3l0.6-3.3l0.6 0.8l0.6 1.7l0.6-1.6l0.6 2.1l0.6 0.6l0.6-1.2l0.6 0.5l0.6 1.2l0.6-1.3l0.6 0.4l0.6 0.1l0.6-3.1l0.6 3.5l0.6-1l0.6-1.2l0.6 0.6l0.6-1.2l0.6 0.2l0.6-1.7l0.6 0.6l0.6-0.1l0.6 1.2l0.6-0.9l0.6-0.2l0.6-0.8l0.6 1.4l0.6-4.3l0.6 1.6l0.6 1.8l0.6-1.9l0.6 0.9l0.6 1l0.6-0.7l0.6-2.7l0.6 1.3l0.6-1.1l0.6 1.5l0.6 0.8l0.6-1.2l0.6 1.1l0.6-1l0.6 2.2l0.6-2.1l0.6-0.2l0.6 0.6l0.6 0.6l0.6-0.7l0.6-0.5l0.6 0l0.6 0.7l0.6 0l0.6-0.8l0.6-0.6l0.6 0.2l0.6 0.6l0.6-0.8l0.6-0.8l0.6 0.9l0.6 0.1l0.6 1.2l0.6-1.4l0.6-0.3l0.6 2.5l0.6-1.7l0.6-1.9l0.6 2.4l0.6-1.8l0.6-0.4l0.6 1.5l0.6-2.4l0.6 1.2l0.6 0.7l0.6-0.1l0.6-1.6l0.6-0.7l0.6 0.8l0.6 1.6l0.6-3.5l0.6 2.4l0.6-0.6l0.6 1.3l0.6-3.1l0.6 2.3l0.6-2.3l0.6 1.5l0.6-0.6l0.6-2.4l0.6 3l0.6 0.7l0.6 0.6l0.6-1.7l0.6-0.8l0.6 2.1l0.6-1.4l0.6 1.5l0.6 0.3l0.6-1.9l0.6 0l0.6-0.7l0.6-2.1l0.6 2.3l0.6 0.7l0.6 0l0.6-1.3l0.6 2.2l0.6-2.9l0.6 0.6l0.6-1l0.6 0l0.6 0.1l0.6-0.8l0.6 0l0.6 0.7l0.6-0.5l0.6-1.6l0.6 1.5l0.6-1.6l0.6 1.2l0.6-0.4l0.6-2l0.6 0.6l0.6 2l0.6-1.5l0.6-0.2l0.6 0.3l0.6 0.5l0.6 0.3l0.6-1.2l0.6 2.1l0.6-2.6l0.6 0.2l0.6 0l0.6 0.3l0.6 1.3l0.6 0.5l0.6-3.2l0.6 0l0.6 1.1l0.6-0.9l0.6 0.8l0.6-2.3l0.6 2.3l0.6-3.2l0.6 3.1l0.6 0.1l0.6 1.7l0.6-3.7l0.6 1.8l0.6 0.2l0.6-1.5l0.6 0.9l0.6-0.7l0.6-0.4l0.6-0.4l0.6 1.4l0.6-0.7l0.6-1.1l0.6 2.6l0.6-2.2l0.6 2.7l0.6-0.5l0.6-1.1l0.6-0.6l0.6 0.7l0.6-0.5l0.6 0.6l0.6 0.1l0.6 2.9l0.6-4.9l0.6 1.5l0.6 0.9l0.6 0.5l0.6-0.2l0.6-2.5l0.6 1.9l0.6-4.6l0.6 2.3l0.6 1.3l0.6-0.5l0.6-2.3l0.6 0.7l0.6-1.7l0.6 1.7l0.6-0.9l0.6 1.6l0.6-1.4l0.6 1.2l0.6-1.3l0.6-0.4l0.6 2.3l0.6-0.3l0.6-2.7l0.6 2.9l0.6-0.7l0.6 0.3l0.6-0.9l0.6-2.3l0.6 1.2l0.6-8.4l0.6 7.2l0.6 0.6l0.6 2l0.6-1.7l0.6 0.2l0.6 0.6l0.6-1.9l0.6 2.5l0.6-1.3l0.6-1.7l0.6 0.8l0.6 0.6l0.6 1l0.6 0.7l0.6-2.4l0.6-4.1l0.6 6.3l0.6 1.6l0.6-1.7l0.6-1.6l0.6-0.8l0.6 1l0.6-0.7l0.6-0.8l0.6 2.4l0.6 1.9l0.6-3.5l0.6-0.2l0.6 0.2l0.6-1.3l0.6 2.1l0.6-2.3l0.6 2.6l0.6-0.6l0.6 0.3l0.6-2.6l0.6 2l0.6 0l0.6 0.2l0.6-0.6l0.6-1.1l0.6 2.1l0.6 0.1l0.6 0l0.6-2l0.6 1.6l0.6-1.5l0.6 0.1l0.6 0.9l0.6-2.9l0.6 5l0.6-1.8l0.6-2.1l0.6 0.2l0.6 0.5l0.6-0.4l0.6-1.8l0.6 1.2l0.6-1.6l0.6 0.7l0.6 2.9l0.6-1.9l0.6-0.4l0.6 1.8l0.6-5.4l0.6 4l0.6-1.5l0.6 1.3l0.6-5.4l0.6 4.6l0.6 0.4l0.6 0.6l0.6-0.6l0.6-1.5l0.6-1.6l0.6 0.8l0.6-0.2l0.6 2.6l0.6-2.4l0.6-1.8l0.6 2.7l0.6 1l0.6-1.9l0.6 1.1l0.6-2.3l0.6 1.7l0.6-0.4l0.6 0.3l0.6 0.1l0.6-0.8l0.6 1.2l0.6-1.5l0.6 0.8l0.6 1l0.6-2.8l0.6 0.8l0.6 1.9l0.6-0.1l0.6-2.5l0.6-0.2l0.6 1.4l0.6-1.5l0.6 0.6l0.6-1.8l0.6 1.7l0.6-2.7l0.6 2.3l0.6 0.4l0.6-1.6l0.6-1.2l0.6 0l0.6-0.7l0.6 4l0.6-4.2l0.6 0.7l0.6 1.7l0.6-0.3l0.6 1l0.6 0.2l0.6-1.1l0.6-0.6l0.6-0.5l0.6 0l0.6 1.1l0.6 0l0.6 0.1l0.6-2.6l0.6 1.2l0.6 0l0.6-0.1l0.6-0.8l0.6 2.1l0.6 0.6l0.6 2l0.6-3.2l0.6 0.2l0.6 0.2l0.6-0.2l0.6-0.9l0.6 1.1l0.6-1.8l0.6 0.8l0.6-0.8l0.6 0.9l0.6-0.8l0.6 0l0.6 0.3l0.6-0.5l1.4 3l4.8 6l2 9.5l1.1 11.2l1 36.3"/>
<path stroke="#A2142F" d="M198.2 1174.5l0.9-12.5l1-1.8l1-1.9l1-1.8l1-1.4l1-1.7l1-2.1l1-1.1l1-2.3l1-1.6l1-1.8l1-1.9l1-1.8l1-0.7l1-2.2l1-2.9l1 1.6l1-1.5l1-1.6l1-2.3l1-2.8l1-2.5l1-1.9l1-2.8l1 0.2l1-3.1l1 0.3l1-1.4l1-2.5l1-1.5l1-1.2l1-0.9l1-2.8l1 0.9l1-4.6l1-1.4l1-1.5l1-1.1l1-1.3l1-1.2l1-2.3l1 0.3l1-5.3l1 0.3l1-1.7l1-3.2l1-1.4l1-0.1l1-0.5l1-2.3l1-2l1-2.1l1-1.8l1-1.5l1-0.1l1-1l1-1.9l1-2.5l1 0l1-1.1l1-4.9l1 0.9l1-2.6l1-0.9l1-3.1l1-1.1l1 0.2l1-1.9l1-1.4l1-2.1l1-0.1l1-0.3l1-4l1 0.1l1-2.2l1-0.1l1-0.5l1-2.3l1-2l1-2.2l1 0.8l1-1l1-5.2l1 1.8l1-2.7l1-2.9l1 2.4l1-2.3l1 0.6l1-4.6l1-0.8l1-2.3l1 1l1-3.5l1-0.2l1 0.2l1-2.4l1-1.4l1-2.4l1-1l1-2.7l1-3.2l1 0.4l1-2.3l1-2.1l1-1.6l1 1.2l1-4.7l1-0.6l1 0.4l1-1l1-1.5l1-3l1 2.1l1-2.6l1-2.7l1 1.5l1-2.9l1-3.1l1-2.8l1 0.9l1-1.7l1-0.1l1-2l1-2.3l1 0.3l1-2.1l1-3.1l1 0.8l1-1.6l1-1.8l1-0.4l1-3.1l1-1l1 0l1-2.4l1 1.2l1-2.5l1-0.7l1-0.6l1-1.6l1-0.9l1-4.6l1 0.8l1-3.8l1-1.4l1-0.8l1-1.5l1-2.1l1-1.4l1-0.2l1-5.3l1-1l1-0.9l1 0.6l1-1.8l1-1.7l1 0.3l1-3l1-3.1l1 0.7l1-0.1l1-0.5l1-3.4l1-1.1l1-1.5l1-1l1-2l1-1.9l1 1.4l1-1l1-2.8l1-2.6l1-1.2l1-1.9l1-1.2l1-1l1-1.3l1 0.2l1-2.1l1-2.2l1-0.8l1-4l1 1.9l1-2.1l1 0.3l1-3.5l1-1.1l1-2.6l1 1.6l1-3.2l1-1.2l1-3.3l1-0.6l1-2.5l1-1.6l1-0.5l1-2.2l1-0.2l1-1.5l1-1l1-3.9l1-0.9l1-0.3l1-0.6l1-3.4l1-0.1l1 0.2l1-2.6l1-1.3l1-2.6l1-0.6l1 0.5l1-0.6l1-4.4l1 0.9l1-2l1-1.9l1 1.7l1-2.2l1-3.3l1-1.2l1-0.1l1-2.8l1 0.6l1-0.4l1-3.4l1 0.7l1-0.5l1-1.9l1-0.4l1-0.9l1-1.4l1-2.6l1 0.7l1-2.4l1-0.4l1-1.5l1-1.6l1-2.9l1 2.4l1-1.8l1-1.5l1-0.8l1-2l1-1l1-0.4l1-4.3l1 0.6l1-0.8l1-1.1l1-1.2l1-1.5l1-0.5l1-0.4l1-1.5l1-0.8l1-1.2l1 0.1l1-0.7l1-3l1-1.2l1-0.7l1-0.7l1 0.5l1-1.9l1-1.2l1-1.3l1-1l1-0.8l1-0.4l1-5.2l1 2.7l1-0.4l1-2.2l1 1.3l1-2.2l1-1.2l1-3.5l1 2.1l1-1.5l1-1.2l1-3.9l1-0.4l1 0.7l1-1.6l1 1.9l1-3.8l1 0.8l1-1.5l1 2l1-3.8l1 0l1-3l1-1.9l1 0.5l1 0.2l1-2.5l1 0.5l1-1.7l1-1.4l1-1.3l1-0.5l1-1.9l1-0.2l1-1l1-1.9l1-3.3l1 2.6l1-2.5l1 0.1l1-2.5l1 0.7l1-1.4l1-1.2l1-0.2l1-1.2l1-2.5l1 2.4l1-1.1l1-1.2l1-3l1 1.9l1-1.8l1 1.3l1-3.4l1-0.8l1 0.1l1-4.4l1 0.7l1-0.8l1-3.7l1 0.8l1 0.6l1-1.4l1 0.8l1-1.8l1-3.4l1 1.7l1-1.4l1-1.6l1-1.8l1 2l1-1l1-2.1l1-2.4l1-1.2l1-0.7l1 1.1l1-3.7l1 2.2l1-2.2l1-0.5l1-0.7l1 1.3l1-2.9l1-1.5l1-0.2l1-0.9l1-0.9l1-0.9l1-2.2l1 1.2l1-2.8l1 2.2l1-2.3l1-1.6l1 1.5l1-1.2l1-1.6l1-2.9l1-0.6l1 0.9l1 1l1-3.3l1-1.2l1-0.6l1-2.7l1 1.2l1-3.2l1-0.4l1-2.2l1-1l1-0.4l1-0.8l1-0.4l1 1.7l1-2.3l1-1.7l1 0.6l1-1.7l1 1.2l1-1.6l1-2l1-0.2l1-0.2l1-2l1-1l1 0.3l1-1.4l1-0.1l1 0.4l1-2l1 0.2l1 0.6l1-3.2l1 1.4l1-3.4l1-1.7l1 0.8l1-1.3l1-2.2l1 2.2l1-1.5l1-2.7l1-0.4l1-0.4l1-2.2l1 0.7l1-2.8l1-1l1 3l1-2.5l1-0.8l1 0l1-1l1 2.2l1-2.4l1-0.5l1-0.6l1 0.5l1-5.3l1 2.7l1-1.3l1-0.5l1 0.7l1-1.6l1-3.8l1 1.6l1-1.3l1 0.9l1-4l1 2.2l1-1.4l1-0.3l1-1.6l1-3.7l1 2.2l1-1.9l1-1.8l1 1l1-2.1l1 1.2l1-1.4l1-2.8l1 1l1-1.3l1-0.5l1-0.5l1 0.7l1-2.6l1 0.6l1-2.6l1 1.5l1-2.5l1-0.2l1 0.4l1-1.9l1 1.9l1-3.2l1 2.4l1-1.6l1-1.7l1 0.3l1-0.9l1 2l1-2.6l1-1.9l1 0.8l1-1.2l1 0l1-1.2l1-0.6l1 1.5l1-1.3l1 0.8l1-1.6l1-0.5l1-1.4l1 1.3l1-0.5l1-2.8l1 0.6l1-2.9l1-0.4l1 1.7l1-3.5l1 4.2l1-3.1l1 0l1-2.5l1-1.8l1 0.2l1-0.6l1 1.7l1-2.6l1-0.7l1 1.5l1-3.8l1 0.1l1 1.5l1 0.6l1-5.1l1-1.4l1 1l1 0.5l1-0.8l1-1.3l1-1.6l1 2l1-1.9l1-0.8l1 0.1l1 1l1-1.8l1 2.1l1-3.8l1 0.4l1-3.4l1 1.2l1 0l1-1.2l1-0.9l1-0.3l1-1l1 0.1l1 0.3l1-0.5l1-2.4l1 0.2l1-1.5l1 1.3l1 0.2l1-2.5l1 0l1-1.1l1 0.8l1-1.6l1-1.7l1 2.6l1 0.8l1-2.1l1-1.1l1 0.1l1 1.2l1-2.8l1 0.6l1-1.1l1-3.1l1 1.2l1 0.2l1-0.4l1-1.1l1-2.6l1 1.1l1-0.6l1-0.3l1 1.1l1-2.6l1 0.7l1-1.1l1 1.9l1-3.5l1 2l1-4.3l1-0.9l1 1.5l1-0.6l1 1.1l1-0.7l1-0.4l1-1.9l1 0.4l1 0.7l1-1.9l1 0.4l1 0.9l1-2l1-0.4l1 0.5l1-1l1-3.3l1 1.8l1-0.8l1-0.1l1 1.7l1-1.5l1-1.5l1-2l1 0.8l1-1.1l1 0.6l1-1.4l1 0.4l1-2.6l1 0.6l1-0.5l1-2l1 1l1-1.9l1-0.7l1-1.2l1 0.8l1-1.8l1 2.3l1-1l1-0.3l1 0.4l1-1.6l1-1.2l1 1.1l1-1.9l1 0.2l1-2.8l1 1.5l1-0.2l1 0.3l1-0.7l1 0.1l1-1.9l1-0.1l1 0.4l1-1.9l1 0.3l1 0.5l1-3l1 0.1l1 1.8l1-2.1l1 1.8l1-2.1l1-0.9l1 1.3l1-1.9l1-0.4l1-1.7l1-0.6l1-0.1l1-1.2l1 0.2l1-1.7l1 0.7l1 0.2l1-1.2l1-2.3l1 1.9l1-4l1 2.1l1-0.5l1 0.4l1-2.4l1-0.5l1 1.2l1-0.6l1-2.6l1 0.3l1-1l1-2.6l1 3.8l1-2.5l1 0.8l1-0.4l1-2.2l1 2.2l1-2.4l1-1.2l1 1.9l1-0.2l1-1.6l1 0.5l1 1.8l1-1.8l1-1.1l1-0.5l1 1.7l1-2.9l1-2.4l1 3.3l1-1.9l1-1.9l1 0.5l1-0.7l1-1.6l1 1.1l1-0.3l1 2.4l1-2.7l1-1.6l1 0.3l1-0.6l1 0.8l1-0.3l1-4.7l1-0.1l1 0.9l1 1.6l1-2.8l1 0.7l1-2.6l1-0.6l1 0.2l1 1.8l1-2.5l1 0.1l1-0.5l1 0.1l1-0.9l1 0.6l1 0.5l1-1.5l1-1.7l1 0.3l1-0.2l1-1.4l1-1.2l1-0.2l1-0.2l1-1.7l1 5.4l1-2.8l1-2.4l1-1.1l1 1.8l1-3.4l1-0.1l1 2l1-1.5l1 0.9l1-1.6l1-0.2l1-0.9l1 1l1-0.6l1-0.6l1-1.5l1 3l1-2.7l1 0.6l1-4l1-1.3l1 4.3l1-3.3l1 7.1l1-6.4l1 1.2l1-3.2l1-0.6l1 1.3l1-0.2l1-1.4l1-4.1l1 4l1-2.3l1 2.3l1-3.8l1 0.8l1-0.6l1-0.8l1 2.3l1-3.7l1 1l1-1.8l1-1.2l1 1.1l1-0.3l1-1.1l1-1.3l1 1.6l1 3l1-4.1l1 0.4l1-1.3l1 4.4l1-6.1l1 0.8l1-1.9l1 3.1l1-1.2l1-0.2l1-0.7l1-6.3l1 16.3l1-12.4l1-2l1 1.9l1 0.9l1 0.5l1-4.5l1 4.7l1-1.1l1 0.8l1-3.2l1 0.1l1-0.6l1 0l1-0.5l1-1.6l1 3.3l1-1.1l1-1.5l1-1.9l1 3.7l1-4.3l1 0.3l1-0.7l1 0.3l1 0.9l1 0.2l1-1.3l1-2.1l1 2.6l1-0.2l1-0.3l1 1l1-3.9l1-0.1l1-0.5l1 0.1l1 1.5l1-1.3l1-0.9l1 1.4l1-1.2l1-0.2l1-0.6l1-1l1 0.3l1-1l1 0.4l1 0.4l1 0l1-1.1l1 2.4l1-3.7l1 2l1-0.8l1 0.2l1-2.4l1 0l1 1.1l1-2.9l1 1.7l1-2.6l1-1l1 2l1-1.4l1 2.6l1-4.5l1 1.8l1-0.3l1-0.6l1-0.7l1-2l1 2.2l1-0.3l1-0.7l1-0.3l1 1.1l1-0.8l1-0.6l1-1.6l1 1.6l1-2.4l1 1l1-1.7l1 0.8l1 0.9l1-1.9l1 1.2l1-1.8l1 2l1-2.8l1 2.6l1-2.5l1-1.7l1-1.6l1 0.7l1 2.6l1-4.4l1-0.5l1 1.9l1 1.1l1-2.2l1-1l1 0.7l1 0.2l1 1.2l1 0.3l1-2.1l1-1.2l1-1.2l1-1.2l1 1.4l1-2.2l1 2.1l1-1.8l1-1l1 2.4l1-3.9l1 2.3l1-0.9l1 0.3l1-0.9l1-1.4l1 1.7l1 0.1l1-3.8l1 1.8l1-0.2l1-0.5l1 0.3l1-1.2l1-1.1l1 1.5l1-3l1 0l1-0.2l1-0.8l1 0l1 2.4l1-3l1 3.6l1-5.4l1-1.3l1 2.3l1-1l1 3l1-1l1-2.2l1 0.9l1-1.2l1 2.7l1-3.6l1-0.4l1-0.1l1-0.7l1-0.5l1-0.6l1 0.5l1-0.1l1-2.4l1 0.8l1-1.7l1-1.1l1 2l1 0.5l1 0.2l1-2l1-1.3l1 0.6l1 0.7l1-0.4l1 0.2l1-1.2l1 1.6l1-2.2l1 1.1l1-0.1l1-0.7l1-0.3l1-1.9l1 2.3l1-1.6l1 0l1-1.3l1 1.1l1-1.4l1-0.7l1 1l1-2.3l1 0.6l1-0.5l1 0.1l1-0.7l1-2.2l1 0.9l1-0.5l1 1.5l1-0.3l1-1.7l1 0.4l1-4.7l1 2.1l1-0.6l1 2.1l1-0.3l1-0.1l1-0.2l1 0.3l1-1l1-0.9l1 1l1-1.1l1 1.2l1-2.8l1 0l1-0.6l1 1.2l1-2.4l1-2.1l1 1.2l1-0.4l1 0.1l1-0.8l1 2.2l1-1.8l1 0.5l1-0.2l1 0.1l1-0.4l1-2.1l1 1.2l1-0.6l1 0.7l1-1.8l1 1.5l1-1.4l1 1.3l1 0.1l1 0l1-2.3l1 2.2l1-4.2l1 2l1-2.3l1 1.3l1-1.7l1 1.3l1-1.2l1 1.6l1 0.7l1-1.9l1 0l1-0.6l1-1.1l1-0.9l1-1.1l1-0.2l1 1.2l1-1.6l1 0.4l1-1.8l1 3.8l1-0.6l1-2.4l1 2l1-1.8l1 0.3l1-1.8l1-0.2l1 1.4l1-0.5l1 0.3l1-0.4l1-1.2l1-1.1l1 0.7l1-3.1l1 2.3l1 1l1-2.1l1 2.1l1-2.7l1-1.3l1 2.2l1-1.6l1 1l1-1.9l1 1l1-0.7l1-0.6l1 0.8l1-2.2l1 0.6l1 1.6l1 0.2l1-1.3l1-2.2l1 0.8l1-0.5l1-0.6l1-1.7l1-0.9l1 3.3l1 0l1-3.4l1 0.7l1-0.1l1-1.4l1 0.7l1-0.8l1-1.3l1 1.1l1 0.6l1-1.6l1 1.5l1 0.2l1-0.9l1-0.8l1-0.7l1 0.7l1-1.4l1-2.2l1 1.5l1 1.7l1-0.9l1-2.9l1 0.7l1-1.2l1-0.8l1 0.6l1 1l1-1l1-1.2l1-2.8l1 4.3l1-6.2l1 3.3l1 2l1-2.3l1 1.8l1-9.7l1 4.3l1 0.2l1-2l1-1.1l1 7l1-6.3l1 6.7l1-1.1l1-4l1-3.4l1 2.2l1-0.4l1-0.5l1-1l1 2.2l1-1.2l1 0.5l1-0.5l1 3.4l1 1.9l1-6.6l1 4.6l1-17.4l1 28l1-18.5l1 2.4l1-0.7l1 2l1 1.2l1-4.6l1 2l1-6.4l1 3.3l1 3.2l1-6.2l1 0l1 5.1l1-6.9l1 4.5l1 7.2l1-5.4l1 4.2l1-1.1l1-7.2l1 2l1 0.5l1 0.8l1 0.5l1-0.8l1-0.6l1-1.6l1 2.1l1-2.1l1 1.8l1 0.3l1-3.6l1 3.9l1-2.7l1 1.1l1-0.3l1 0.8l1-0.9l1 0.7l1-0.7l1-2.2l1 0.8l1 0.9l1 0.3l1-1.4l1-1.5l1-0.9l1 1.5l1 3.2l1-3.9l1-0.6l1 0.9l1-0.3l1-1.5l1-2.9l1 1.5l1-0.3l1 1.1l1-1.2l1 0.5l1-1.1l1 0.1l1 3l1-1.9l1-0.6l1-2l1-0.5l1 2.5l1-1.1l1 0.2l1-0.5l1-0.3l1-3.7l1 3.9l1 0.9l1-2.1l1-0.6l1 0.5l1-0.9l1-1.7l1 1.6l1-0.3l1 1.1l1-1.8l1 0.6l1 0l1 0.6l1 1.7l1-1.1l1-0.1l1-2.5l1 3.1l1-3.9l1 3.4l1-0.8l1-0.9l1-1.6l1 1.1l1-1.2l1 1.9l1-5.2l1 2.8l1-3.5l1 3.1l1 0.1l1 1.5l1-2.4l1 0.2l1-1.9l1 2.5l1 0.6l1-0.7l1-1.3l1 0.9l1 0.9l1 0.2l1-3.2l1 1.5l1-0.5l1-2.5l1 3.4l1-0.8l1-1.3l1 1.8l1-0.7l1-0.9l1 1.3l1-0.7l1-0.4l1 1.4l1-3l1 4.1l1-2.2l1-1l1 0.9l1-1.6l1 0.5l1 2.1l1-1.9l1-0.8l1-0.3l1 1.2l1 0l1-1.5l1 2l1-1.5l1-0.6l1 0.9l1-1.9l1-0.7l1 1.5l1 1.5l1-1l1 1.2l1 0.1l1-1.9l1-0.2l1-0.2l1 0.7l1-0.5l1 0.2l1 1.5l1-0.8l1-0.4l1-1.3l1 0l1 1.1l1-0.7l1-0.5l1-0.5l1-1.1l1 0.1l1 1.7l1-1.4l1-0.5l1 1l1-2.2l1-0.2l1 2.1l1-0.5l1-2.9l1 1.6l1-0.9l1 0.5l1 0.3l1-1.6l1 0.8l1 2.7l1-2.3l1-0.5l1 1.5l1-3.1l1 1.3l1 1.9l1-1.5l1 0.4l1-0.8l1 0.4l1 0.5l1-1.1l1 0.4l1 0.1l1-2.7l1 3l1 0.8l1-1.2l1-0.9l1-1l1 0.7l1 1.7l1-0.4l1-3l1 2.1l1-3l1 0.1l1 0.8l1 0.7l1-0.9l1 1.2l1-0.7l1 1.4l1-3.5l1 1.3l1 0.4l1 0.6l1-3.9l1 2.1l1-1.9l1 2.3l1-1.4l1 1.3l1 0.7l1 0.2l1-1.5l1 0.5l1 2.7l1-3.6l1 1.3l1-1.6l1 1.6l1-1.8l1 1.6l1-2.6l1 1.8l1 2.6l1-4.1l1 0.3l1 1.5l1-1.9l1-1.4l1 0.6l1 1.6l1 0.9l1-1.7l1-0.3l1 1l1-1.4l1 1l1 0.1l1-2.7l1 1.8l1-0.6l1-1.6l1-0.3l1 0.9l1-2.6l1-0.4l1 3l1 0.5l1-2.4l1 0.7l1-2.7l1 0.3l1 0.7l1 0.3l1 0.2l1-0.7l1 0.5l1-0.2l1 1l1 0.8l1-0.7l1 0.8l1-1.9l1-0.2l1-2.5l1 0l1 2.5l1-0.6l1-0.5l1-0.3l1-1.4l1-1.2l1 1.4l1-0.5l1-2.7l1 4.1l1-2.4l1 1.1l1 1.3l1 0.2l1-1.7l1 1.1l1-0.3l1-1.1l1 0.1l1-1.5l1 0.8l1-0.7l1 0.4l1 0l1 0.9l1-1.2l1-0.2l1-0.1l1 3.5l1-3.5l1 0.8l1-2.3l1 2l1-1.4l1 1.2l1 1l1 1.4l1-1.9l1 0.4l1-1l1-0.7l1 0l1 0.5l1-0.9l1-0.7l1-0.6l1 0.9l1-1.4l1 1.1l1-2.8l1 2.5l1-1.7l1 0.9l1 2.3l1-1.5l1-1.8l1-0.1l1 1.4l1 0.1l1-0.9l1 0.6l1-1.7l1-3l1 4.7l1-2.4l1 1l1-1.4l1 0l1-0.8l1 1.9l1 0.1l1 0.5l1-1l1-1.1l1-0.9l1 0.4l1 1l1-3.6l1 1.3l1 1.2l1 1.1l1 0.4l1 0.4l1-3.3l1 0.4l1-0.7l1-0.4l1 0.7l1 0.3l1 1.2l1-3l1 1.6l1-1.1l1 2.2l1 0.5l1-2.8l1-0.1l1 1.6l1 0.7l1-2.7l1 0.1l1 0.9l1-1.4l1 2.6l1-2.3l1 0l1-1.2l1 3.1l1-3.2l1 0.8l1-0.6l1 0.6l1-2.1l1 0.9l1 2l1-0.9l1-0.3l1 1.1l1-0.2l1 0.6l1-1.5l1-1.2l1 3l1-3.9l1 0l1 0.2l1 4.1l1-2.9l1 0.8l1-2.7l1 0.4l1 1.3l1-1.3l1 0.4l1 0.5l1 0l1-0.4l1-0.2l1 0l1 0.4l1 0.9l1-2.5l1 0.9l1 0.5l1-1.7l1 0.4l1 2.1l1-0.9l1 1.4l1-1.2l1-2.6l1-0.2l1 0.2l1 1.3l1-4.9l1 4l1 1.6l1-1.8l1 0.2l1-0.8l1-1.4l1 2.9l1-2.1l1 1l1-0.4l1 1.9l1-1.6l1-0.3l1-0.8l1-0.8l1 1.3l1 0.8l1-1l1-2.9l1 1.1l1 3.1l1-2.5l1 0.9l1-2.5l1 1.6l1-0.4l1 1.9l1 0l1 0.2l1 0.4l1-1.9l1 2.2l1-2.1l1 1.3l1 1.2l1-3.4l1 0.7l1-0.6l1 0.1l1-0.2l1-0.6l1-0.6l1 0.6l1-2.5l1 0.3l1 0.3l1-0.9l1 1.3l1-0.9l1-0.8l1-0.8l1 0.1l1 1l1-2.6l1 2.2l1-0.8l1-1l1-2.3l1 0.9l1 2.1l1-2.3l1-0.4l1-0.5l1 1.6l1-3l1 3.1l1-0.8l1-1.5l1 2.1l1-3.8l1 1.6l1 1.5l1 1.2l1-3.5l1-0.6l1 1.3l1 0l1-1.7l1-0.2l1 2.3l1-3.2l1-1.1l1 1.1l1 1.8l1-0.6l1-1.2l1-1.9l1 0.9l1 3.3l1-2.6l1 0.6l1-3l1 1.4l1 0l1 2.6l1-2.4l1 0.1l1-0.5l1-2.7l1 4.6l1-3.4l1 1.9l1-1.1l1 1.2l1 0.3l1-0.1l1 2.3l1-2.7l1 0.7l1 1.6l1-0.9l1-0.2l1 2.8l1-1.3l1-2.3l1 1l1-1.5l1 1.2l1-2.5l1 2.5l1-0.9l1-0.2l1-0.2l1 0l1-1.1l1 0.6l1 0.6l1-0.6l1-1.4l1 1.6l1-2.2l1 1l1-0.5l1 0.4l1 0.6l1 0.2l1 0.1l1-1.3l1-1.8l1 1.8l1-0.1l1-2l1-0.3l1 1.3l1 2.4l1-2.5l1 0.1l1 0.8l1-2.2l1 0.4l1 1.2l1 1l1-1.5l1-0.6l1-1.4l1 3.4l1-3.7l1 2.3l1-2.3l1 1.5l1 0.7l1-3.2l1 1.5l1-0.3l1-0.1l1-2l1 1.7l1-1.5l1-1.7l1 2.6l1 0.6l1-1.3l1-0.3l1 0.8l1 0.8l1-3.4l1 2.3l1 1.2l1-3.3l1 1.6l1-0.6l1 0l1 1.5l1-3.3l1 1.1l1-0.9l1 1.1l1 2.7l1-3.3l1 0.5l1-0.4l1 1.2l1-0.8l1-0.3l1 0l1 0.8l1-1.6l1-1.9l1 3.9l1-1.7l1-0.9l1 0.7l1 0.6l1-1.9l1 1.3l1-1l1 1.9l1-4.5l1 0.8l1 3.1l1-3.1l1 0.8l1-0.5l1-1.4l1 2.5l1 0.5l1-0.2l1-1.8l1 0.7l1 2.2l1-1.9l1-0.8l1 2.5l1-1.4l1-2.2l1 1.2l1 1.8l1-1.7l1-0.1l1 0.4l1-1.8l1-0.8l1 1.2l1-0.5l1 0.4l1-1l1-0.6l1-1.1l1 2.3l1 1.2l1-3.8l1 3.2l1-0.6l1-1.3l1-0.4l1 1.7l1-0.7l1-0.2l1-0.4l1 2.6l1-3.6l1 2.7l1 1.4l1-1.9l1 1.7l1-2.7l1-0.2l1 0.6l1-2.5l1 0.7l1 0.5l1-1.6l1 1.4l1 0.5l1-3.2l1 0.8l1 0.6l1-1.5l1 2.4l1 0.2l1-1.8l1 0.8l1-0.6l1 0.3l1 1.1l1-0.8l1-0.2l1-1.2l1 1.5l1-0.3l1-2.4l1 1.3l1 2.4l1-4.2l1 1.9l1 1.4l1-3.5l1 1l1-4.3l1 3.9l1-0.3l1 0.8l1-0.6l1 0.9l1 0.5l1-0.4l1-1.2l1 0.2l1 0.2l1-0.5l1-1.1l1-0.8l1 1.8l1-1.1l1 0l1-1.7l1-0.3l1 0.8l1-0.3l1 3l1-3l1 1.5l1-1.2l1-0.6l1-0.5l1 1.3l1-0.5l1-2l1 2.6l1-0.8l1-1.7l1 1l1 1.6l1 0.2l1-1l1 1.3l1-0.4l1-2.4l1 0.1l1 1.4l1-1.7l1-0.1l1 0.6l1-0.8l1-1l1-0.9l1 4.2l1-4.6l1 0.4l1 2l1-1.5l1-1.7l1-0.2l1 2.3l1-1l1-3.2l1 0.6l1 2.1l1 1.5l1-2.6l1 1.6l1-2.6l1 0.8l1 0.8l1 1.9l1 0.4l1 0.7l1-0.3l1 1.8l1.4 0.8l1 3.8"/>
</g>
<g class="tk" text-anchor="middle">
<text x="197.2" y="1258.7">0</text>
<text x="436.1" y="1258.7">5</text>
<text x="675.0" y="1258.7">10</text>
<text x="913.9" y="1258.7">15</text>
<text x="1152.8" y="1258.7">20</text>
<text x="1391.7" y="1258.7">25</text>
<text x="1630.6" y="1258.7">30</text>
<text x="1869.5" y="1258.7">35</text>
<text x="2108.4" y="1258.7">40</text>
<text x="2347.3" y="1258.7">45</text>
</g>
<g class="tk" text-anchor="end">
<text x="172.3" y="1196.1">0</text>
<text x="172.3" y="826.9">5</text>
<text x="172.3" y="457.7">10</text>
<text x="172.3" y="88.5">15</text>
</g>
<text class="lb" text-anchor="middle" x="1272.9" y="1348.3">Strain (%)</text>
<text class="lb" text-anchor="middle" transform="translate(77.3 623) rotate(-90)">Stress (MPa)</text>
<rect x="1935.7" y="593.8" width="351.8" height="511.2" fill="#fff" stroke="#262626" stroke-width="2.3"/>
<g stroke-width="2.6" fill="none">
<path stroke="#0072BD" d="M1951.9 637.1H2112.9"/>
<path stroke="#D95319" d="M1951.9 708.0H2112.9"/>
<path stroke="#EDB120" d="M1951.9 778.9H2112.9"/>
<path stroke="#7E2F8E" d="M1951.9 849.8H2112.9"/>
<path stroke="#77AC30" d="M1951.9 920.7H2112.9"/>
<path stroke="#4DBEEE" d="M1951.9 991.6H2112.9"/>
<path stroke="#A2142F" d="M1951.9 1062.5H2112.9"/>
</g>
<g class="lg">
<text x="2126" y="658.5">Test 1</text>
<text x="2126" y="729.4">Test 2</text>
<text x="2126" y="800.3">Test 3</text>
<text x="2126" y="871.2">Test 4</text>
<text x="2126" y="942.1">Test 5</text>
<text x="2126" y="1013.0">Test 6</text>
<text x="2126" y="1083.9">Test 7</text>
</g>
</svg>
</body>
</html>
